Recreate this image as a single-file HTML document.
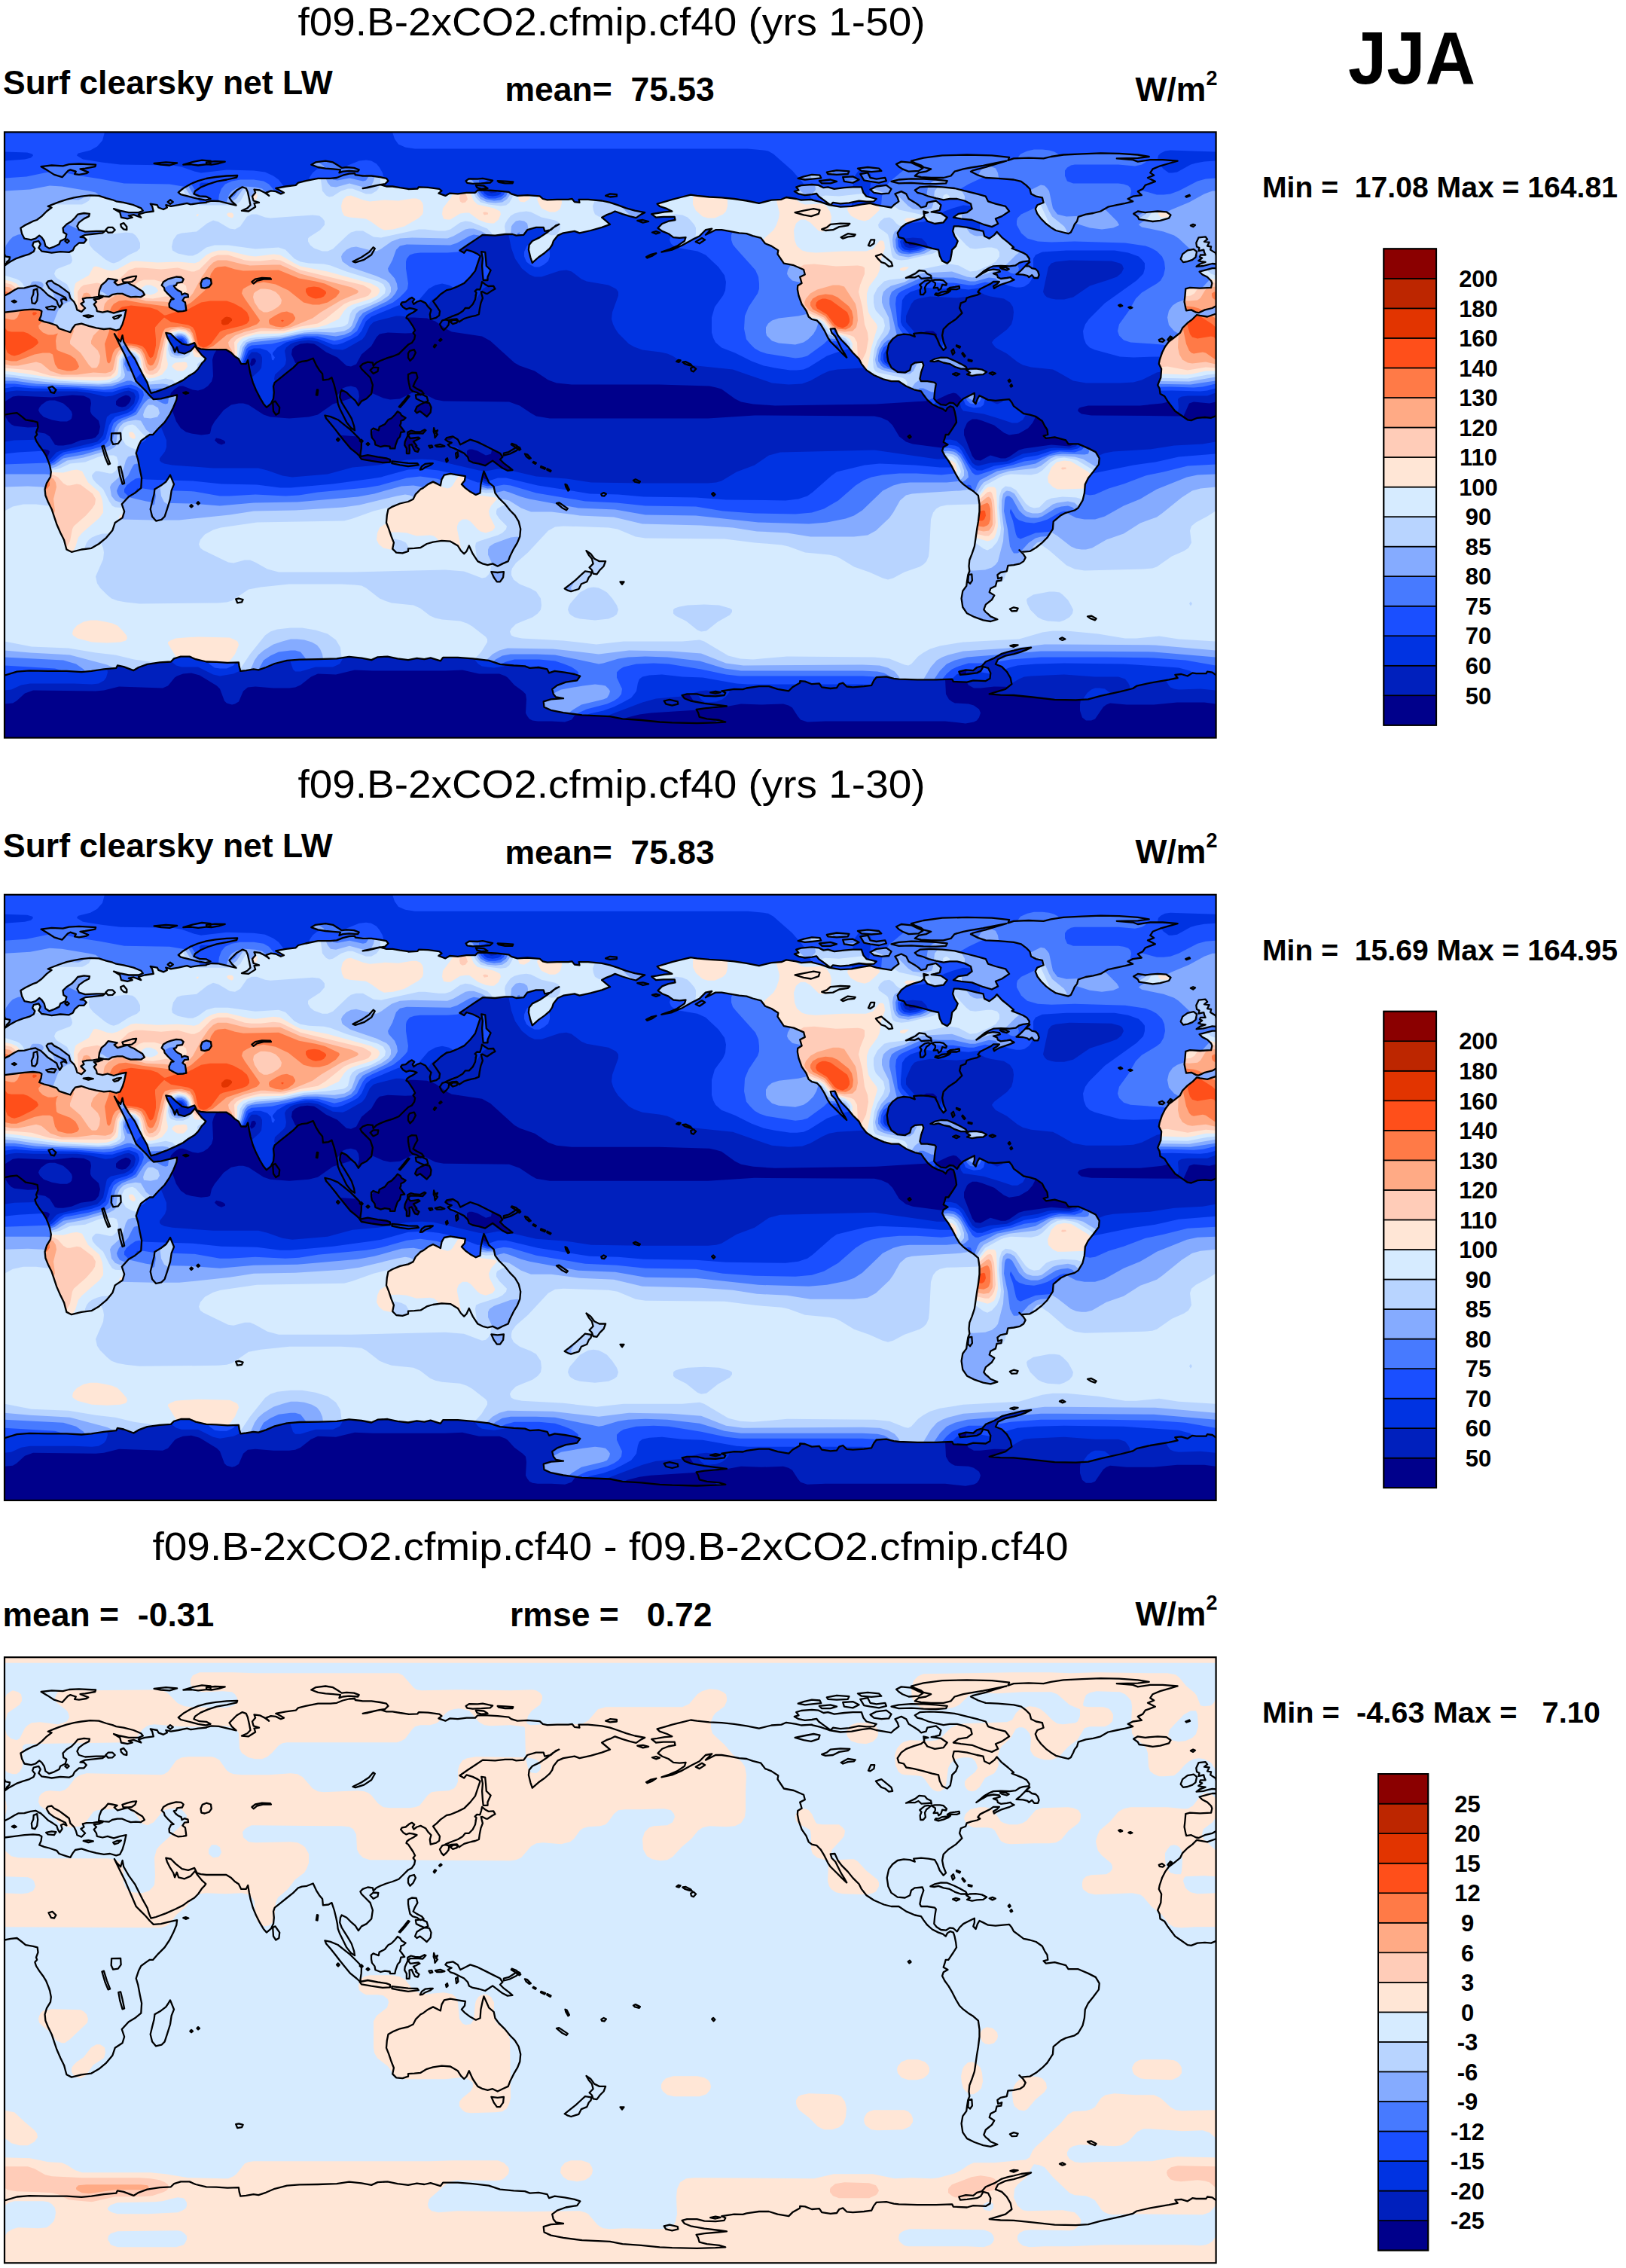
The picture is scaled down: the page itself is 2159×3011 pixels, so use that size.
<!DOCTYPE html>
<html><head><meta charset="utf-8"><title>JJA</title>
<style>html,body{margin:0;padding:0;background:#fff}svg{display:block;font-family:"Liberation Sans",sans-serif}</style>
</head><body>
<svg width="2159" height="3011" viewBox="0 0 2159 3011">
<rect width="2159" height="3011" fill="#fff"/>
<defs><clipPath id="frame"><rect x="0" y="0" width="1608.6" height="804.1"/></clipPath>
<clipPath id="landclip"><path clip-rule="evenodd" d="M575.6,467.5 578.9,469.2 580.5,460.9 583.8,455.2 592.0,453.5 601.9,455.2 611.8,456.8 611.0,462.6 606.9,467.5 611.8,472.5 618.4,477.4 625.8,481.5 631.6,479.1 632.4,467.5 634.9,456.0 636.5,450.2 639.8,457.6 643.1,465.1 649.7,470.8 651.4,479.1 656.3,485.7 664.6,493.9 671.2,502.1 677.7,508.7 682.7,517.0 685.2,526.9 684.3,536.8 681.0,545.0 676.1,553.2 671.2,563.1 668.7,569.7 661.3,573.0 654.7,576.3 648.1,573.0 641.5,574.7 634.9,573.0 628.3,569.7 625.0,564.8 621.7,559.8 616.8,549.1 613.5,556.5 610.2,559.8 606.0,555.7 601.9,549.1 592.0,543.3 580.5,542.5 569.0,544.2 560.7,546.6 552.5,551.6 544.2,552.4 536.0,552.9 536.0,556.5 528.4,559.0 520.2,558.2 515.2,553.2 516.9,545.0 513.6,536.8 510.3,526.9 507.0,518.6 507.8,508.7 509.5,500.5 515.2,497.2 525.1,493.1 536.0,490.6 542.6,487.3 545.9,480.7 552.5,474.1 555.8,472.5 562.4,467.5 569.0,464.2ZM196.1,510.4 193.7,500.5 196.1,490.6 198.6,480.7 199.4,474.1 207.7,469.2 214.3,464.2 217.6,459.3 220.0,455.2 225.0,467.5 221.7,475.8 220.0,487.3 215.9,500.5 212.6,510.4 208.5,514.5 201.1,516.2ZM474.0,434.2 471.6,430.9 472.2,430.8 467.4,426.3 459.2,419.7 451.0,409.8 444.4,401.6 439.4,395.0 432.8,386.8 427.1,380.2 425.4,376.1 432.8,377.7 442.7,381.8 451.0,388.4 459.2,395.0 465.8,401.6 470.7,406.5 474.0,411.5 473.7,419.7 472.7,426.3 472.4,430.8 482.3,428.8 495.5,431.3 507.0,432.9 511.9,434.6 511.9,438.2 502.0,438.7 487.2,436.5ZM638.2,416.4 648.1,421.4 658.0,426.3 661.3,431.3 658.0,434.6 662.9,439.5 669.5,444.5 674.5,448.6 667.9,449.4 661.3,446.1 654.7,441.2 648.1,436.2 643.1,439.5 638.2,442.8 629.9,440.3 621.7,438.7 616.8,436.2 615.1,431.3 610.2,426.3 603.6,423.0 597.0,419.7 592.0,418.1 588.7,414.8 593.7,412.3 588.7,410.7 585.4,408.2 587.1,405.7 595.3,404.1 601.9,408.2 605.2,414.8 611.8,411.5 618.4,408.2 628.3,411.5ZM542.9,399.9 538.4,399.9 536.2,403.0 538.8,406.6 542.9,406.1 549.6,405.2 551.4,406.6 546.0,409.3 542.9,410.6 547.3,416.4 546.0,417.3 550.5,420.9 548.7,424.5 545.1,423.6 542.9,420.0 540.6,414.6 537.5,415.5 537.9,422.2 537.5,426.7 533.9,426.7 533.9,420.0 531.2,415.5 531.7,411.1 535.3,403.0 535.3,398.5 539.7,396.3 545.1,397.7 551.8,398.1 557.6,395.0 559.4,395.9 555.4,400.3 549.6,399.9ZM513.8,379.8 518.3,375.3 521.9,370.8 525.4,373.1 527.2,376.2 532.6,379.3 529.9,382.0 526.3,383.4 526.3,386.5 525.0,389.6 527.2,392.3 531.2,397.7 526.3,398.5 525.0,404.4 521.9,407.9 520.5,411.9 519.2,415.5 518.3,420.0 512.0,420.0 511.6,417.3 504.9,416.4 499.5,417.8 492.4,415.1 491.5,410.2 487.9,405.7 487.0,400.8 487.0,395.4 489.7,393.2 492.8,394.5 496.8,395.9 497.7,391.4 504.9,387.8 509.4,382.0ZM555.8,373.7 551.7,370.4 547.5,372.8 545.1,370.4 547.5,364.6 552.5,361.3 558.3,358.8 564.0,359.7 566.5,365.4 565.7,372.0 560.7,377.8ZM556.6,347.3 552.5,348.9 547.5,345.6 541.8,344.0 538.5,340.7 536.8,332.5 536.0,327.5 536.0,321.7 540.9,319.3 546.7,319.6 548.4,325.9 545.1,331.6 542.6,337.4 547.5,340.7 554.1,344.0ZM38.7,146.3 45.3,144.6 47.8,148.8 45.3,153.7 49.4,158.2 56.0,159.1 62.6,160.3 74.2,158.7 85.7,159.5 90.7,157.0 93.1,152.1 98.9,147.1 105.5,147.1 108.8,143.0 105.5,139.7 100.5,139.4 107.1,136.4 118.7,135.1 130.2,133.9 133.5,131.5 122.0,131.5 107.1,132.3 98.9,129.8 96.4,124.9 98.9,119.9 105.5,115.0 112.1,111.7 112.9,108.4 105.5,107.6 97.2,109.2 93.9,113.3 89.0,118.3 82.4,122.4 77.5,127.3 78.3,133.1 82.4,135.6 80.8,141.3 74.2,144.6 72.5,148.8 65.9,152.1 59.3,154.5 54.4,151.2 52.7,144.6 49.4,139.7 46.2,137.2 41.2,141.3 35.4,143.0 26.4,141.3 23.1,134.8 21.4,127.3 28.0,123.2 37.9,118.3 42.9,116.6 49.4,111.7 56.0,105.1 62.6,100.1 57.7,98.5 65.9,95.2 72.5,92.7 82.4,89.4 92.3,87.0 102.2,85.3 113.7,84.0 125.3,84.5 135.2,87.8 143.4,89.9 148.3,91.9 158.2,93.5 171.4,96.8 181.3,101.0 183.8,104.3 178.0,106.7 164.8,106.7 153.3,104.3 145.0,101.8 153.3,106.7 154.9,113.3 163.2,115.0 169.8,113.3 164.8,110.9 171.4,109.7 181.3,113.3 178.0,109.2 186.2,106.7 197.8,105.1 196.1,98.5 193.7,95.2 202.7,96.8 204.4,100.1 211.0,102.6 215.9,100.1 214.3,96.8 220.9,98.5 230.8,96.8 242.3,94.4 247.2,96.0 257.1,94.4 268.0,93.5 268.0,92.9 274.6,91.2 284.5,91.6 296.0,94.4 307.6,97.2 301.8,91.9 298.5,87.0 303.4,82.0 308.4,77.1 315.8,72.9 320.7,74.6 322.9,79.5 324.9,88.6 326.5,96.8 322.4,101.0 315.0,104.3 324.0,105.1 333.1,99.3 331.5,94.4 338.0,93.5 330.6,91.1 329.0,85.3 333.1,80.4 331.5,76.2 338.9,77.1 345.5,80.4 351.2,84.5 347.1,80.4 353.7,77.9 360.3,78.7 366.9,82.0 371.0,80.4 365.2,77.1 360.3,74.6 373.5,72.1 386.7,70.5 390.0,67.2 399.9,64.7 416.3,61.4 432.8,61.4 441.1,60.6 449.3,57.3 457.5,55.3 465.0,54.8 465.8,56.8 475.7,58.1 487.2,58.1 498.8,59.8 507.0,61.4 509.5,64.7 505.3,68.8 499.3,69.8 507.0,72.1 515.2,72.1 525.1,73.8 536.0,75.4 536.0,75.7 548.4,75.1 550.0,72.9 562.4,73.4 577.2,75.4 580.5,77.9 576.4,81.2 585.4,84.5 591.2,81.2 601.9,82.0 613.5,80.4 625.0,80.4 628.3,77.1 641.5,77.1 654.7,77.9 669.5,79.5 672.8,82.0 681.0,84.5 694.2,83.7 710.7,85.0 714.8,88.6 720.6,89.9 733.8,89.4 748.6,89.4 753.6,88.6 756.9,92.7 763.5,93.5 762.6,89.4 775.0,89.4 793.1,91.1 804.0,93.5 813.9,96.8 825.4,101.0 837.0,104.3 850.2,106.7 845.2,109.2 838.6,113.7 830.4,111.7 820.5,108.7 810.6,105.1 805.6,107.6 799.1,110.0 793.1,113.3 799.1,118.3 804.0,122.4 793.1,126.5 778.3,130.6 763.5,133.9 756.9,131.5 742.0,133.9 734.6,137.2 728.8,144.6 727.2,149.6 723.9,154.5 717.3,160.3 709.1,166.1 700.8,173.5 698.3,166.1 695.9,156.2 696.7,149.6 700.8,144.6 710.7,139.7 720.6,133.1 724.4,130.0 717.3,131.5 715.7,126.5 705.8,126.5 694.2,129.8 689.3,136.4 679.4,137.2 674.5,135.6 664.6,135.6 651.4,137.2 634.9,136.4 625.0,143.0 615.1,149.6 604.4,157.0 610.2,160.3 613.5,156.2 621.7,158.7 628.3,161.9 631.6,164.4 628.3,174.3 625.0,184.2 618.4,192.4 610.2,200.7 610.2,200.6 601.9,204.7 592.0,208.8 587.1,209.7 578.9,215.4 573.9,220.4 569.0,224.5 573.1,230.3 578.0,237.7 577.2,243.5 573.1,246.4 565.7,248.4 564.8,241.8 566.5,236.0 562.4,231.9 559.1,227.0 552.5,223.7 547.5,225.3 543.4,228.3 541.8,225.3 544.2,222.0 540.9,219.6 537.6,221.2 532.7,225.3 527.8,226.1 526.1,228.6 529.4,232.7 533.5,235.2 537.6,233.6 542.6,234.4 547.5,236.0 542.6,239.3 537.6,241.8 534.4,244.3 533.5,246.8 536.0,248.4 539.3,253.3 542.6,258.3 545.1,263.2 542.6,266.5 545.1,269.8 544.2,274.8 540.9,279.7 536.0,282.2 530.1,288.0 523.5,294.5 515.2,297.8 507.0,300.3 498.8,303.6 493.8,306.1 489.7,310.2 488.9,306.1 482.3,305.3 475.7,307.7 472.4,311.0 474.0,314.3 479.0,319.3 485.6,325.9 488.9,335.8 487.2,347.3 480.6,353.9 474.0,357.2 469.9,362.9 465.8,356.4 459.2,350.6 454.2,345.6 447.7,342.3 446.0,345.6 445.2,352.2 447.7,358.8 451.8,365.4 455.9,372.0 460.8,380.3 464.1,390.1 465.0,395.9 460.0,392.6 454.2,385.2 449.3,375.3 445.2,367.1 442.7,360.5 441.9,353.9 440.2,345.6 437.8,335.8 434.5,325.9 430.3,328.3 422.9,329.2 422.1,320.9 418.0,316.0 413.9,309.4 409.7,300.3 401.5,303.6 394.9,304.4 390.0,306.1 383.4,312.7 375.1,319.3 366.9,325.9 358.7,332.5 357.0,337.4 357.8,345.6 357.0,353.9 353.7,360.5 347.9,365.4 343.8,360.5 338.9,352.2 333.9,342.3 329.8,332.5 326.5,320.9 324.9,312.7 323.2,302.8 320.7,307.7 314.2,307.7 310.9,301.1 305.9,297.8 301.0,292.9 294.4,288.8 281.2,288.8 268.0,288.8 260.4,288.0 255.5,286.3 252.2,279.7 243.9,282.7 235.7,281.0 227.5,274.4 220.9,267.8 214.3,266.5 215.9,271.5 219.2,278.1 224.2,286.3 226.1,292.1 228.8,285.5 231.1,292.1 239.0,294.1 247.2,290.4 253.0,283.8 255.5,288.0 262.1,296.2 267.3,300.8 265.4,303.6 262.1,306.9 257.1,314.3 252.2,319.3 243.9,324.2 237.3,329.2 227.5,334.1 214.3,339.9 201.1,344.8 194.5,346.5 192.0,340.7 189.5,332.5 183.0,320.9 177.2,309.4 173.1,301.1 164.8,289.6 158.2,278.1 156.6,269.8 154.1,278.1 149.2,273.1 145.9,267.8 150.0,276.4 154.9,286.3 159.9,296.2 164.8,307.7 169.8,319.3 174.7,330.8 181.3,337.4 187.9,344.0 192.8,349.8 197.8,354.7 207.7,353.9 217.6,351.4 229.1,348.9 228.3,355.5 224.2,365.4 219.2,375.3 212.6,385.2 204.4,393.4 197.0,401.7 192.8,401.6 187.9,404.9 181.3,409.8 178.0,416.4 174.7,426.3 177.2,434.6 179.7,447.8 182.1,459.3 181.3,472.5 173.1,479.1 164.8,484.0 155.8,493.9 159.1,503.8 156.6,512.0 146.7,518.6 143.4,528.5 135.2,538.4 125.3,546.6 115.4,552.4 102.2,554.1 89.0,557.4 82.4,554.1 80.8,548.3 79.1,541.7 74.2,531.8 69.2,520.3 65.9,510.4 62.6,500.5 57.7,490.6 54.4,482.4 53.6,474.1 56.0,465.9 61.0,457.6 61.8,451.0 60.2,442.8 58.5,437.9 55.2,429.6 51.1,423.0 46.2,416.4 42.0,409.8 40.4,404.9 43.2,401.6 42.0,398.4 44.5,391.8 43.7,385.2 37.9,383.6 28.0,381.9 23.1,377.8 16.5,372.8 8.2,373.7 0.0,375.3 -8.9,375.3 -8.9,239.3 0.0,239.3 13.2,237.7 26.4,236.0 37.9,235.2 46.2,236.0 49.4,237.7 48.6,243.5 46.2,249.2 52.7,251.7 59.3,253.3 69.2,256.6 72.5,260.8 82.4,264.1 87.4,265.7 90.7,259.9 93.9,255.8 102.2,254.2 112.1,257.5 122.0,259.9 131.9,261.6 140.1,260.8 148.3,263.2 153.3,261.6 156.6,255.0 159.1,246.8 160.7,239.3 161.5,236.0 153.3,237.7 145.0,240.2 136.8,237.7 130.2,239.3 122.8,237.7 122.0,233.6 118.7,228.6 122.0,225.3 118.7,222.0 125.3,221.2 130.2,219.1 123.6,218.7 117.8,219.6 108.8,220.0 103.8,221.2 105.5,225.3 101.4,227.8 107.1,233.6 102.2,238.5 96.4,236.0 94.8,230.3 92.3,225.3 87.4,220.4 85.7,213.8 79.1,208.8 72.5,203.9 65.9,200.6 62.6,197.3 57.7,198.1 55.7,200.6 56.9,203.1 59.3,207.2 65.9,212.1 72.5,215.4 80.8,219.6 82.4,223.3 78.3,221.2 75.0,222.9 76.6,227.8 73.3,232.7 70.9,228.6 69.2,223.7 64.3,220.4 57.7,216.3 52.7,211.3 47.8,206.9 45.3,205.9 41.2,203.6 34.6,204.7 26.4,206.9 18.1,207.2 13.2,209.7 6.6,213.8 0.0,217.1 -8.9,217.1 -8.9,177.3 0.0,177.3 6.6,172.7 15.7,167.7 24.7,164.4 33.0,161.9 38.7,158.7 40.4,154.5 37.1,150.4ZM498.8,69.6 487.2,72.1 475.7,74.6 482.3,73.8 495.5,70.5 499.3,69.8ZM725.5,129.8 730.1,125.8 728.8,126.5 724.4,130.0ZM736.3,122.4 732.1,124.0 730.1,125.8ZM43.2,401.7 43.2,401.6 43.2,401.6ZM211.8,206.4 212.7,210.0 216.7,214.5 221.2,218.9 224.7,221.6 221.2,222.1 218.5,227.9 218.9,232.3 224.7,235.5 230.1,238.1 236.8,237.7 241.3,236.8 240.8,232.3 239.9,226.1 236.4,223.4 239.0,219.4 244.0,218.9 243.5,215.4 239.0,214.0 235.5,215.8 234.6,212.2 230.1,210.0 227.4,207.8 224.7,204.2 227.9,203.3 229.2,200.2 235.9,199.3 237.7,195.3 234.6,192.6 227.9,192.1 221.2,193.9 216.7,195.3 210.9,198.8 208.7,203.3ZM125.1,216.7 131.8,218.0 138.5,218.5 143.0,215.8 149.7,214.5 156.4,214.5 162.2,217.1 167.6,218.9 174.3,218.5 181.0,218.9 185.9,215.8 183.2,211.3 177.4,207.8 172.0,204.2 167.6,202.4 163.5,199.7 157.7,201.1 150.1,203.3 145.7,199.3 149.7,196.6 143.0,195.3 137.6,194.4 134.0,198.8 128.7,203.3 126.0,210.0ZM260.5,201.1 261.4,206.4 265.8,207.3 271.7,205.5 274.8,201.1 273.9,195.3 268.1,193.5 262.7,195.7ZM625.8,217.1 625.9,216.6 625.5,216.7 626.2,214.9 626.5,212.9 624.6,211.3 627.3,208.7 631.3,209.1 633.1,203.3 634.0,198.8 638.0,202.0 642.5,204.6 649.2,204.2 651.4,208.2 647.9,210.0 641.2,214.5 639.8,214.5 634.5,211.8 632.8,212.0 633.6,215.4 634.9,220.4 632.4,227.0 630.8,235.2 629.9,241.8 625.0,243.8 620.1,244.8 615.1,246.1 610.2,247.7 606.0,250.4 603.6,252.0 600.6,248.1 593.7,248.7 588.7,250.0 585.4,248.4 593.7,244.8 601.9,241.8 608.5,237.7 611.8,233.6 616.8,233.6 621.7,228.6 625.0,222.0ZM-0.5,160.5 1.0,164.9 7.1,166.1 6.4,169.4 2.7,172.7 5.1,173.7 0.2,175.1 -4.8,174.6 -10.5,176.0 -13.4,176.7 -13.4,145.7 -8.9,146.3 -11.4,151.2 -6.4,152.1 -7.2,156.2ZM-11.4,142.2 -13.4,143.8 -13.4,139.4ZM309.2,57.6 308.2,60.3 295.0,63.1 281.8,65.5 270.3,69.2 260.4,73.4 253.0,78.4 251.4,82.0 258.8,85.0 268.0,85.6 273.6,88.6 267.0,90.3 257.1,88.6 243.9,85.3 234.0,82.8 230.8,80.0 237.3,74.6 247.2,68.8 257.1,64.7 268.0,61.6 280.2,59.6 295.0,58.1ZM100.5,49.0 111.3,53.2 108.8,54.8 98.9,56.5 93.1,55.6 94.8,52.3 87.4,49.9 84.1,51.5 76.6,59.8 65.9,56.5 56.9,50.7 48.6,45.8 62.6,44.1 77.5,44.9 85.7,42.8 98.9,42.1 121.1,43.3 120.3,45.8 107.1,48.2ZM470.7,49.9 469.1,52.3 457.5,51.5 449.3,52.3 444.4,54.0 446.0,49.9 436.1,49.0 426.2,48.2 416.3,46.6 407.3,43.3 413.0,40.0 426.2,38.3 436.1,40.0 442.7,44.1 447.7,47.4 454.2,46.6 464.1,47.4ZM237.3,43.3 250.5,39.5 262.1,37.2 273.6,38.3 273.6,42.1 257.1,44.1 247.2,42.8ZM148.3,711.4 150.0,708.1 158.2,709.7 171.4,714.7 178.0,710.6 189.5,706.4 206.0,704.0 220.9,703.1 225.0,699.0 234.0,696.2 245.6,696.2 253.8,699.8 268.0,703.1 281.2,703.5 296.0,704.5 310.9,704.0 311.7,709.7 313.3,715.5 320.7,714.7 330.6,713.0 337.2,713.9 347.1,710.6 358.7,705.6 375.1,701.5 391.6,700.2 416.3,699.8 441.1,699.0 457.5,696.5 474.0,698.2 487.2,700.7 495.5,696.9 508.6,696.2 521.8,699.0 536.0,700.7 547.5,698.5 557.4,699.8 565.7,697.9 578.9,702.0 582.2,697.4 601.9,697.4 621.7,699.0 643.1,701.5 658.0,706.4 676.1,708.1 690.9,708.9 697.5,711.4 709.1,710.6 720.6,713.0 723.1,718.0 730.5,715.5 743.7,717.2 756.9,719.6 764.3,722.1 760.2,727.9 745.3,730.3 733.8,734.5 727.2,739.4 728.8,746.0 732.1,750.1 742.0,751.8 725.5,752.9 715.7,755.9 716.5,763.3 725.5,767.4 742.0,770.7 766.8,774.0 804.0,775.7 820.5,779.0 845.2,780.6 869.9,783.1 886.4,783.9 919.4,784.7 944.1,783.9 957.3,783.1 949.0,780.6 932.6,779.0 922.7,776.5 921.0,770.7 918.6,766.6 929.3,764.9 947.4,763.3 958.9,762.1 949.0,760.8 929.3,758.4 911.1,755.1 902.9,751.8 899.6,747.6 906.2,746.0 919.4,746.0 929.3,748.5 944.1,749.0 955.6,747.6 957.3,744.3 952.3,741.9 968.8,739.4 980.4,739.7 985.3,738.1 1001.8,735.8 1015.0,735.8 1026.5,739.4 1041.3,741.9 1046.3,736.9 1056.2,731.2 1056.2,728.7 1062.8,729.2 1072.0,732.8 1081.9,732.0 1085.2,736.9 1096.7,738.6 1105.0,737.8 1108.3,732.8 1113.2,731.2 1118.2,736.1 1126.4,736.9 1141.2,735.8 1151.1,734.5 1154.4,727.9 1157.7,723.7 1170.9,722.9 1180.8,725.4 1187.4,726.2 1212.1,727.0 1236.8,727.0 1258.2,726.2 1259.9,729.5 1278.0,730.3 1286.3,727.9 1302.8,728.7 1308.5,725.4 1309.3,718.0 1306.0,711.4 1299.5,709.7 1296.2,715.5 1291.2,718.0 1278.0,719.6 1269.0,720.4 1267.3,716.3 1276.4,713.9 1286.3,714.7 1291.2,710.6 1297.8,708.9 1302.8,703.1 1314.3,698.2 1324.2,692.4 1332.4,690.0 1340.0,688.3 1349.9,685.8 1363.1,684.2 1356.5,687.5 1349.9,690.0 1340.0,692.9 1329.1,695.2 1319.2,699.8 1315.9,706.4 1324.2,709.7 1330.8,716.3 1335.7,724.6 1337.4,732.8 1329.1,739.4 1315.9,743.5 1307.7,746.0 1322.5,747.3 1340.0,747.6 1364.7,750.1 1394.4,753.4 1422.4,753.9 1438.9,752.9 1455.4,748.5 1481.7,742.7 1498.2,738.6 1503.2,735.3 1521.3,731.2 1546.0,727.0 1557.6,724.6 1554.3,720.4 1562.5,719.6 1570.8,722.1 1577.3,718.0 1582.3,718.8 1595.5,718.8 1597.1,716.3 1603.7,717.2 1608.0,720.4 1617.4,720.4 1617.4,813.2 -8.9,813.2 -8.9,721.3 0.0,721.3 16.5,716.3 33.0,715.0 57.7,715.5 82.4,715.5 102.2,716.7 115.4,715.5 131.9,713.0ZM748.1,608.5 743.7,606.1 750.3,601.0 758.5,594.4 765.1,588.3 770.9,582.9 779.1,584.2 778.6,588.2 775.8,591.1 773.3,596.9 765.9,599.9 762.5,606.6 752.2,609.8ZM646.4,583.7 654.7,584.6 662.9,583.7 662.1,591.1 658.0,596.9 653.8,596.9 649.7,591.1ZM781.6,586.2 779.9,581.3 776.6,578.0 781.6,573.0 779.9,566.4 775.8,561.5 772.5,555.7 778.3,559.8 783.2,566.4 789.8,569.7 798.1,569.7 795.6,576.3 790.6,581.3 786.5,587.0ZM1004.3,140.5 993.5,137.7 985.3,134.8 975.4,133.9 962.2,131.5 952.3,129.8 944.1,129.8 930.9,136.4 935.9,131.5 939.2,128.2 930.9,129.8 922.7,138.1 912.8,143.0 899.6,150.4 886.4,156.2 872.4,159.1 883.1,155.4 893.0,151.2 902.9,144.6 904.5,139.7 896.3,140.5 888.1,139.7 881.5,134.8 873.2,131.5 867.5,127.3 873.2,121.6 881.5,118.3 890.5,116.6 889.7,112.5 874.9,112.5 865.0,113.3 859.2,108.7 866.6,107.6 876.5,105.9 886.4,105.1 879.8,101.8 869.9,98.5 866.6,95.2 878.2,91.9 886.4,89.4 899.6,86.1 911.1,83.3 919.4,84.5 935.9,86.1 952.3,87.0 968.8,88.6 985.3,91.1 1001.8,94.4 1018.3,90.3 1031.5,89.4 1038.0,86.6 1051.2,88.6 1057.8,90.3 1072.0,89.4 1072.0,89.9 1083.5,92.7 1095.1,96.8 1109.9,99.3 1124.7,98.5 1137.9,96.0 1149.5,94.4 1157.7,96.8 1167.6,98.5 1177.5,100.1 1180.8,96.8 1187.4,91.9 1185.7,87.0 1182.4,82.0 1190.7,78.7 1197.3,82.0 1200.6,88.6 1208.8,93.5 1213.7,96.8 1217.0,100.1 1223.6,98.5 1225.3,93.5 1236.8,91.1 1243.4,96.8 1241.8,103.4 1235.2,105.1 1230.7,106.0 1243.4,107.6 1251.7,113.3 1246.7,119.9 1235.2,121.6 1225.3,118.3 1221.2,112.5 1221.2,111.7 1217.0,115.0 1207.2,117.9 1197.3,121.6 1190.7,126.5 1185.7,133.9 1187.4,139.7 1194.0,141.3 1197.3,146.3 1207.2,147.9 1220.3,151.2 1231.9,154.5 1240.1,156.2 1241.8,164.4 1245.1,171.0 1251.7,174.3 1255.8,170.2 1257.4,161.9 1258.2,156.2 1263.2,151.2 1265.7,144.6 1261.5,138.1 1259.1,131.5 1260.7,124.9 1266.5,124.9 1278.0,126.5 1291.2,129.8 1299.5,131.5 1301.1,138.1 1307.7,141.3 1314.3,136.4 1317.6,132.3 1324.2,139.7 1332.4,146.3 1340.0,152.9 1337.6,154.3 1347.5,158.2 1352.4,160.2 1357.3,163.1 1360.8,168.1 1360.3,171.0 1352.4,172.0 1347.5,173.5 1342.6,176.9 1334.7,177.9 1322.9,177.4 1313.0,177.9 1308.1,179.9 1301.2,183.8 1295.3,188.7 1290.4,192.7 1298.3,187.7 1305.2,183.8 1313.0,182.3 1320.9,183.3 1321.9,185.3 1317.0,186.8 1313.0,187.7 1318.0,189.7 1318.9,192.7 1322.9,194.6 1330.8,193.6 1335.7,192.7 1337.6,194.6 1340.6,196.1 1334.7,198.6 1322.9,202.5 1317.0,205.4 1314.0,207.4 1313.0,204.5 1318.0,201.5 1320.9,198.6 1313.0,198.6 1309.1,201.5 1301.2,205.4 1295.3,208.4 1292.4,212.3 1295.3,214.3 1291.4,216.3 1283.5,218.2 1277.6,220.2 1276.1,224.6 1269.8,227.0 1268.1,233.6 1271.4,240.2 1263.2,248.4 1253.3,255.0 1246.7,261.6 1245.1,269.8 1246.7,278.1 1250.0,286.3 1246.7,289.6 1241.8,283.0 1238.5,274.8 1235.2,269.0 1226.9,267.4 1217.0,266.5 1207.2,267.4 1208.8,271.5 1202.2,269.0 1194.0,268.2 1185.7,269.8 1179.1,274.8 1174.2,281.4 1171.7,292.9 1173.4,304.4 1177.5,312.7 1185.7,318.4 1195.6,319.3 1202.2,316.0 1203.9,309.4 1208.8,306.1 1218.7,305.3 1220.3,309.4 1217.0,319.3 1215.4,327.5 1217.0,330.8 1225.3,330.8 1235.2,332.5 1236.8,334.4 1235.2,344.0 1234.3,353.9 1237.6,358.0 1243.4,361.8 1250.0,362.5 1255.0,359.2 1259.9,359.8 1264.8,364.1 1268.1,358.8 1273.1,353.9 1279.7,350.6 1287.9,346.5 1287.9,352.2 1286.3,357.2 1289.6,360.8 1292.0,353.9 1294.5,349.8 1299.5,352.2 1306.0,355.5 1315.9,356.4 1325.8,355.5 1334.1,354.7 1337.4,358.8 1340.0,363.8 1346.6,368.7 1353.2,373.7 1361.4,375.3 1369.7,377.8 1377.9,383.6 1381.2,390.1 1384.5,395.1 1385.3,401.6 1379.6,403.2 1382.9,406.5 1394.4,404.9 1409.2,409.0 1412.5,414.0 1425.7,414.0 1438.9,419.7 1448.8,424.7 1453.7,432.9 1452.9,441.2 1445.5,451.0 1438.9,459.3 1434.8,467.5 1433.9,479.1 1431.5,489.0 1425.7,498.8 1420.8,502.1 1409.2,505.4 1402.6,508.7 1392.7,517.0 1391.9,526.9 1384.5,538.4 1377.9,545.0 1369.7,551.6 1361.4,556.5 1349.9,557.4 1347.4,554.9 1352.4,559.8 1355.7,564.8 1353.2,569.7 1348.2,573.0 1340.0,574.7 1332.4,575.5 1330.8,582.9 1322.5,584.6 1318.4,587.8 1319.2,592.8 1324.2,591.1 1323.4,595.3 1317.6,596.1 1315.9,602.7 1315.9,602.6 1309.3,605.9 1307.7,610.8 1314.3,615.0 1311.0,620.7 1302.8,627.3 1300.3,633.9 1302.8,637.2 1306.0,639.7 1309.3,643.0 1318.4,646.8 1309.3,649.6 1299.5,647.9 1287.9,643.8 1278.0,638.9 1272.3,630.6 1270.6,619.1 1272.3,609.2 1277.2,602.6 1277.2,602.7 1278.0,596.1 1279.3,587.8 1281.3,582.9 1280.5,576.3 1281.3,568.1 1284.6,559.8 1287.9,549.9 1289.6,538.4 1291.2,526.9 1292.9,517.0 1294.5,503.8 1294.5,493.9 1292.9,482.4 1286.3,476.6 1279.7,472.5 1273.1,467.5 1268.1,462.6 1263.2,454.3 1258.2,444.5 1253.3,436.2 1248.4,429.6 1245.1,423.0 1246.7,418.1 1252.5,414.8 1246.7,411.5 1248.4,406.5 1249.7,401.6 1253.3,401.7 1256.6,396.7 1259.9,391.8 1264.0,385.2 1263.2,378.6 1261.5,370.4 1259.9,365.4 1255.8,363.8 1252.0,366.2 1249.7,370.4 1245.9,367.4 1240.1,365.4 1231.9,361.3 1225.3,355.5 1220.3,348.9 1217.0,344.0 1208.8,342.3 1197.3,337.4 1187.4,330.8 1177.5,330.8 1167.6,328.3 1154.4,322.6 1144.5,316.0 1137.9,307.7 1134.6,301.1 1126.4,292.9 1119.8,284.7 1111.6,276.4 1106.6,269.8 1102.5,260.8 1096.7,261.3 1098.4,266.5 1103.3,271.5 1107.4,279.7 1111.6,288.0 1115.7,294.5 1118.2,299.2 1111.6,292.9 1105.0,286.3 1096.7,278.1 1093.4,273.1 1088.5,263.2 1083.5,255.0 1078.6,250.0 1072.0,248.4 1067.7,245.1 1064.4,236.9 1058.6,228.6 1054.5,217.1 1052.9,208.8 1053.2,203.9 1058.6,200.6 1056.2,192.4 1062.8,189.1 1061.1,182.6 1047.9,176.8 1034.8,174.3 1026.5,161.9 1027.3,157.0 1018.3,151.2 1010.0,147.9ZM1221.2,107.6 1226.4,106.6 1220.3,105.1 1221.2,111.7ZM1058.6,200.7 1058.6,200.6 1058.6,200.6ZM634.9,189.1 634.1,177.6 634.9,167.7 633.2,158.7 638.2,159.5 639.0,167.7 639.8,177.6 645.6,183.4 641.5,192.4 641.5,196.6 635.7,196.6ZM1144.5,85.3 1157.7,88.6 1154.4,91.9 1144.5,92.2 1134.6,91.2 1121.4,93.9 1109.9,94.9 1100.0,93.5 1096.7,96.8 1086.8,89.4 1081.1,85.3 1078.2,81.6 1072.0,82.8 1062.8,83.7 1054.5,82.0 1048.8,78.7 1054.5,77.1 1051.2,72.9 1057.8,70.8 1072.0,69.6 1080.9,70.5 1087.5,73.8 1087.5,73.8 1093.4,72.9 1101.7,75.4 1114.9,73.8 1126.4,72.9 1137.9,72.9 1140.4,80.4ZM1157.7,72.1 1170.9,70.5 1177.5,75.4 1174.2,81.2 1164.3,82.0 1154.4,80.4 1149.5,76.2ZM614.3,67.5 612.6,64.7 616.8,61.9 628.3,62.2 634.9,61.4 648.1,64.2 644.8,67.2 633.2,68.0 621.7,68.5ZM1134.6,63.1 1126.4,67.2 1114.9,65.5 1113.2,59.8 1126.4,58.9ZM1141.2,63.9 1136.3,55.6 1146.2,54.0 1149.5,60.6 1157.7,62.2 1169.2,60.6 1170.9,64.7 1161.0,67.2 1149.5,65.5ZM1082.5,57.3 1084.2,60.9 1072.0,62.2 1062.8,63.1 1053.7,61.4 1061.1,58.9 1072.0,56.5ZM1105.0,50.7 1121.4,52.0 1119.8,55.6 1105.0,56.5 1093.4,55.6 1091.8,53.2ZM1161.0,48.2 1164.3,51.5 1151.1,52.7 1137.9,51.5 1133.0,48.2 1146.2,46.6ZM1385.3,401.6 1385.3,401.7 1385.3,401.6ZM1284.6,323.4 1278.0,321.7 1282.1,319.3 1277.2,316.0 1281.3,314.3 1289.6,314.0 1297.8,315.2 1304.1,318.4 1299.5,321.7 1291.2,322.2ZM1554.3,370.4 1549.3,363.8 1544.4,357.2 1540.3,350.6 1534.5,347.3 1533.7,340.7 1531.2,335.8 1535.3,325.9 1536.1,314.3 1532.8,307.7 1533.7,302.8 1537.0,292.9 1541.1,284.7 1546.0,278.1 1552.6,273.1 1560.9,266.5 1564.2,259.9 1570.8,253.3 1577.3,248.4 1583.1,242.6 1587.2,243.5 1597.1,245.1 1610.3,240.5 1610.3,376.1 1602.1,379.4 1593.8,378.6 1583.9,379.4 1575.7,382.7 1570.8,381.9 1562.5,376.1ZM1269.8,314.3 1261.5,311.4 1255.0,307.7 1246.7,306.1 1240.1,303.6 1234.3,304.8 1229.4,304.1 1235.2,301.1 1243.4,299.2 1251.7,299.5 1261.5,303.6 1269.8,307.7 1276.4,311.4 1278.0,314.3ZM1568.3,233.6 1566.6,225.3 1567.5,217.1 1568.3,208.0 1574.0,206.4 1587.2,207.2 1602.1,206.4 1603.4,200.6 1602.1,197.3 1597.1,192.4 1590.5,189.1 1586.6,185.3 1597.1,182.5 1603.7,180.8 1610.3,180.8 1610.3,229.9 1603.7,233.6 1593.8,236.0 1585.6,239.8 1582.3,239.3 1575.7,236.0 1569.1,236.9ZM1358.3,190.7 1352.4,189.2 1343.5,188.7 1348.5,184.8 1354.4,178.9 1355.4,177.9 1360.3,177.9 1364.2,180.8 1369.1,181.8 1372.1,184.8 1373.6,189.7 1372.1,193.6 1367.2,193.6 1364.2,189.7 1360.3,192.7ZM1358.3,174.5 1361.3,172.5 1355.4,177.9 1355.4,177.9ZM1570.8,171.8 1565.0,172.7 1561.7,168.5 1564.2,161.9 1570.8,157.0 1579.0,155.4 1583.1,158.7 1581.5,166.1 1577.3,169.4ZM1608.0,160.5 1609.5,164.9 1615.6,166.1 1614.9,169.4 1611.1,172.7 1613.6,173.7 1608.7,175.1 1603.7,174.6 1597.9,176.0 1591.8,177.6 1582.6,178.4 1587.2,175.1 1594.6,172.5 1588.9,171.8 1585.3,170.7 1590.2,167.1 1587.1,165.7 1587.9,163.1 1594.6,163.1 1593.0,159.5 1592.3,156.3 1585.6,157.7 1586.4,153.7 1583.1,152.1 1582.3,147.0 1585.6,139.9 1594.6,138.9 1597.1,142.2 1593.0,145.5 1599.6,146.3 1597.1,151.2 1602.1,152.1 1601.2,156.2ZM1546.0,114.2 1534.5,117.4 1524.6,118.6 1514.7,117.0 1506.5,115.8 1504.8,112.5 1499.1,108.4 1504.8,105.1 1514.7,106.7 1521.3,105.9 1531.2,105.1 1542.7,105.9 1548.5,110.0ZM1306.0,91.9 1315.9,95.2 1329.1,98.5 1334.1,105.1 1324.2,111.7 1315.9,115.0 1319.2,121.6 1311.0,125.7 1299.5,122.4 1284.6,116.6 1269.8,115.0 1259.9,113.3 1266.5,108.4 1278.0,106.7 1284.6,101.8 1283.0,95.2 1274.7,91.1 1264.8,88.6 1255.0,88.6 1246.7,89.9 1236.8,87.8 1226.9,85.3 1218.7,82.0 1212.1,80.4 1208.8,77.1 1215.4,72.9 1228.6,72.1 1245.1,72.9 1261.5,74.6 1278.0,78.7 1291.2,82.0 1302.8,85.3ZM1504.8,30.1 1519.7,32.6 1504.8,34.5 1476.8,35.0 1498.2,36.7 1504.8,39.2 1521.3,36.7 1537.8,36.7 1557.6,38.3 1546.0,41.6 1534.5,44.9 1524.6,49.0 1521.3,54.0 1526.2,57.3 1518.0,60.6 1527.9,65.5 1514.7,70.5 1511.4,75.4 1504.8,78.7 1509.8,83.7 1498.2,85.3 1491.6,88.6 1498.2,91.9 1488.3,94.4 1476.8,96.8 1465.3,99.3 1455.4,105.1 1445.5,107.6 1435.6,109.2 1425.7,112.5 1424.1,118.3 1420.8,122.4 1419.1,126.5 1415.8,133.1 1412.5,134.8 1405.9,133.1 1396.0,130.6 1389.4,126.5 1382.9,121.6 1376.3,115.0 1371.3,108.4 1368.8,101.8 1371.3,96.8 1379.6,93.5 1377.9,87.0 1369.7,85.3 1363.1,82.0 1361.4,75.4 1356.5,70.5 1349.9,65.5 1340.0,63.1 1319.2,61.4 1302.8,60.6 1292.9,57.3 1283.0,52.3 1286.3,50.7 1302.8,46.6 1315.9,42.5 1330.1,38.3 1330.4,38.3 1315.9,41.1 1299.5,44.4 1283.0,47.1 1273.1,49.0 1261.5,52.3 1256.6,58.1 1246.7,60.6 1230.2,60.6 1217.0,59.8 1208.8,58.1 1213.7,54.0 1223.6,52.3 1230.2,49.0 1220.3,46.6 1217.0,44.1 1208.8,40.8 1203.9,38.3 1220.3,34.2 1245.1,30.9 1278.0,30.1 1311.0,30.9 1334.1,33.4 1332.5,37.5 1340.0,35.0 1359.8,34.2 1379.6,35.0 1389.4,32.6 1405.9,30.1 1430.7,28.9 1455.4,27.9 1480.1,28.4ZM1236.8,68.8 1220.3,68.5 1203.9,67.5 1187.4,68.0 1177.5,65.5 1187.4,63.1 1203.9,61.9 1220.3,62.2 1236.8,63.1 1251.7,64.7 1250.0,68.0ZM1187.4,45.8 1184.1,42.5 1190.7,39.2 1203.9,40.5 1212.1,44.4 1219.5,47.7 1213.7,51.5 1200.6,52.3 1192.3,49.0Z"/></clipPath>
<g id="fill1" clip-path="url(#frame)"><g><rect x="-5" y="-5" width="1618.6" height="814.1" fill="#00008b"/>
<path fill="#0020bd" fill-rule="evenodd" d="M0,0 1608,0 1608,337 1603,342 1602,349 1603,357 1608,376 1608,804 957,804 952,791 938,774 929,768 920,767 858,771 843,773 827,777 817,782 809,789 805,795 804,804 0,804 0,376 5,384 9,388 13,390 31,392 54,391 65,389 76,383 85,373 88,369 90,364 88,360 86,357 67,349 49,338 42,335 31,333 18,333 7,334 0,337ZM429,214 418,221 386,251 375,258 366,261 357,262 311,264 303,266 295,270 289,277 278,295 276,302 277,324 275,331 270,337 264,341 257,343 250,342 237,337 232,337 226,341 221,346 219,353 220,362 228,384 234,393 241,398 248,400 261,402 270,401 273,400 275,391 279,384 291,369 301,362 311,360 317,360 324,362 344,375 353,378 378,380 404,378 416,375 436,361 458,354 474,346 480,344 487,346 503,353 512,355 525,354 541,346 547,344 554,346 572,355 583,357 670,358 684,363 699,373 706,377 724,380 934,380 996,376 1155,377 1164,379 1173,383 1179,389 1188,404 1197,411 1206,414 1244,419 1258,417 1270,411 1279,402 1285,391 1284,382 1270,353 1264,347 1260,346 1253,348 1238,355 1222,357 1157,361 1023,363 994,361 978,358 970,354 952,341 945,339 936,337 869,335 753,335 733,333 722,329 704,317 684,310 677,306 645,277 634,271 594,265 588,262 572,251 561,247 543,246 480,246 465,244 458,241 453,237 450,232 445,219 441,214 436,213ZM1571,346 1553,356 1537,360 1508,363 1439,363 1430,365 1427,366 1425,369 1426,371 1430,374 1443,376 1555,377 1566,377 1573,375 1579,371 1584,364 1586,357 1586,351 1583,346 1577,345ZM281,406 279,409 283,413 288,415 293,413 293,411 291,409 286,407Z"/>
<path fill="#0033e2" fill-rule="evenodd" d="M0,0 1608,0 1608,321 1593,320 1564,316 1546,316 1530,319 1510,329 1499,332 1481,333 1436,333 1419,330 1398,318 1392,315 1363,312 1352,309 1345,305 1331,294 1316,286 1312,281 1311,279 1314,275 1331,262 1337,255 1339,248 1340,239 1339,232 1335,226 1327,221 1309,218 1302,216 1280,204 1249,199 1240,196 1234,190 1231,183 1228,156 1224,147 1218,141 1206,140 1197,141 1167,152 1161,156 1158,163 1157,172 1157,181 1159,190 1167,206 1169,214 1171,241 1169,261 1164,284 1160,297 1155,305 1148,310 1139,313 1106,315 1095,317 1086,321 1070,330 1059,334 1041,335 1019,333 987,322 967,315 909,309 901,306 887,297 880,294 871,292 847,289 836,285 829,281 815,267 811,261 808,255 806,248 807,239 815,217 815,212 812,208 802,203 773,198 766,195 753,185 746,183 737,184 713,192 704,192 697,189 687,181 678,168 673,154 668,130 664,121 659,117 652,114 634,112 623,113 614,116 594,129 570,138 552,150 545,153 516,159 489,169 465,174 453,179 436,189 420,200 382,238 375,244 369,247 353,250 315,251 299,252 273,259 261,264 246,275 230,284 225,288 216,315 212,322 196,342 191,353 190,360 191,366 206,387 215,409 215,418 213,424 206,433 206,436 208,438 212,440 223,442 277,446 337,446 349,449 369,456 382,458 429,454 462,445 496,442 534,435 554,434 570,435 630,449 639,450 655,447 663,447 706,457 746,460 779,465 847,466 934,466 945,465 952,463 972,451 996,442 1015,429 1030,425 1155,422 1238,434 1253,434 1262,432 1271,426 1285,417 1300,401 1305,398 1311,397 1318,397 1327,401 1340,410 1358,424 1367,429 1381,432 1421,436 1439,435 1461,426 1472,424 1521,421 1553,416 1591,414 1608,411 1608,804 1430,804 1431,762 1433,751 1438,744 1443,740 1448,738 1454,738 1461,739 1470,746 1481,763 1486,766 1490,763 1492,757 1494,744 1494,735 1492,731 1488,726 1479,723 1448,723 1407,720 1363,722 1354,723 1347,726 1327,738 1314,742 1302,741 1282,731 1278,731 1271,733 1262,740 1235,768 1213,784 1208,793 1206,804 984,804 982,795 980,789 968,771 957,751 952,746 947,744 940,742 932,741 923,742 900,749 865,752 847,757 810,771 777,784 766,793 762,798 758,804 0,804 0,411 13,409 51,408 63,405 74,402 85,395 102,378 107,369 109,362 107,355 101,349 74,340 49,325 31,322 0,321ZM1396,172 1390,174 1386,179 1379,212 1381,216 1384,219 1390,221 1396,222 1407,222 1419,219 1441,204 1466,196 1477,192 1483,187 1486,181 1484,176 1481,174 1470,171 1414,170ZM1370,755 1374,753 1376,754 1380,762 1381,775 1382,804 1366,804 1367,768 1368,760Z"/>
<path fill="#1a4fff" fill-rule="evenodd" d="M0,0 133,0 130,11 123,19 114,24 98,28 97,29 96,31 104,36 129,40 154,43 223,44 235,46 252,52 261,54 295,50 331,51 346,53 357,58 364,63 370,71 380,94 386,101 393,105 398,104 400,98 403,69 405,60 409,54 415,49 424,47 451,46 471,38 480,37 487,38 494,42 498,47 502,54 504,63 505,76 505,127 503,136 500,143 497,147 491,153 480,158 447,163 440,166 433,169 424,178 391,216 374,232 366,237 353,241 302,242 264,247 252,252 235,264 214,272 209,277 204,284 199,299 194,307 162,340 147,357 143,364 144,369 150,375 174,386 183,391 187,395 189,402 188,408 183,412 176,414 150,417 142,420 137,424 135,431 136,438 141,447 150,454 161,458 188,461 250,463 288,467 335,468 366,472 380,472 436,467 487,460 500,458 536,448 558,447 576,449 596,453 628,465 637,465 655,459 666,459 708,469 777,480 815,481 849,484 918,485 958,488 1037,489 1054,487 1066,483 1073,478 1098,456 1105,451 1113,449 1142,442 1162,440 1209,442 1242,445 1256,445 1264,442 1271,439 1300,416 1309,412 1318,413 1329,418 1338,424 1354,436 1367,442 1381,446 1432,454 1445,453 1499,442 1528,438 1559,431 1608,427 1608,804 1586,804 1586,733 1582,722 1574,715 1559,711 1486,706 1407,705 1369,706 1345,708 1334,711 1316,718 1309,719 1285,715 1271,717 1264,720 1258,726 1233,754 1225,762 1211,769 1195,772 1186,771 1178,766 1172,760 1162,739 1157,736 1151,734 1139,733 987,733 972,732 927,724 900,723 873,720 856,721 847,723 843,726 841,731 839,742 836,746 832,751 821,757 809,763 795,768 777,772 768,776 752,791 748,797 746,804 654,804 657,789 665,775 686,753 716,724 718,719 718,717 716,715 710,713 690,711 675,712 663,717 644,735 628,753 624,760 622,768 622,804 0,804 0,427 18,425 54,423 67,420 80,415 94,406 117,384 126,371 128,364 127,357 123,351 120,346 112,342 78,335 71,331 58,321 49,318 36,315 0,313 0,38 27,36 35,34 38,31 37,29 30,27 0,26ZM515,0 1608,0 1608,26 1548,24 1541,25 1535,28 1532,31 1531,36 1533,42 1539,49 1546,54 1550,54 1557,53 1575,43 1582,41 1593,39 1608,38 1608,313 1593,311 1568,302 1553,298 1535,298 1499,299 1481,298 1448,289 1441,286 1436,281 1433,273 1432,264 1435,255 1440,248 1461,227 1503,197 1512,188 1514,181 1514,174 1511,170 1506,165 1492,160 1474,157 1410,157 1378,159 1369,163 1366,168 1366,190 1363,197 1360,201 1354,205 1349,206 1343,206 1334,204 1321,199 1311,193 1298,181 1292,172 1290,161 1295,134 1295,118 1291,105 1288,101 1285,98 1273,97 1259,101 1248,105 1229,116 1220,119 1200,121 1177,133 1166,133 1157,130 1153,125 1151,121 1148,105 1148,87 1151,58 1148,52 1142,49 1134,51 1129,58 1127,67 1125,96 1117,118 1119,125 1136,147 1142,163 1145,194 1151,219 1152,230 1151,250 1146,264 1138,277 1130,284 1124,287 1106,292 1092,297 1068,312 1061,315 1052,316 1043,316 1023,313 1008,310 992,304 970,293 952,286 944,279 941,273 939,266 939,246 943,232 954,217 957,210 958,199 956,190 948,179 931,163 920,158 891,153 885,148 883,143 885,136 891,127 898,120 905,116 916,113 943,110 972,103 996,102 1014,104 1025,109 1041,119 1050,122 1061,122 1072,117 1075,114 1076,109 1070,85 1065,74 1059,66 1046,51 1021,29 1014,25 1008,24 987,22 545,22 532,20 523,16 518,9ZM701,145 708,145 715,147 721,152 724,159 724,165 722,171 716,176 710,179 704,179 698,176 693,172 690,165 690,159 693,152 697,147Z"/>
<path fill="#477aff" fill-rule="evenodd" d="M1358,25 1367,23 1378,23 1387,24 1394,26 1399,29 1402,34 1409,49 1414,54 1421,56 1439,59 1448,63 1454,67 1472,82 1479,87 1486,89 1492,88 1503,79 1508,78 1512,78 1530,83 1539,83 1548,82 1559,78 1584,65 1595,62 1608,61 1608,305 1595,302 1575,292 1559,286 1537,282 1495,279 1486,276 1480,270 1478,264 1480,255 1493,237 1502,221 1510,213 1530,201 1535,197 1539,190 1541,181 1540,172 1537,165 1530,158 1523,154 1515,151 1488,147 1421,145 1390,146 1372,145 1358,141 1350,134 1344,123 1344,118 1345,114 1350,109 1365,102 1372,98 1381,87 1385,78 1385,74 1381,70 1354,64 1348,60 1345,56 1342,47 1344,36 1349,29ZM1210,45 1238,43 1276,46 1294,49 1299,51 1302,56 1299,60 1280,69 1261,80 1240,91 1222,102 1213,104 1200,101 1195,102 1180,115 1175,117 1171,116 1166,110 1164,98 1165,85 1169,74 1175,66 1193,51 1200,47ZM53,54 65,52 76,53 101,58 127,62 159,68 219,69 237,72 248,77 255,83 258,89 264,113 268,118 273,120 277,119 280,114 282,107 285,83 288,75 293,69 302,65 313,63 331,63 344,65 351,69 357,76 366,100 381,121 389,143 393,149 406,161 408,168 406,176 402,185 389,201 371,218 362,225 355,228 349,229 286,231 264,233 250,237 244,240 229,250 205,261 198,268 188,281 181,288 154,304 130,324 118,329 103,331 87,330 78,328 60,315 51,312 0,305 0,61 29,59ZM470,58 478,56 483,57 486,60 489,67 491,87 491,127 488,139 483,145 478,148 471,150 458,150 451,149 445,145 441,141 439,136 437,116 438,89 441,80 445,74 451,68ZM980,123 994,122 1008,123 1016,127 1030,137 1041,141 1054,140 1086,134 1095,134 1101,136 1108,139 1115,144 1124,154 1130,163 1133,172 1134,185 1133,199 1129,210 1123,219 1108,237 1106,244 1101,264 1096,273 1088,281 1066,297 1059,299 1050,300 1012,294 1003,291 996,287 990,281 985,275 982,261 983,244 988,232 1000,214 1002,208 1002,201 1001,192 997,183 971,154 967,149 965,143 965,136 968,130 974,125ZM1324,163 1332,163 1336,165 1340,170 1345,176 1347,181 1346,185 1345,187 1340,188 1336,187 1330,183 1326,179 1321,170 1322,165ZM1305,427 1311,425 1316,425 1327,427 1334,431 1349,443 1358,448 1374,455 1399,462 1432,480 1441,482 1448,481 1466,473 1486,467 1515,456 1539,451 1571,443 1608,441 1608,708 1568,701 1526,698 1463,697 1376,697 1336,700 1307,705 1280,705 1267,709 1258,713 1251,719 1223,753 1213,759 1200,762 1193,761 1186,757 1181,751 1172,731 1166,726 1157,723 1139,722 976,722 958,720 925,713 882,706 862,705 839,706 822,710 817,713 813,717 813,724 818,735 820,739 819,746 815,751 809,755 800,759 773,766 762,771 751,781 744,788 740,795 738,804 666,804 669,793 675,783 694,762 715,742 728,734 754,724 762,719 762,717 760,715 753,710 743,706 731,702 710,700 677,700 666,703 657,707 636,726 616,748 613,755 611,764 611,804 409,804 407,795 396,775 390,748 378,717 373,710 369,708 364,708 360,709 355,713 352,717 350,724 349,739 349,804 88,804 88,735 86,726 83,719 77,715 67,712 0,708 0,441 56,439 89,438 105,438 112,440 118,443 139,462 145,466 152,468 197,475 252,477 286,483 299,483 333,481 373,483 391,482 416,478 480,472 498,469 534,459 552,457 574,460 590,465 598,469 612,482 619,484 626,483 632,481 652,470 663,468 672,469 706,479 771,490 813,492 851,496 918,497 954,503 996,506 1050,507 1072,505 1088,500 1107,489 1130,469 1141,462 1151,458 1166,455 1188,453 1211,453 1244,455 1262,453 1276,448Z"/>
<path fill="#85abff" fill-rule="evenodd" d="M60,71 76,72 112,78 121,80 125,83 131,89 133,98 133,112 129,123 125,127 121,130 109,132 100,130 83,122 76,121 51,132 18,136 11,139 7,143 2,150 0,157 0,78 34,76ZM309,74 319,72 333,73 342,75 348,80 351,86 357,104 369,121 373,129 377,159 377,163 376,165 369,166 317,166 284,162 277,164 272,170 264,189 257,196 248,199 219,203 210,208 205,214 195,239 183,259 177,268 167,277 141,295 121,314 107,322 96,324 87,323 80,320 65,310 56,306 0,293 0,179 4,178 89,179 109,177 125,173 141,162 150,158 163,157 197,156 208,154 217,150 230,140 237,138 248,138 270,144 277,143 281,140 285,136 291,125 293,116 295,92 298,83 302,78ZM1604,78 1608,78 1608,157 1606,168 1603,172 1597,172 1591,168 1575,156 1559,141 1553,137 1539,132 1510,126 1506,123 1508,121 1513,118 1530,113 1549,103 1573,93 1593,82ZM1424,80 1434,80 1443,85 1462,103 1477,118 1480,123 1479,124 1472,127 1457,129 1441,127 1419,120 1412,120 1396,124 1390,123 1389,118 1396,107 1414,87 1419,83ZM467,83 471,83 475,87 476,94 477,112 476,121 475,127 471,132 467,133 462,132 459,127 457,121 457,109 459,92 462,86ZM1079,152 1090,150 1099,152 1110,160 1118,172 1120,181 1119,190 1113,199 1104,206 1097,208 1090,208 1074,203 1050,198 1046,197 1041,192 1039,188 1040,183 1044,176 1049,170 1060,161ZM1607,181 1608,179 1608,293 1597,289 1553,264 1546,256 1544,246 1546,237 1551,230 1557,226 1576,219 1587,210 1599,197ZM1067,241 1072,240 1077,241 1080,246 1080,255 1078,261 1074,268 1067,275 1061,279 1050,282 1028,280 1019,277 1012,270 1011,266 1011,259 1014,254 1019,250 1028,247 1054,244ZM1312,438 1323,437 1331,441 1368,467 1413,507 1423,512 1434,514 1448,514 1461,510 1486,496 1508,487 1530,474 1570,458 1584,455 1608,454 1608,697 1526,690 1405,689 1376,689 1278,697 1262,701 1251,706 1242,715 1227,737 1219,746 1211,752 1202,754 1195,752 1190,748 1186,742 1181,728 1175,722 1168,718 1159,716 1139,715 978,715 956,712 923,702 880,697 851,696 828,697 815,699 795,705 789,706 731,694 706,693 672,693 661,695 652,700 630,722 610,744 606,753 604,762 603,804 423,804 420,789 410,764 400,699 397,695 393,690 386,688 380,688 364,690 353,695 344,701 339,710 336,719 335,733 335,804 113,804 113,733 111,722 105,713 95,706 78,701 0,697 0,454 54,454 105,457 116,461 132,474 141,479 188,490 201,492 246,493 286,496 331,492 389,491 469,484 491,480 527,470 543,469 554,471 560,474 572,483 592,487 608,496 614,498 621,497 628,494 655,478 663,476 670,478 686,484 697,487 762,499 811,501 851,508 918,509 1001,518 1068,520 1092,518 1117,513 1128,509 1139,502 1166,476 1180,469 1191,466 1202,465 1251,465 1271,463 1285,458 1302,443ZM768,735 784,733 793,734 798,735 802,739 804,742 803,746 800,751 795,753 766,760 753,768 742,778 736,786 732,795 730,804 676,804 679,795 684,788 701,768 724,748 731,744 739,740Z"/>
<path fill="#b8d4ff" fill-rule="evenodd" d="M322,85 328,85 333,87 337,89 340,94 347,112 356,125 358,132 358,139 353,144 340,147 322,146 311,144 306,139 305,130 308,96 313,89 317,86ZM116,212 123,211 130,212 139,218 150,228 155,235 159,241 161,248 160,255 157,261 151,268 130,286 110,304 98,311 94,311 88,311 52,290 48,286 47,279 51,273 63,258 71,237 76,230 83,226 101,220ZM1315,456 1320,454 1327,455 1333,458 1338,462 1344,471 1347,487 1352,498 1358,506 1374,521 1398,536 1416,550 1423,553 1430,554 1436,554 1444,552 1463,541 1486,533 1508,519 1530,511 1537,506 1563,485 1577,476 1588,473 1608,471 1608,688 1528,681 1403,680 1381,680 1347,684 1273,689 1253,694 1245,697 1238,701 1230,710 1215,735 1211,740 1204,742 1200,742 1197,739 1187,722 1182,716 1173,711 1162,708 1139,707 981,708 958,705 925,692 885,689 829,688 789,693 728,686 668,685 657,688 648,693 623,717 606,735 602,742 598,751 596,760 596,804 434,804 433,789 426,757 424,706 422,693 419,686 415,681 408,677 398,674 389,673 380,673 369,676 357,680 344,688 337,694 332,701 326,715 322,735 321,804 156,804 156,731 153,719 147,712 136,707 87,694 71,693 34,691 0,688 0,471 31,470 50,471 60,474 80,480 98,484 105,487 112,491 125,505 132,509 141,512 154,514 197,515 232,515 299,508 331,503 386,502 449,498 471,495 521,483 532,481 538,482 545,485 558,500 565,505 572,506 590,503 612,511 617,511 623,509 652,490 661,487 670,489 686,499 699,504 726,504 764,509 809,511 847,520 925,522 967,525 999,530 1039,532 1070,537 1128,537 1146,535 1157,529 1175,512 1180,505 1189,489 1197,482 1205,480 1218,479 1269,476 1282,474 1296,469ZM722,771 726,769 727,771 721,789 719,804 689,804 693,797 699,789 710,779Z"/>
<path fill="#d6ebff" fill-rule="evenodd" d="M25,494 42,494 58,496 89,503 94,505 100,509 113,527 127,543 131,552 132,558 131,567 121,590 123,599 127,605 136,614 142,619 150,622 161,624 179,626 284,625 295,624 302,622 324,607 340,604 378,600 447,600 465,601 474,602 480,605 498,619 505,622 514,625 543,628 552,632 565,642 572,645 581,647 605,649 614,652 621,656 639,670 641,673 641,677 633,690 599,726 590,739 587,748 585,760 585,804 451,804 449,760 448,701 446,684 440,674 429,666 413,661 395,658 380,658 362,660 353,663 346,668 326,693 308,720 282,751 274,771 270,777 266,781 261,783 257,784 252,783 246,780 242,775 233,753 219,733 211,713 208,708 201,704 172,700 147,694 121,691 85,685 36,683 0,676 0,503 11,497ZM1288,494 1309,493 1316,494 1323,497 1327,501 1340,516 1361,537 1387,555 1410,575 1421,580 1434,582 1512,580 1524,579 1530,577 1550,563 1566,556 1572,552 1576,545 1574,529 1576,523 1582,518 1597,510 1608,503 1608,676 1559,673 1533,669 1503,672 1488,672 1452,666 1410,662 1392,662 1378,664 1347,673 1273,677 1242,682 1229,686 1220,691 1213,696 1204,706 1200,708 1195,707 1175,699 1155,697 1039,696 994,700 977,699 961,695 929,676 923,674 900,676 822,676 786,680 742,675 687,672 677,670 673,668 672,666 671,663 673,659 679,653 686,650 701,644 708,639 712,634 713,628 712,619 706,610 699,606 684,600 676,594 673,588 673,583 674,579 679,572 695,558 722,529 731,524 742,523 802,525 814,527 838,537 851,539 956,540 996,545 1032,548 1041,550 1063,558 1095,561 1104,563 1110,566 1128,577 1148,584 1166,592 1173,594 1180,592 1195,584 1215,577 1220,574 1224,570 1227,563 1228,554 1230,514 1233,505 1237,500 1242,497 1251,495ZM1323,574 1314,579 1309,586 1308,592 1310,594 1314,597 1318,598 1323,597 1325,596 1328,592 1330,585 1329,578 1327,574ZM1387,610 1366,614 1358,619 1357,621 1358,626 1362,634 1372,644 1378,647 1385,649 1401,650 1407,648 1414,644 1418,639 1419,634 1416,628 1412,621 1405,614 1401,611 1394,610ZM1575,623 1573,626 1575,629 1577,626ZM775,605 764,611 751,626 749,630 748,634 750,639 752,641 757,644 764,646 784,648 802,646 809,643 813,640 815,634 813,628 807,619 800,611 795,608 789,605 782,604ZM907,628 896,630 890,632 888,634 888,639 891,642 905,649 920,661 925,663 932,662 947,650 963,641 966,637 966,634 963,632 949,628 929,627ZM510,498 521,497 529,499 536,503 552,517 558,521 565,523 572,523 590,520 608,525 617,525 641,521 643,523 644,525 641,543 641,552 646,576 645,583 643,587 639,591 634,592 610,583 585,581 462,584 364,584 349,580 333,571 326,568 319,568 304,572 297,571 264,555 260,552 258,547 260,541 266,534 277,528 287,525 335,518 451,516 462,513 490,503Z"/>
<path fill="#ffe6d6" fill-rule="evenodd" d="M504,521 512,519 518,520 524,523 529,527 532,534 533,541 531,545 527,550 521,554 512,554 503,552 497,547 494,541 495,532 498,525ZM105,650 114,648 123,648 134,650 143,652 150,655 156,661 162,668 163,672 161,675 154,677 136,678 116,677 97,672 91,668 90,666 91,661 96,655ZM257,670 299,671 308,675 310,677 311,681 306,693 296,706 270,731 261,738 257,739 250,737 239,725 235,717 228,697 217,679 217,677 220,675 227,672 239,671Z"/></g><g clip-path="url(#landclip)"><rect x="-5" y="-5" width="1618.6" height="814.1" fill="#00008b"/>
<path fill="#0020bd" fill-rule="evenodd" d="M0,0 1608,0 1608,358 1600,360 1579,358 1573,360 1565,378 1550,387 1540,400 1530,408 1526,418 1525,427 1526,432 1528,436 1541,445 1551,458 1555,461 1562,462 1568,462 1575,459 1578,456 1583,442 1586,440 1593,438 1608,436 1608,759 1593,757 1557,757 1526,760 1490,760 1468,758 1463,760 1459,763 1448,779 1443,781 1436,781 1431,777 1428,768 1428,760 1431,737 1430,731 1428,724 1403,698 1396,694 1390,693 1385,694 1383,697 1386,722 1385,728 1381,734 1372,737 1314,736 1296,738 1287,738 1280,734 1276,728 1275,724 1278,713 1276,710 1260,708 1251,709 1245,710 1243,713 1244,715 1249,726 1250,746 1254,753 1258,756 1262,758 1280,759 1287,761 1294,766 1296,771 1294,777 1291,781 1287,783 1276,785 1249,782 1226,782 1090,782 1066,783 1057,780 1053,775 1046,764 1041,761 1034,759 1005,760 978,759 956,763 941,765 929,765 923,763 918,760 909,746 896,736 885,722 873,715 869,710 866,704 867,686 865,679 860,675 856,673 840,670 833,672 823,688 811,695 806,699 804,706 805,724 802,731 787,742 777,754 764,765 753,780 744,783 726,782 708,782 701,781 697,779 694,775 692,771 693,753 692,746 688,742 677,734 668,724 665,722 657,719 630,719 608,714 585,715 489,715 465,714 440,720 416,719 407,723 393,734 386,737 378,738 357,738 333,736 323,737 317,742 311,756 306,759 302,760 295,758 292,755 286,739 282,735 259,721 248,718 237,719 229,722 226,724 217,735 210,738 152,736 132,741 121,742 38,741 27,745 16,755 11,758 0,759 0,436 25,432 49,435 55,433 57,431 59,427 60,424 58,422 54,421 34,420 29,419 25,416 22,411 22,407 26,402 30,400 42,398 54,400 60,404 67,415 71,416 78,416 89,414 101,409 116,407 121,405 125,400 127,391 125,383 116,375 114,371 114,366 115,360 114,355 112,353 105,350 90,349 63,352 18,350 11,351 0,358ZM156,351 152,353 148,357 148,362 151,364 156,365 161,364 165,360 167,357 168,353 165,350 161,349ZM306,324 302,328 302,333 306,337 311,337 313,335 316,331 317,324 313,322ZM328,301 326,308 328,311 332,308 334,304 333,301 331,300ZM498,268 494,272 487,284 474,295 467,308 460,311 454,310 442,299 427,292 416,284 411,281 402,280 393,281 386,284 382,288 381,295 386,306 391,310 399,315 402,319 403,328 401,344 401,351 406,369 411,376 416,379 420,378 422,376 449,340 454,338 460,337 467,339 470,344 471,351 468,364 469,371 474,375 488,382 491,386 491,391 490,395 487,399 478,403 469,404 442,402 404,404 393,406 386,410 384,418 384,436 382,443 378,448 362,456 351,464 346,469 344,476 344,480 346,484 362,491 365,494 366,500 364,514 364,521 366,525 371,528 375,530 382,531 386,530 391,527 399,512 411,506 416,502 418,498 422,486 424,483 431,482 449,484 456,483 460,480 466,465 469,461 476,459 494,462 500,461 505,457 511,442 514,439 523,437 541,439 547,437 552,431 557,416 561,412 570,410 590,409 595,407 594,402 581,391 579,386 579,382 581,369 580,351 582,344 585,339 600,328 604,322 605,308 603,302 601,298 586,286 576,273 567,268 556,266 532,267 509,266ZM605,637 598,639 593,643 592,646 594,648 599,651 608,653 613,650 614,643 612,639ZM666,189 663,194 666,201 669,203 675,205 679,205 682,203 683,201 682,197 679,191 672,188 668,188ZM690,212 688,219 689,230 690,235 695,237 699,234 701,231 704,225 704,219 702,214 699,212 695,211ZM715,256 713,257 711,261 713,267 719,271 724,271 726,270 727,266 724,259 719,256ZM737,278 735,280 734,284 737,290 742,293 748,293 750,288 747,281 742,279ZM760,301 758,302 756,304 757,324 756,328 754,331 748,334 728,335 722,338 710,352 697,363 687,375 676,384 664,398 651,407 648,413 647,422 646,427 643,428 639,429 628,423 621,421 617,421 614,423 614,429 616,433 626,442 633,456 637,460 643,462 659,460 677,462 681,460 684,458 690,444 693,442 697,439 717,437 737,440 746,439 751,436 756,422 760,418 766,416 784,418 791,417 795,413 801,400 804,395 811,393 829,396 836,395 840,391 847,380 860,373 862,371 862,367 860,364 847,357 840,346 836,343 827,342 811,345 802,345 782,343 773,340 768,335 765,328 770,313 770,306 766,302ZM983,502 979,505 977,512 980,516 985,518 990,515 991,512 991,507 989,503 987,502ZM1028,525 1019,527 1013,532 1013,536 1014,538 1019,541 1025,542 1032,542 1037,541 1039,536 1039,529 1034,525ZM1066,549 1059,554 1059,558 1061,561 1072,563 1079,562 1083,560 1084,558 1084,554 1081,549 1075,547ZM1097,570 1094,572 1095,578 1099,581 1104,581 1105,579 1104,574 1101,571ZM1119,594 1117,596 1118,601 1121,605 1126,605 1128,601 1127,596 1124,594ZM1159,616 1154,619 1153,621 1153,626 1156,630 1159,633 1164,635 1166,635 1171,629 1172,623 1171,619 1169,617 1166,615ZM1180,294 1176,297 1175,299 1177,302 1184,305 1188,304 1191,303 1192,299 1190,297 1186,295ZM1202,142 1199,145 1199,147 1202,150 1209,150 1213,147 1214,145 1212,143 1209,142ZM1224,264 1220,266 1218,268 1218,273 1220,277 1226,280 1231,280 1235,279 1238,275 1238,268 1233,264ZM1258,354 1258,359 1260,358 1260,355 1260,353ZM1269,245 1266,248 1271,250 1279,248 1278,246 1276,245ZM1407,275 1403,279 1396,293 1384,304 1384,308 1390,324 1389,331 1385,336 1372,342 1368,346 1366,353 1368,373 1368,380 1365,386 1359,393 1347,400 1334,402 1327,399 1314,389 1298,383 1291,381 1285,381 1280,384 1278,386 1274,395 1274,402 1285,430 1289,435 1296,436 1305,431 1309,429 1323,433 1329,433 1334,431 1347,422 1354,420 1390,415 1414,417 1419,415 1421,413 1423,407 1421,389 1422,382 1425,379 1441,371 1445,366 1448,357 1448,349 1443,340 1442,333 1445,315 1445,308 1444,304 1441,300 1430,294 1425,290 1420,279 1417,275 1412,273ZM1470,637 1465,639 1463,643 1463,648 1466,651 1470,653 1474,654 1479,653 1483,650 1486,646 1484,641 1482,639 1477,637ZM154,637 147,639 145,643 145,648 147,651 152,654 161,653 165,651 167,648 168,643 163,639ZM449,619 449,623 451,626 454,627 456,627 457,626 458,621 456,618 454,617ZM483,643 481,643 479,646 485,648 496,648 511,646 498,643ZM550,641 526,643 515,646 561,651 572,649 575,648 577,646 575,643 569,641ZM731,639 728,641 727,646 728,648 731,649 735,650 739,649 743,648 745,646 745,643 743,641 740,639 735,638ZM798,616 794,619 793,623 795,628 798,628 806,628 818,624 827,628 833,629 838,626 839,623 838,621 834,619 829,619 818,622 807,617 802,616ZM1186,661 1184,663 1186,668 1191,669 1193,668 1192,663 1190,661ZM1209,683 1207,686 1208,690 1211,692 1213,693 1216,690 1215,687 1213,684ZM1311,683 1309,686 1308,690 1309,693 1311,695 1316,696 1321,695 1325,693 1327,690 1325,686 1321,684 1316,682ZM1403,660 1401,661 1399,666 1401,670 1405,672 1421,670 1436,671 1440,670 1442,668 1441,666 1439,665 1423,666 1410,661ZM56,357 60,356 67,356 78,360 85,366 89,371 90,375 89,380 87,382 83,384 74,384 63,382 52,378 47,373 45,369 46,366 49,362ZM1559,420 1564,420 1569,422 1571,427 1570,429 1568,431 1562,432 1557,431 1556,429 1555,424 1557,421Z"/>
<path fill="#0033e2" fill-rule="evenodd" d="M0,0 1608,0 1608,346 1597,350 1571,350 1563,351 1559,353 1558,355 1559,366 1558,371 1555,374 1544,383 1526,403 1524,410 1521,427 1523,436 1527,440 1537,447 1549,460 1555,463 1562,464 1568,464 1575,462 1579,458 1584,447 1589,442 1597,440 1608,438 1608,615 1595,619 1573,618 1568,621 1568,623 1571,627 1575,629 1595,629 1608,631 1608,741 1588,739 1559,740 1553,739 1548,737 1545,733 1537,719 1525,710 1515,698 1501,688 1498,684 1495,672 1498,650 1498,643 1496,639 1490,635 1477,632 1468,632 1463,634 1459,639 1454,650 1452,653 1448,655 1428,657 1405,654 1398,655 1393,659 1387,672 1381,677 1372,678 1336,679 1318,676 1311,676 1305,680 1296,696 1289,699 1278,701 1249,701 1240,700 1233,699 1228,695 1220,680 1206,670 1197,657 1182,649 1178,646 1176,639 1177,619 1175,612 1168,609 1148,611 1142,608 1131,592 1117,583 1108,569 1095,559 1084,545 1077,543 1059,545 1052,544 1048,541 1041,525 1037,522 1030,521 1012,523 1003,521 999,516 996,502 994,497 990,494 985,493 972,496 958,498 956,500 955,505 955,509 962,523 963,529 960,554 961,576 960,717 963,739 962,744 958,749 953,753 945,756 934,757 929,756 925,753 915,739 902,731 891,716 878,706 875,699 876,681 874,675 869,669 851,661 847,657 845,652 845,646 850,634 852,628 851,619 849,614 842,612 818,612 802,610 795,611 791,613 782,627 775,632 757,634 737,631 728,632 723,637 717,648 713,652 693,659 670,670 669,675 671,693 670,704 668,706 663,709 650,711 641,710 634,709 629,706 625,701 623,695 624,686 628,678 634,668 624,657 617,637 612,633 608,632 583,635 480,634 474,632 469,629 462,616 459,612 454,611 449,611 445,613 439,617 437,623 440,630 449,639 451,643 451,648 446,661 445,670 446,677 449,690 450,697 448,701 445,706 436,710 413,710 393,716 386,716 383,713 379,701 376,697 360,686 350,672 346,670 342,670 326,674 319,679 317,686 317,708 313,715 304,719 286,722 277,720 257,710 235,710 228,708 223,704 217,696 206,686 197,676 183,669 179,666 178,663 178,659 186,646 185,641 176,637 163,633 156,632 150,632 145,634 141,639 136,657 130,668 134,679 134,701 137,717 135,724 132,728 125,732 116,733 92,732 34,732 22,734 9,740 0,741 0,631 9,630 12,628 13,623 12,619 9,616 4,615 0,615 0,438 22,437 45,438 54,438 60,435 69,425 74,423 123,411 127,407 131,402 135,382 136,378 141,374 159,370 165,367 172,360 174,351 172,346 165,343 159,344 143,350 134,351 112,346 96,344 38,344 16,343 7,344 0,346ZM219,616 216,619 216,621 217,624 221,626 226,623 227,621 226,619 223,617ZM232,277 230,278 229,281 230,284 232,285 235,285 237,281 235,277ZM328,292 324,297 317,313 313,317 302,322 298,326 297,333 299,338 304,344 308,346 313,346 319,342 328,326 338,317 341,313 342,304 342,299 340,295 335,292ZM646,69 640,71 639,74 640,78 646,81 653,80 656,76 655,71 651,69ZM659,180 656,183 653,194 650,199 635,208 626,222 619,227 612,228 603,228 596,225 585,217 581,217 576,217 567,223 555,241 550,245 541,246 526,244 520,244 496,250 490,252 485,257 479,270 475,275 454,287 449,289 436,288 416,278 404,276 394,277 385,279 380,281 374,286 372,290 374,302 373,308 371,311 359,322 358,328 362,334 375,340 380,344 395,366 401,380 403,386 402,391 400,393 383,400 378,404 375,411 376,429 374,436 371,440 355,451 344,466 341,474 340,480 342,485 346,488 356,494 360,498 361,505 361,521 364,527 369,530 375,533 382,533 389,532 394,527 402,514 413,507 418,503 424,491 429,487 436,485 451,487 458,485 463,480 469,468 476,463 496,464 503,463 507,458 514,445 518,442 525,441 543,442 548,440 553,436 561,421 567,416 574,415 585,415 594,416 601,418 605,423 612,436 623,445 632,459 637,463 643,465 659,463 679,465 686,461 693,449 699,443 713,441 737,444 747,442 753,438 760,426 764,421 771,420 786,421 793,419 798,416 804,404 809,399 815,397 831,399 838,397 842,394 851,382 865,373 867,369 866,364 851,355 842,344 838,341 829,339 809,341 795,341 784,339 778,335 775,331 773,326 775,308 773,302 760,292 751,279 735,268 726,255 711,248 707,244 706,237 708,219 706,212 692,203 681,188 672,183ZM887,573 885,576 887,579 889,578 892,574 889,572ZM911,549 909,550 907,554 907,556 909,557 912,556 915,554 915,552 914,550ZM1175,290 1171,295 1170,299 1172,304 1175,306 1182,309 1188,309 1193,307 1197,304 1197,302 1197,297 1193,293 1184,290ZM1204,138 1197,140 1194,143 1193,147 1196,152 1202,154 1209,153 1215,151 1219,147 1219,143 1217,141 1211,139ZM1291,217 1264,220 1229,218 1213,221 1208,223 1204,228 1197,244 1197,252 1200,256 1207,264 1213,277 1215,281 1221,284 1231,285 1238,284 1241,281 1249,266 1256,262 1273,260 1298,262 1305,262 1333,250 1334,248 1332,244 1329,240 1325,238 1320,238 1307,242 1302,241 1298,239 1294,235 1294,230 1299,219 1298,217ZM1407,270 1401,275 1392,289 1379,299 1376,304 1376,311 1381,322 1380,326 1379,328 1376,331 1372,332 1367,331 1358,327 1356,328 1354,330 1354,335 1358,349 1358,362 1356,375 1352,382 1345,386 1338,386 1320,380 1300,374 1273,370 1270,366 1266,349 1264,344 1260,343 1254,346 1247,357 1236,369 1235,375 1235,391 1232,407 1238,409 1256,408 1264,410 1273,418 1285,439 1289,442 1293,443 1309,439 1331,437 1352,427 1372,424 1385,420 1394,419 1414,420 1423,417 1426,411 1426,393 1427,386 1431,382 1441,376 1446,371 1456,351 1457,346 1450,337 1447,331 1447,311 1445,302 1441,297 1432,292 1428,288 1419,272 1414,270ZM1488,350 1483,353 1483,357 1485,362 1490,367 1495,368 1497,367 1500,364 1504,357 1504,355 1503,353 1497,350ZM1515,617 1512,619 1511,621 1512,624 1515,624 1517,621 1517,617ZM1539,590 1534,592 1531,596 1530,601 1532,605 1536,608 1541,609 1548,609 1551,608 1554,603 1553,599 1552,594 1546,590ZM63,639 55,643 54,646 55,648 60,650 67,652 74,652 76,650 78,646 76,639 69,637ZM103,666 100,668 103,670 110,668 107,666ZM306,401 304,404 304,407 306,409 308,409 311,407 311,403 308,400ZM308,365 307,369 307,373 308,377 311,378 313,375 314,369 313,366 311,364ZM328,424 326,426 326,429 328,433 333,435 337,433 339,429 337,426 333,423ZM378,572 366,575 353,573 351,574 349,579 351,582 355,584 369,582 384,584 389,583 391,582 391,576 389,572 384,571ZM404,594 402,596 404,603 409,605 411,604 412,601 411,596 408,594ZM867,594 865,595 862,599 865,601 867,601 869,599 869,595ZM1314,346 1311,347 1309,351 1309,355 1311,358 1318,361 1325,358 1327,353 1325,349 1320,346Z"/>
<path fill="#1a4fff" fill-rule="evenodd" d="M0,0 1608,0 1608,340 1597,343 1588,344 1550,343 1474,344 1466,343 1457,338 1451,331 1449,324 1449,306 1446,299 1431,288 1419,268 1414,266 1410,266 1405,267 1401,270 1389,286 1374,298 1365,314 1354,319 1349,322 1347,326 1343,339 1340,342 1336,344 1316,340 1309,341 1304,346 1300,362 1296,365 1287,366 1280,364 1276,362 1274,357 1267,341 1262,338 1258,338 1252,342 1243,353 1231,364 1229,371 1229,389 1228,393 1224,398 1220,401 1213,403 1186,402 1183,404 1182,407 1184,411 1187,413 1193,416 1200,418 1253,415 1262,416 1267,418 1271,423 1280,439 1285,445 1291,449 1298,449 1314,443 1334,440 1354,432 1372,429 1390,423 1398,422 1416,422 1425,420 1428,418 1430,413 1429,393 1432,386 1447,375 1459,357 1463,354 1470,354 1474,358 1486,372 1497,381 1505,393 1517,402 1519,409 1518,429 1520,438 1524,442 1535,450 1548,462 1562,466 1573,465 1579,460 1586,449 1590,445 1597,442 1608,440 1608,610 1588,613 1568,611 1562,607 1556,594 1552,590 1546,587 1537,586 1530,590 1520,603 1507,612 1497,626 1492,628 1488,629 1470,628 1463,630 1457,634 1450,647 1443,651 1428,653 1405,649 1398,649 1392,653 1383,667 1376,672 1365,673 1311,672 1307,673 1302,676 1293,689 1287,694 1278,696 1242,695 1238,694 1233,691 1223,677 1209,666 1200,654 1188,646 1184,642 1181,634 1182,614 1180,610 1177,607 1171,605 1153,605 1146,603 1135,590 1119,579 1110,566 1097,556 1086,542 1079,540 1061,541 1054,539 1050,535 1043,522 1037,518 1032,518 1016,519 1008,517 1004,514 1002,509 999,491 996,488 990,486 972,487 958,483 954,485 952,487 944,509 941,514 926,523 916,536 904,545 894,558 881,567 871,581 859,590 851,601 847,605 840,607 831,608 804,606 795,606 788,610 778,623 773,627 760,629 737,627 728,627 722,631 713,644 708,648 699,652 684,655 661,655 643,656 634,655 628,650 621,637 618,632 614,630 608,628 574,630 514,629 489,630 480,629 473,626 464,612 458,607 449,607 433,611 427,610 424,608 417,592 402,581 395,571 391,567 384,566 366,567 351,565 346,565 342,570 339,576 335,596 334,630 338,648 338,655 332,661 315,669 311,672 308,679 309,697 307,704 304,708 295,712 286,712 279,711 272,706 267,699 266,693 269,681 270,672 266,643 273,623 271,617 261,611 255,610 237,610 223,608 217,608 212,610 210,612 204,626 201,630 194,633 183,633 159,628 147,629 143,631 139,634 132,648 128,652 123,656 116,657 101,656 92,654 87,649 80,636 74,632 67,632 47,635 28,632 22,628 13,614 7,611 0,610 0,440 22,440 47,441 56,440 63,437 72,429 78,425 116,417 127,413 134,407 139,389 143,382 147,378 163,373 170,369 176,360 179,353 179,349 177,344 174,342 165,339 159,340 143,345 134,345 96,341 38,340 13,338 0,340ZM197,18 193,20 191,22 191,27 193,31 197,33 201,33 209,29 210,25 208,21 203,18ZM230,275 226,279 226,284 230,288 235,289 239,284 239,279 236,275 232,274ZM239,44 236,47 237,51 239,53 244,54 245,51 244,47 242,45ZM261,67 259,69 259,71 260,74 263,76 268,75 274,71 274,69 270,67ZM290,67 285,69 285,71 287,74 295,76 299,74 300,69 297,67ZM317,46 315,49 314,51 317,54 319,53 322,49 321,47ZM337,11 335,16 334,25 335,30 340,32 344,29 345,25 344,19 342,15 340,12ZM641,64 636,67 634,71 634,76 637,81 641,84 648,85 655,84 659,82 661,78 662,74 659,67 652,64ZM1005,462 1003,469 1004,476 1005,478 1008,479 1012,479 1016,475 1017,471 1016,467 1014,464 1010,460 1008,460ZM1032,424 1028,427 1027,429 1028,433 1030,434 1034,433 1037,429 1037,426ZM1052,393 1050,394 1048,398 1048,404 1050,411 1054,412 1059,409 1060,402 1057,395ZM1075,350 1071,355 1070,362 1072,366 1077,367 1082,364 1082,357 1079,351 1077,350ZM1099,283 1087,308 1088,313 1090,317 1092,320 1097,322 1100,322 1103,319 1103,315 1101,306 1101,302 1108,288 1108,286 1106,282 1104,282ZM1175,286 1171,288 1167,295 1167,302 1169,306 1175,310 1184,312 1193,311 1198,308 1201,304 1202,299 1201,295 1200,292 1195,289 1186,286 1180,285ZM1200,136 1193,139 1189,145 1191,152 1195,156 1202,157 1211,156 1220,152 1224,147 1224,143 1220,138 1211,136ZM1300,206 1280,209 1260,207 1240,208 1222,206 1215,208 1203,212 1196,217 1192,223 1190,246 1190,252 1192,257 1202,268 1211,284 1218,287 1233,289 1240,289 1244,286 1253,271 1258,267 1262,266 1276,265 1302,267 1309,266 1327,260 1334,260 1347,263 1354,261 1356,257 1355,252 1343,244 1331,232 1318,226 1314,221 1309,209 1305,206ZM1537,67 1534,69 1534,71 1539,76 1546,77 1550,74 1551,69 1549,67 1544,66ZM1568,44 1565,47 1563,51 1564,54 1566,56 1571,54 1573,49 1573,45ZM176,473 175,476 176,478 181,478 182,476 181,474ZM648,169 645,172 645,185 643,191 640,194 629,201 621,213 617,217 612,219 605,217 594,205 590,203 581,201 572,203 563,208 550,223 545,226 523,230 487,245 480,251 474,264 469,270 462,274 449,280 442,282 436,282 418,275 409,273 400,273 389,275 374,279 362,286 356,293 356,295 359,299 357,303 355,302 354,295 349,290 340,287 331,287 324,290 315,311 311,314 299,320 296,324 294,328 294,333 300,349 301,355 298,386 294,402 295,409 299,415 313,423 321,436 324,439 328,441 340,445 344,448 345,454 337,474 337,483 342,489 353,496 356,500 358,507 358,523 360,527 362,530 369,533 375,535 384,535 391,533 395,530 404,516 418,506 427,493 431,489 438,488 454,489 460,487 464,483 469,473 474,468 480,466 498,466 504,465 509,460 516,448 521,444 527,443 543,444 550,442 555,438 563,424 570,419 576,418 585,418 592,420 599,423 603,427 610,438 621,448 631,462 637,466 643,468 659,466 679,468 686,465 697,449 704,445 715,444 739,447 750,445 755,440 762,429 766,425 773,423 789,423 795,422 800,418 806,407 811,402 818,400 833,401 839,400 844,395 853,384 865,378 869,374 871,369 870,364 868,362 853,354 844,342 838,338 829,336 809,338 798,338 789,337 782,333 778,328 777,324 778,306 776,299 762,289 753,277 739,266 728,252 717,246 712,241 710,235 711,217 708,210 695,200 686,188 681,184 657,170 652,169ZM645,690 650,690 652,693 652,695 649,697 646,697 643,695 643,693Z"/>
<path fill="#477aff" fill-rule="evenodd" d="M0,0 175,0 175,4 181,15 186,31 190,37 197,39 214,37 221,38 225,42 232,57 246,66 255,80 259,83 266,83 279,81 295,83 299,83 303,80 312,67 326,57 335,44 346,37 350,34 352,29 352,25 349,9 349,0 394,0 394,7 398,9 400,9 402,7 403,0 492,0 492,4 494,7 496,7 499,4 499,0 596,0 596,4 599,7 601,7 603,4 603,0 713,0 713,7 717,10 721,9 724,7 725,0 1543,0 1542,9 1539,15 1524,27 1515,40 1510,43 1501,45 1479,43 1452,43 1421,43 1416,44 1411,47 1408,51 1408,58 1411,65 1419,68 1479,68 1486,69 1492,71 1495,74 1496,78 1493,94 1492,103 1495,105 1501,106 1506,105 1510,102 1513,98 1519,87 1524,83 1530,82 1546,83 1553,81 1556,78 1564,67 1577,57 1586,41 1591,39 1603,36 1608,33 1608,334 1591,338 1579,339 1548,338 1474,339 1463,337 1457,333 1454,328 1452,322 1451,306 1448,298 1432,286 1423,270 1419,264 1414,262 1407,262 1403,264 1398,267 1387,282 1372,295 1361,309 1347,318 1344,322 1338,332 1334,336 1327,337 1311,336 1307,337 1302,342 1295,357 1291,360 1287,361 1282,360 1278,356 1271,341 1267,335 1262,333 1256,334 1251,337 1240,350 1224,357 1222,364 1224,384 1223,389 1220,393 1215,396 1206,397 1197,396 1186,393 1180,392 1174,395 1172,400 1172,404 1175,411 1180,416 1186,419 1195,421 1206,422 1253,419 1262,421 1270,427 1285,452 1289,455 1293,455 1317,447 1338,442 1354,437 1369,435 1392,426 1401,424 1421,425 1430,422 1432,420 1434,416 1433,395 1435,389 1449,378 1460,362 1466,360 1470,361 1474,365 1482,375 1492,385 1501,397 1513,407 1515,416 1515,436 1518,442 1533,452 1544,463 1557,467 1566,468 1573,467 1579,463 1587,451 1591,447 1597,444 1608,442 1608,607 1588,610 1573,608 1568,607 1564,603 1557,591 1553,586 1544,583 1535,583 1527,588 1517,599 1503,609 1492,623 1486,625 1468,625 1461,626 1456,630 1448,643 1441,648 1428,649 1405,645 1396,645 1390,648 1380,663 1376,667 1372,668 1309,667 1305,669 1300,671 1290,686 1283,690 1278,691 1262,691 1247,691 1238,689 1233,685 1226,675 1212,663 1202,650 1192,643 1188,639 1186,632 1186,612 1185,608 1181,603 1175,601 1155,601 1148,599 1137,587 1122,576 1113,564 1099,553 1088,540 1081,537 1066,538 1059,537 1054,534 1046,521 1041,516 1034,515 1014,516 1008,512 1005,507 1004,498 1005,491 1009,487 1019,481 1022,476 1022,469 1020,456 1021,449 1025,445 1040,438 1050,424 1061,417 1064,413 1066,407 1065,389 1066,382 1071,378 1083,372 1088,366 1089,360 1087,344 1088,337 1092,333 1106,328 1109,324 1110,317 1108,304 1112,290 1113,284 1109,279 1101,277 1095,280 1087,293 1072,311 1057,321 1048,334 1034,344 1026,355 1012,366 1004,378 990,389 982,400 967,411 958,423 947,431 938,440 925,451 923,458 925,462 929,465 941,470 945,476 944,489 940,505 936,510 923,519 913,532 900,542 891,554 878,565 869,576 856,587 846,599 840,603 829,604 804,602 793,603 786,607 775,619 768,623 760,624 735,622 724,624 717,629 708,642 701,646 688,649 663,647 648,651 641,651 637,650 632,648 621,630 617,627 610,625 601,624 579,627 561,627 516,625 489,627 480,625 474,621 465,608 460,604 454,603 436,605 430,603 420,589 406,579 398,567 393,564 386,562 366,563 346,559 342,560 339,563 331,580 326,585 319,586 304,585 299,587 295,592 289,603 284,607 277,608 255,603 237,603 221,602 214,602 208,607 200,621 194,626 185,628 159,624 145,626 140,628 136,632 130,644 126,648 118,652 107,653 96,650 91,646 83,633 76,629 67,628 45,630 31,628 27,625 18,614 13,610 7,608 0,607 0,442 47,443 57,442 65,439 75,431 80,428 112,422 130,417 135,413 138,409 143,391 145,386 152,381 168,375 174,371 182,357 185,349 184,344 181,341 174,337 168,335 161,336 143,341 132,342 98,339 38,337 13,334 0,334 0,33 2,29 3,25 0,11ZM18,44 16,45 14,49 16,54 22,54 27,51 28,49 27,46 22,44ZM63,69 61,71 63,73 66,71 65,69ZM92,70 91,71 92,72 95,71 94,69ZM136,36 134,36 130,40 127,47 129,51 136,54 141,52 143,49 143,47 141,38 139,36ZM165,300 163,302 162,306 164,311 168,312 170,311 171,308 171,304 170,301ZM230,272 225,277 224,284 225,288 228,290 235,291 240,288 242,284 242,279 239,275 237,273ZM469,42 468,47 469,48 472,49 474,47 474,43 471,41ZM619,41 616,45 616,49 619,52 621,52 623,49 623,45 621,41ZM634,60 632,61 630,64 630,71 632,80 637,85 643,88 652,88 659,86 663,83 665,78 667,71 666,66 663,62 659,60 655,59ZM695,35 688,40 685,47 686,50 688,53 695,55 700,54 701,51 702,47 701,42 699,38ZM777,19 775,21 775,25 775,26 777,27 780,25 780,22 779,20ZM851,42 849,45 848,49 850,51 853,52 857,49 856,45 853,41ZM1197,134 1191,137 1186,143 1187,152 1190,156 1193,158 1202,160 1215,157 1224,153 1228,147 1228,141 1222,136 1211,133ZM1477,116 1474,118 1477,120 1480,118 1479,116ZM1276,469 1266,474 1265,478 1267,480 1276,482 1280,481 1283,478 1285,474 1283,469 1280,468ZM1336,500 1335,503 1335,505 1339,516 1343,534 1345,538 1349,540 1369,532 1392,530 1398,529 1413,521 1416,518 1418,514 1417,509 1414,505 1407,503 1401,505 1385,514 1376,517 1367,519 1356,518 1347,515 1343,512ZM1448,541 1447,543 1449,545 1452,546 1452,545ZM174,460 168,464 162,469 159,474 159,478 164,483 172,486 183,488 190,487 193,485 194,480 193,474 191,467 188,463 183,460 179,459ZM623,147 612,155 601,159 588,160 552,160 544,161 538,163 534,168 533,172 533,181 536,201 535,208 532,212 525,219 516,226 487,239 480,243 476,248 468,264 460,270 447,275 438,277 416,271 398,271 355,281 328,283 324,285 321,288 316,304 313,309 308,313 297,319 294,322 291,326 291,333 295,351 296,360 293,380 288,400 289,409 290,413 294,418 306,425 311,429 319,441 324,444 333,449 338,454 338,460 334,478 334,485 337,490 350,498 353,503 355,509 354,525 356,529 360,533 366,536 375,538 384,538 392,536 397,532 405,518 420,507 431,492 438,490 454,491 460,489 465,486 471,474 476,470 483,468 498,468 505,467 510,462 516,451 523,446 529,445 545,446 550,445 556,440 565,426 572,422 585,421 592,423 596,425 600,429 608,440 621,451 630,465 634,468 641,470 659,469 681,471 689,467 697,454 704,448 713,447 735,450 748,448 755,445 764,431 768,427 775,425 791,426 798,424 802,420 809,409 813,405 820,403 833,404 840,403 845,400 854,386 867,380 872,375 875,369 873,362 869,358 856,352 845,340 840,336 829,334 798,336 791,334 784,331 780,324 781,304 778,297 764,287 754,275 741,264 731,251 719,243 715,239 713,232 714,214 711,208 697,198 685,183 670,174 660,165 643,158 632,147 628,146ZM1220,198 1191,211 1187,214 1184,219 1183,228 1186,257 1190,264 1198,273 1201,279 1200,282 1195,283 1182,281 1175,281 1171,283 1167,286 1164,293 1163,302 1166,307 1173,312 1186,315 1193,315 1197,313 1203,308 1208,295 1211,291 1220,291 1238,293 1244,292 1249,288 1256,275 1260,271 1264,270 1273,269 1293,272 1302,272 1329,265 1349,268 1356,266 1362,259 1363,255 1361,250 1347,241 1334,228 1323,219 1314,203 1309,200 1302,199 1287,203 1280,203 1260,200 1242,200 1226,198ZM1607,0 1608,0 1608,11ZM289,693 290,691 293,691 295,693 295,697 293,699 290,698 288,695Z"/>
<path fill="#85abff" fill-rule="evenodd" d="M353,0 386,0 386,7 389,13 402,25 411,36 424,45 436,63 442,64 458,61 476,65 480,64 484,58 485,51 485,34 486,27 490,22 505,13 508,9 509,0 586,0 587,9 589,13 594,17 605,22 609,27 610,34 608,49 610,56 622,65 629,80 632,85 639,89 650,91 659,90 666,85 669,78 674,65 677,61 681,60 699,62 704,60 706,58 708,51 707,31 709,25 713,21 724,16 728,13 732,7 732,0 768,0 767,9 764,27 766,34 768,36 782,44 793,62 804,71 829,101 833,104 838,105 842,103 844,98 842,78 842,74 844,69 849,65 860,60 865,54 866,45 864,27 865,0 1050,0 1050,9 1056,18 1072,34 1092,44 1097,49 1103,60 1110,65 1117,65 1135,63 1146,63 1157,66 1173,72 1177,71 1188,68 1195,67 1200,70 1203,74 1205,87 1207,92 1211,95 1218,96 1221,94 1223,92 1226,73 1229,68 1233,65 1242,62 1253,61 1262,62 1280,67 1285,67 1290,63 1296,51 1300,47 1305,45 1309,45 1316,48 1319,54 1320,60 1319,78 1321,85 1325,88 1331,88 1345,84 1356,80 1372,72 1376,70 1381,71 1384,74 1387,78 1392,101 1395,105 1398,109 1410,112 1432,111 1443,113 1451,118 1460,132 1466,134 1477,131 1486,127 1497,115 1510,108 1514,105 1521,93 1526,89 1533,87 1548,88 1555,86 1558,83 1566,71 1579,60 1587,49 1591,45 1600,42 1608,44 1608,330 1575,335 1497,334 1474,335 1466,334 1459,331 1456,326 1454,319 1453,304 1450,297 1433,284 1423,265 1419,260 1412,257 1405,257 1396,262 1385,279 1369,293 1358,305 1343,315 1333,331 1327,333 1311,332 1305,333 1300,338 1293,351 1289,355 1285,356 1280,353 1271,334 1267,329 1262,328 1258,328 1251,331 1240,342 1235,345 1231,345 1220,340 1215,340 1204,353 1193,363 1186,380 1173,387 1169,391 1167,395 1166,400 1168,409 1171,416 1178,420 1188,424 1204,426 1233,425 1253,423 1260,424 1264,426 1269,431 1273,438 1279,451 1280,458 1276,462 1261,471 1259,474 1258,478 1260,481 1264,484 1278,485 1282,484 1287,480 1292,467 1295,462 1318,450 1369,440 1387,430 1396,428 1405,427 1434,428 1439,427 1440,424 1436,402 1437,393 1440,389 1452,381 1461,367 1463,365 1468,366 1472,370 1479,380 1488,389 1496,400 1508,409 1510,412 1512,420 1511,438 1513,445 1517,449 1530,455 1541,465 1548,467 1559,469 1568,469 1575,468 1582,463 1588,452 1593,448 1600,445 1608,444 1608,605 1586,607 1573,605 1566,601 1558,588 1553,583 1544,581 1533,580 1526,583 1515,595 1501,605 1490,619 1483,622 1466,622 1459,623 1453,628 1445,640 1439,645 1428,646 1403,640 1392,640 1385,643 1377,659 1372,663 1363,664 1345,662 1305,663 1300,664 1296,667 1288,681 1282,686 1276,687 1262,685 1247,687 1240,685 1236,681 1229,670 1215,660 1206,647 1195,640 1192,637 1190,632 1190,628 1192,608 1191,603 1188,599 1184,596 1180,595 1159,597 1155,597 1151,595 1139,584 1125,574 1115,561 1101,551 1090,537 1083,535 1061,535 1054,530 1048,518 1043,514 1037,512 1016,513 1010,509 1007,505 1007,498 1009,494 1012,490 1023,483 1026,478 1027,474 1025,458 1027,454 1030,449 1043,441 1054,427 1064,420 1069,416 1071,409 1070,393 1071,386 1075,382 1088,374 1092,369 1093,362 1092,349 1094,342 1097,337 1110,331 1114,326 1115,319 1113,304 1116,288 1116,281 1113,278 1108,275 1097,274 1090,275 1085,286 1081,290 1063,306 1052,313 1041,328 1029,337 1019,351 1008,359 999,371 985,381 976,393 963,403 952,418 941,426 930,438 920,447 916,456 917,462 920,467 935,476 939,483 939,494 936,503 932,508 920,516 910,529 898,539 888,552 876,561 865,574 853,583 844,595 838,599 829,601 806,598 793,599 784,603 773,616 766,619 760,620 737,617 719,620 714,623 706,638 699,642 688,643 668,638 661,640 649,646 641,647 637,645 632,642 626,630 621,625 617,622 610,621 599,621 561,624 514,621 491,623 483,622 476,618 469,605 462,600 456,599 440,601 433,600 430,596 422,586 409,575 402,565 397,561 389,559 367,558 349,553 342,552 337,553 334,556 328,570 324,576 317,578 302,576 295,577 290,582 284,595 279,598 273,599 255,596 237,597 221,595 212,596 206,601 197,617 192,622 183,624 154,621 141,623 134,628 125,643 121,647 116,648 107,649 98,647 94,643 85,630 78,626 67,624 42,627 31,624 16,608 9,605 0,605 0,444 47,445 58,444 67,441 78,433 83,432 105,428 132,420 140,416 143,411 147,393 150,388 156,383 175,375 185,360 190,355 192,354 197,353 210,360 214,361 217,360 218,353 217,346 212,341 208,340 192,341 168,330 163,330 143,337 130,338 42,334 13,330 0,330 0,44 3,47 9,58 13,61 20,62 36,60 42,62 46,67 51,78 56,83 63,84 78,83 96,84 101,83 103,80 112,65 116,61 123,60 141,61 147,59 149,56 150,51 149,31 150,22 156,16 165,15 170,16 175,20 185,38 190,42 197,43 212,42 219,45 229,60 244,71 250,82 255,86 261,88 279,87 297,88 302,87 306,84 315,71 329,60 339,47 351,39 354,36 356,31 356,27 354,9ZM623,136 617,138 601,147 592,150 534,149 525,151 520,156 515,170 509,181 510,185 518,194 521,201 522,208 519,214 514,220 507,225 476,240 471,246 465,259 460,265 451,269 440,271 416,268 402,268 391,269 364,275 328,279 323,281 319,286 314,302 310,308 306,312 294,317 290,321 288,331 292,353 291,366 289,380 281,398 282,409 285,416 288,419 305,429 317,445 328,452 333,456 334,460 330,480 331,489 334,494 346,500 350,505 351,512 350,527 351,532 355,535 362,538 373,540 386,540 393,539 399,534 407,520 421,509 429,498 433,494 440,492 456,493 462,491 467,487 473,476 478,471 483,470 500,471 506,469 511,465 518,454 523,449 529,447 545,448 552,447 557,442 566,429 574,424 585,424 594,427 598,431 606,442 620,454 629,467 634,471 641,473 659,472 677,474 684,474 690,470 699,456 705,451 715,450 737,453 751,451 758,447 766,433 771,429 777,428 793,429 800,428 804,423 811,411 815,407 822,406 838,407 844,405 848,402 856,389 873,380 877,375 880,366 880,362 878,357 858,350 854,346 847,337 842,334 829,331 798,333 791,331 786,328 783,322 784,304 782,297 777,293 766,285 756,273 742,261 733,249 719,239 716,232 716,212 713,206 699,196 686,181 672,172 661,161 648,154 634,139 630,137ZM681,134 681,137 684,137 684,133ZM954,303 952,305 951,308 951,313 953,315 961,316 966,315 969,313 970,308 965,304 958,302ZM999,281 996,284 995,288 996,291 999,293 1003,294 1008,293 1012,291 1014,288 1012,284 1009,281 1003,280ZM1043,260 1041,263 1041,266 1043,270 1050,271 1055,268 1055,266 1051,261 1046,260ZM1072,256 1065,261 1063,264 1063,266 1065,268 1072,270 1079,270 1083,269 1084,264 1082,259 1079,257ZM1148,430 1145,433 1144,438 1148,442 1153,441 1156,438 1157,433 1156,431 1153,429ZM1195,132 1191,133 1186,135 1183,143 1184,154 1187,159 1191,161 1200,162 1215,160 1224,156 1231,150 1233,145 1232,141 1230,136 1226,134 1213,131ZM1432,225 1429,228 1429,230 1430,232 1434,233 1436,231 1438,228 1436,225ZM1457,200 1454,201 1454,206 1455,208 1457,208 1459,208 1461,206 1461,203 1459,200ZM1235,497 1231,502 1230,507 1231,512 1233,514 1235,514 1240,512 1242,507 1242,503 1242,500 1240,497ZM1331,483 1329,485 1328,489 1327,503 1332,527 1335,550 1338,556 1340,559 1345,559 1349,557 1360,545 1369,539 1376,537 1396,536 1416,530 1421,531 1425,534 1437,550 1443,554 1450,556 1457,557 1464,556 1467,554 1468,550 1465,543 1452,532 1443,523 1430,514 1423,503 1418,498 1412,496 1403,497 1396,499 1378,510 1372,512 1363,512 1356,510 1352,507 1347,502 1338,486 1334,483ZM1479,564 1477,567 1476,570 1478,576 1481,580 1486,580 1490,576 1491,570 1490,567 1486,564ZM1521,481 1520,483 1520,487 1524,494 1526,495 1528,494 1528,487 1526,483ZM176,440 172,441 170,444 164,456 152,469 149,476 150,480 153,485 158,487 190,497 194,497 199,494 201,483 199,471 193,449 191,445 188,442 181,440ZM76,218 74,220 74,223 76,229 78,230 80,228 81,223 78,219ZM165,297 161,299 160,302 159,308 163,317 168,318 170,317 173,313 175,304 172,299 169,297ZM230,270 226,272 223,275 222,279 222,286 223,290 226,292 230,294 235,294 239,293 241,290 243,286 243,279 242,275 239,272 235,270ZM1220,192 1184,208 1178,212 1176,217 1175,221 1175,228 1185,270 1184,273 1173,276 1168,280 1162,289 1160,297 1160,304 1164,310 1168,313 1184,317 1197,317 1204,313 1211,299 1215,295 1224,295 1244,299 1251,297 1254,293 1259,279 1264,275 1273,274 1298,277 1307,276 1327,270 1352,272 1357,270 1363,266 1370,257 1371,250 1369,246 1350,237 1338,223 1327,215 1324,210 1320,198 1316,194 1307,193 1289,198 1282,198 1260,193 1242,193 1226,192ZM641,45 643,43 648,43 651,45 652,47 650,50 643,50 641,49 640,47ZM1209,378 1211,377 1214,378 1216,380 1216,384 1212,389 1206,389 1202,386 1202,384 1204,381Z"/>
<path fill="#b8d4ff" fill-rule="evenodd" d="M358,0 381,0 381,9 384,16 398,29 407,40 422,51 429,67 433,72 440,73 458,68 480,74 487,71 490,65 492,56 491,38 492,31 496,27 507,20 511,16 514,9 515,0 580,0 580,9 583,16 588,20 599,26 602,31 603,38 602,51 604,58 619,68 628,84 632,89 641,93 652,94 661,93 667,89 670,85 677,71 681,67 686,67 701,68 708,64 712,56 712,38 713,31 718,25 730,18 734,13 737,7 737,0 762,0 762,9 758,29 758,34 760,38 764,42 778,49 789,67 797,76 806,89 815,95 827,107 831,110 838,112 844,111 847,109 849,105 850,98 848,80 851,74 867,63 871,56 872,47 871,27 871,0 1011,0 1009,25 1011,34 1014,38 1025,47 1034,57 1048,66 1057,78 1063,83 1068,83 1072,82 1076,78 1077,76 1076,69 1070,58 1068,54 1069,49 1075,47 1081,48 1087,51 1090,55 1097,67 1104,72 1115,74 1142,73 1151,74 1171,82 1188,86 1200,98 1206,102 1215,103 1224,103 1231,101 1233,96 1235,78 1240,72 1249,70 1260,71 1266,74 1271,78 1275,85 1275,92 1271,109 1271,116 1274,123 1282,134 1287,137 1291,138 1325,136 1331,134 1338,131 1342,127 1343,125 1336,107 1336,103 1337,98 1343,93 1352,89 1367,84 1374,84 1380,89 1387,105 1391,112 1407,125 1410,130 1411,136 1410,143 1407,150 1403,154 1398,155 1394,155 1381,141 1374,139 1369,139 1363,142 1355,154 1343,163 1331,175 1325,180 1318,183 1291,192 1285,193 1278,192 1264,187 1258,185 1220,187 1213,189 1195,199 1177,204 1171,208 1167,212 1165,219 1165,226 1167,232 1174,246 1175,252 1176,261 1173,268 1164,278 1159,288 1156,302 1157,307 1159,312 1164,315 1173,318 1191,321 1202,321 1207,317 1214,302 1218,299 1222,298 1234,302 1251,313 1254,315 1254,317 1251,322 1238,334 1233,334 1224,330 1218,329 1213,330 1209,333 1200,346 1188,357 1180,375 1167,384 1163,389 1161,395 1163,413 1162,420 1159,421 1148,423 1142,427 1138,433 1138,438 1139,442 1144,447 1148,448 1153,448 1157,446 1162,440 1165,427 1166,425 1168,424 1200,429 1233,429 1251,426 1260,428 1265,431 1270,438 1274,449 1274,456 1271,460 1256,469 1253,474 1252,480 1253,483 1256,485 1276,488 1282,487 1286,485 1290,480 1296,470 1300,465 1321,454 1334,450 1369,446 1376,443 1389,433 1396,430 1407,430 1421,431 1432,434 1452,446 1461,462 1473,471 1483,485 1488,487 1501,485 1508,487 1512,491 1521,506 1524,508 1528,509 1533,506 1534,500 1533,478 1530,470 1521,465 1520,462 1520,460 1526,460 1532,467 1535,468 1562,471 1573,471 1577,469 1582,466 1593,450 1600,447 1608,446 1608,602 1586,604 1575,603 1568,599 1559,586 1555,582 1541,577 1530,577 1523,581 1512,592 1499,601 1490,613 1486,617 1479,618 1459,617 1452,620 1444,637 1439,641 1432,642 1425,641 1396,632 1390,628 1383,611 1367,600 1363,592 1362,583 1363,558 1366,550 1371,545 1378,543 1396,543 1412,540 1419,541 1424,545 1432,558 1436,562 1443,563 1459,564 1466,566 1468,570 1472,585 1474,587 1479,589 1487,588 1493,583 1497,574 1497,567 1492,561 1479,554 1470,541 1457,530 1446,518 1434,509 1425,496 1421,492 1412,490 1398,492 1392,494 1377,505 1372,506 1365,506 1358,504 1354,501 1341,480 1336,477 1331,476 1329,477 1326,480 1324,489 1324,503 1327,527 1326,543 1319,570 1316,574 1311,578 1302,581 1287,582 1202,581 1186,583 1162,591 1157,591 1153,590 1144,580 1128,572 1119,558 1104,548 1092,534 1086,531 1068,532 1061,531 1056,527 1050,515 1046,511 1039,509 1019,511 1015,509 1012,507 1010,503 1011,498 1013,494 1027,485 1030,480 1031,474 1030,460 1032,454 1046,445 1057,430 1069,422 1073,418 1075,411 1074,395 1076,389 1080,384 1092,377 1097,371 1097,366 1096,351 1098,344 1103,340 1115,333 1118,328 1119,322 1117,304 1120,286 1119,281 1116,277 1110,274 1098,270 1093,268 1085,257 1079,253 1072,252 1059,254 1043,252 1039,254 1035,257 1029,270 1025,274 1019,276 1001,274 994,276 990,281 985,293 981,297 974,298 958,296 951,297 947,302 941,315 936,319 929,320 920,320 912,317 900,311 898,313 893,326 883,335 877,346 873,349 867,350 860,348 856,344 849,333 842,330 827,329 804,331 795,330 789,326 786,322 787,302 784,294 780,290 768,284 758,270 744,259 735,247 724,239 720,235 719,228 720,212 717,205 713,201 701,194 691,181 675,170 666,159 650,150 638,134 632,131 623,128 617,128 612,129 596,138 588,141 541,140 525,141 514,145 500,155 494,158 487,157 467,152 460,153 454,156 449,161 447,165 448,170 449,172 459,179 494,191 507,197 511,201 513,206 513,212 510,217 500,224 471,237 467,241 461,257 457,261 451,264 438,266 413,265 398,266 369,272 333,275 321,279 316,286 313,299 309,306 304,310 290,316 286,322 285,333 288,355 287,369 283,380 279,385 275,387 270,387 267,384 260,366 257,362 250,360 237,363 230,360 227,355 221,340 217,335 210,334 192,335 185,333 177,328 174,324 177,311 177,304 174,298 170,295 163,295 160,297 157,302 157,311 160,322 159,326 152,331 141,334 125,335 69,333 40,330 13,326 0,325 0,52 6,63 11,67 16,68 31,67 38,69 42,74 49,85 54,88 63,90 78,89 98,90 103,88 107,85 116,71 121,68 127,66 145,67 152,64 155,60 156,56 154,36 155,29 159,25 161,23 168,22 174,27 181,40 188,46 194,48 210,47 216,49 226,63 240,74 248,86 252,90 261,92 279,91 299,92 304,91 308,88 317,75 333,63 342,51 354,42 358,38 361,29ZM679,118 675,122 673,125 672,136 675,145 679,148 684,149 688,147 693,142 695,134 695,125 694,121 690,118 684,117ZM1188,129 1182,132 1180,136 1179,143 1180,152 1182,158 1184,161 1188,164 1200,166 1222,161 1231,156 1236,150 1237,143 1237,136 1234,132 1231,130 1215,128ZM1235,491 1228,496 1225,505 1225,518 1228,523 1231,524 1235,523 1240,520 1243,514 1246,505 1246,496 1244,492 1240,491ZM38,198 36,199 34,203 36,209 38,210 42,210 48,208 51,206 52,203 51,201 49,199 45,198ZM65,207 64,208 64,212 71,232 76,236 80,237 83,236 85,232 86,226 85,219 83,213 80,210 76,207 69,206ZM230,268 225,270 221,275 219,281 220,288 222,293 226,296 230,297 237,296 241,294 244,290 245,286 245,279 244,275 240,270 235,268ZM1593,49 1597,47 1602,47 1606,49 1608,52 1608,325 1573,331 1495,330 1472,332 1463,330 1459,326 1457,322 1455,304 1452,297 1448,293 1438,286 1434,281 1418,250 1418,248 1419,246 1423,244 1434,242 1440,239 1444,235 1452,222 1465,214 1469,210 1471,201 1469,185 1470,170 1468,152 1469,147 1471,143 1477,139 1489,132 1501,118 1515,109 1528,93 1535,91 1553,92 1559,89 1568,75 1582,64ZM1355,226 1358,225 1361,227 1361,230 1358,231 1356,230 1354,228ZM1377,261 1381,260 1383,260 1384,261 1384,268 1380,277 1365,290 1354,303 1340,311 1331,326 1325,329 1307,327 1302,328 1297,333 1289,349 1287,350 1282,348 1278,338 1275,326 1275,322 1277,319 1287,315 1292,311 1295,304 1296,293 1298,288 1327,276 1347,277 1356,276 1365,271ZM1267,281 1271,281 1276,281 1278,284 1279,286 1278,288 1274,290 1267,290 1265,288 1265,286ZM191,362 197,362 204,366 206,373 203,378 194,380 185,379 184,375 186,369 189,364ZM889,369 893,369 895,373 894,378 891,389 890,395 892,407 895,416 898,420 903,424 918,427 921,429 921,433 914,443 911,449 909,458 910,465 915,471 927,477 932,480 934,487 934,496 929,504 916,513 907,526 894,536 885,549 871,558 862,571 849,581 841,592 836,596 827,597 806,594 791,595 780,599 768,612 762,613 757,612 754,610 752,605 760,592 760,588 757,583 753,580 748,579 731,580 724,578 718,574 710,563 697,554 686,539 681,537 672,538 650,546 644,550 642,554 642,561 648,574 649,583 649,590 645,603 645,608 646,612 655,623 657,630 655,634 651,639 646,641 641,642 637,640 634,638 626,622 621,619 612,617 596,616 574,620 561,621 545,620 514,616 491,619 484,619 478,614 471,599 467,596 460,595 440,597 434,594 424,581 412,572 405,558 402,556 393,554 369,554 363,552 358,547 359,545 362,544 389,544 398,541 401,536 407,523 411,518 422,511 433,497 440,494 456,495 462,494 467,491 474,478 478,474 485,472 500,473 507,472 512,468 519,456 523,452 529,450 547,450 554,449 559,445 567,432 574,427 585,427 590,428 594,431 603,444 617,454 627,469 632,474 639,475 659,474 679,478 688,478 692,476 695,474 700,460 706,454 715,453 735,457 755,454 760,452 762,450 768,436 773,432 780,431 798,433 804,431 808,427 813,413 818,410 824,409 840,411 847,410 851,407 855,395 858,391 865,387 880,381 884,378ZM163,384 174,382 181,383 188,395 203,407 206,413 204,422 200,427 197,429 188,431 170,429 164,431 161,436 156,454 152,458 142,467 140,471 142,483 147,489 152,491 174,497 181,500 186,507 187,516 180,536 179,547 183,554 194,561 199,565 204,576 205,583 200,594 193,614 190,618 183,620 161,617 136,619 132,621 130,623 125,637 122,641 116,645 107,646 98,642 95,639 87,627 80,622 69,621 47,623 38,622 31,619 22,610 16,605 9,603 0,602 0,446 49,447 63,446 69,444 83,436 105,432 139,422 145,419 148,416 150,398 153,391 158,386ZM1444,393 1450,392 1452,393 1454,395 1455,407 1454,411 1452,414 1450,414 1445,412 1442,407 1441,398ZM1496,413 1499,413 1503,414 1506,420 1506,427 1503,433 1501,435 1499,436 1496,433 1494,427 1494,418ZM266,422 273,420 300,431 305,436 313,448 324,455 328,458 329,462 329,469 325,487 322,492 313,494 293,491 268,492 241,491 221,494 217,494 212,491 208,483 206,467 206,458 209,451 220,440 229,429 235,425 241,423 258,424ZM336,503 340,503 344,505 346,509 344,519 342,522 337,524 333,520 331,514 331,507 333,504ZM1199,619 1202,617 1204,617 1206,618 1208,621 1208,630 1206,634 1204,635 1200,634 1196,630 1197,623ZM693,623 699,624 701,626 702,628 701,632 697,636 693,636 689,634 686,630 688,626ZM1359,646 1365,644 1371,646 1373,650 1372,655 1369,657 1365,658 1360,657 1356,655 1355,650 1356,648ZM1220,650 1224,650 1226,652 1227,655 1226,656 1224,657 1221,655 1220,652ZM1275,668 1280,668 1282,670 1283,675 1280,679 1275,679 1270,677 1268,675 1268,672 1270,670ZM1244,670 1251,671 1254,672 1255,675 1253,677 1249,679 1244,678 1242,675 1242,672Z"/>
<path fill="#d6ebff" fill-rule="evenodd" d="M363,0 375,0 376,11 379,18 393,31 402,44 413,51 418,56 420,63 422,78 427,84 431,86 436,85 447,78 456,75 462,75 480,82 487,82 494,78 497,74 499,67 499,60 496,42 497,36 500,31 514,23 517,20 520,13 521,0 574,0 575,13 577,20 581,24 594,31 597,36 598,42 596,56 598,63 601,65 612,69 617,71 620,76 626,87 632,93 643,96 659,98 666,97 670,94 673,89 679,77 684,73 688,72 704,74 710,71 713,67 716,60 716,38 718,31 723,27 735,20 740,16 742,9 743,0 756,0 755,9 752,29 753,42 755,46 757,47 768,50 773,53 777,59 786,80 786,85 781,98 782,104 784,109 789,112 793,113 798,112 806,107 811,106 827,116 846,121 850,125 851,134 848,152 849,174 849,264 847,290 851,311 850,322 849,324 842,326 820,326 802,328 793,326 791,324 789,319 791,297 789,290 771,281 761,268 746,257 737,244 724,235 722,228 724,208 722,201 719,199 704,192 693,177 678,168 675,161 676,159 678,156 690,154 695,152 698,147 703,136 706,133 713,132 726,137 733,136 737,131 738,127 738,123 735,119 731,117 713,113 699,106 693,105 684,106 677,108 672,111 668,116 665,121 664,125 667,145 666,148 661,150 657,148 653,145 646,133 641,128 619,119 612,118 605,120 592,129 585,131 576,131 558,129 550,129 500,140 490,139 476,131 467,131 460,133 456,136 436,155 429,158 422,158 411,154 406,150 403,145 403,141 405,139 419,130 425,123 425,118 422,114 418,111 409,110 353,114 346,113 335,109 328,109 322,112 313,125 306,129 299,128 284,119 277,117 269,121 255,132 235,134 229,136 224,143 222,152 223,157 230,161 244,164 250,164 257,161 268,153 279,150 297,150 333,155 364,153 373,156 385,168 393,172 404,174 424,175 433,177 454,185 496,198 503,202 506,208 505,214 498,220 487,226 468,232 462,236 459,241 456,254 452,257 449,258 426,261 398,263 366,270 335,272 324,274 317,278 313,284 310,299 306,306 299,310 287,313 283,315 282,319 282,337 284,364 281,372 277,376 273,375 271,373 264,358 259,353 252,352 239,354 234,353 230,346 227,333 223,329 214,327 194,331 188,330 183,328 179,322 179,306 178,299 174,295 170,292 163,292 157,297 154,304 155,319 154,324 149,328 139,332 125,333 71,330 0,321 0,190 16,195 20,197 24,201 29,211 34,215 40,216 54,215 58,217 63,222 71,238 76,241 81,241 87,238 90,232 90,223 88,212 85,206 83,202 70,194 68,192 66,188 68,183 71,181 87,175 89,173 90,170 89,165 87,161 83,157 78,155 69,154 47,157 38,157 31,155 27,151 18,139 6,130 0,120 0,66 2,70 7,73 27,72 34,74 38,78 45,91 51,95 63,96 103,96 107,94 112,91 119,78 123,74 130,72 150,74 156,72 160,69 162,65 163,58 160,42 160,36 161,32 163,30 168,29 172,33 180,47 185,51 192,52 208,51 214,54 223,67 237,77 245,92 248,95 259,97 304,97 308,96 313,92 321,78 336,67 345,54 360,46 363,42 365,38 366,31ZM226,268 220,273 218,279 217,288 219,295 221,298 228,300 237,300 244,297 246,295 247,288 247,279 244,273 241,269 237,267 230,266ZM264,303 258,306 256,308 256,311 257,314 261,315 271,313 276,311 277,309 277,306 275,303 270,302ZM118,134 114,136 112,141 112,145 113,150 118,156 134,169 141,173 145,174 151,172 165,163 176,158 180,154 180,147 177,141 174,137 170,134 161,133 145,135 127,133ZM878,0 1001,0 1000,29 1001,36 1004,40 1008,44 1019,51 1028,61 1043,70 1054,84 1059,88 1068,89 1090,84 1108,85 1135,82 1146,81 1155,84 1172,92 1188,103 1220,110 1228,114 1230,118 1229,122 1224,124 1215,125 1197,125 1188,124 1184,121 1180,116 1175,113 1168,114 1163,118 1160,123 1161,127 1171,134 1173,136 1175,143 1178,163 1180,167 1184,169 1191,170 1200,169 1233,161 1237,159 1240,155 1247,138 1251,134 1256,133 1260,133 1264,136 1277,150 1282,154 1289,155 1305,153 1311,153 1318,155 1321,159 1321,165 1316,172 1309,176 1291,184 1282,185 1267,177 1256,175 1247,176 1218,182 1211,184 1193,194 1175,196 1168,198 1159,207 1154,217 1154,226 1155,232 1157,237 1167,248 1169,257 1167,264 1159,277 1155,288 1153,302 1154,313 1156,317 1159,319 1192,326 1196,328 1199,333 1197,337 1195,341 1184,349 1181,353 1178,366 1175,371 1171,375 1160,380 1156,384 1155,391 1157,404 1156,411 1153,416 1139,421 1135,424 1133,429 1132,436 1134,447 1137,451 1144,454 1153,454 1159,453 1164,449 1165,447 1171,433 1173,431 1177,430 1202,434 1233,433 1249,431 1256,430 1260,432 1264,436 1269,447 1270,451 1268,456 1264,459 1253,464 1250,467 1245,480 1243,483 1229,488 1224,491 1221,498 1218,512 1215,517 1211,519 1206,519 1188,512 1173,514 1157,513 1151,514 1146,517 1137,527 1126,536 1119,546 1115,547 1110,547 1106,543 1099,532 1095,528 1086,527 1068,529 1061,527 1058,523 1052,509 1048,506 1039,505 1023,508 1019,507 1015,505 1014,500 1016,496 1031,487 1034,483 1036,478 1034,462 1037,456 1050,448 1061,432 1075,426 1078,422 1080,416 1078,398 1080,391 1085,386 1097,382 1099,380 1102,375 1102,369 1101,353 1103,346 1108,342 1119,337 1123,333 1125,324 1121,304 1123,288 1123,281 1120,277 1117,274 1096,266 1087,255 1081,250 1072,249 1043,247 1039,248 1034,251 1025,265 1021,269 1014,271 999,270 992,271 987,276 981,288 976,292 972,293 956,291 949,293 944,297 936,311 932,314 927,315 920,314 916,312 912,308 908,299 908,284 912,270 920,257 921,252 921,248 916,237 914,228 916,208 916,150 918,134 918,127 916,123 911,117 907,113 900,110 891,109 873,113 862,112 858,106 854,89 854,83 856,78 860,74 873,67 877,60 878,49ZM1595,54 1600,53 1602,54 1606,58 1608,66 1608,120 1604,115 1600,113 1595,112 1590,114 1586,118 1579,132 1559,150 1544,159 1542,161 1541,165 1544,170 1553,174 1575,173 1584,175 1591,178 1602,188 1608,190 1608,321 1597,322 1571,327 1515,326 1495,325 1474,328 1466,327 1461,324 1459,319 1456,302 1454,295 1450,291 1438,284 1433,277 1428,259 1428,252 1432,249 1445,241 1454,228 1459,224 1470,217 1476,210 1478,201 1480,179 1480,170 1477,154 1477,150 1480,145 1495,135 1506,121 1519,113 1527,101 1530,97 1537,95 1555,97 1562,96 1565,92 1572,78 1585,67ZM1248,83 1251,82 1255,85 1255,87 1253,90 1251,92 1249,91 1247,90 1246,85ZM1363,92 1372,93 1376,97 1388,123 1389,127 1387,129 1378,129 1365,126 1358,122 1349,112 1346,105 1347,99 1354,94ZM1339,284 1356,284 1358,286 1357,288 1352,297 1347,299 1343,300 1338,297 1334,290 1335,286ZM1221,304 1226,305 1231,308 1233,313 1233,315 1231,318 1224,320 1218,317 1216,313 1217,308 1218,306ZM1314,311 1320,310 1325,313 1327,317 1325,322 1318,323 1311,319 1309,315 1310,313ZM862,331 869,332 871,335 872,340 869,344 867,345 862,344 858,340 858,333ZM164,389 170,388 174,390 183,400 193,409 196,413 195,418 194,420 188,423 181,423 168,419 161,415 156,407 156,398 159,392ZM864,391 873,390 877,393 878,398 877,402 873,407 869,409 865,408 861,407 859,404 858,400 859,395ZM820,413 827,413 835,416 840,420 840,424 836,428 831,430 824,431 818,429 815,427 815,420 817,416ZM135,429 145,429 149,431 151,438 150,447 147,450 143,453 139,453 125,450 121,450 117,454 116,456 117,460 121,465 131,474 139,490 143,496 147,498 163,499 170,500 176,506 178,509 178,514 176,521 172,528 168,534 163,537 156,538 139,533 130,533 123,535 116,538 112,541 109,545 107,550 107,554 113,572 114,581 112,590 107,601 107,608 109,612 118,619 121,623 122,630 120,637 114,641 105,642 98,637 91,623 85,619 78,617 67,616 47,619 38,619 31,615 24,608 18,603 9,600 0,599 0,448 20,449 67,448 74,446 87,440 107,438 125,431ZM573,431 579,429 583,429 588,430 592,433 600,447 603,450 614,456 618,460 624,471 630,477 639,479 657,478 666,479 681,485 684,487 684,489 683,491 681,493 661,496 654,500 653,503 653,507 657,513 667,523 666,527 661,532 655,535 630,543 626,545 625,550 627,565 627,572 622,576 608,581 605,583 603,588 604,594 611,605 609,608 592,611 572,616 561,617 543,616 536,614 527,610 525,608 525,605 525,603 536,592 538,588 539,583 536,570 537,552 533,545 527,542 518,540 496,542 469,541 445,538 422,543 413,543 408,541 406,534 409,524 412,521 424,512 431,502 435,498 442,496 458,498 465,497 469,493 475,480 480,475 487,474 503,475 509,474 514,470 520,458 524,454 532,452 547,453 556,451 561,447 568,436ZM1398,433 1407,432 1419,434 1425,436 1443,447 1450,454 1458,469 1468,478 1475,494 1481,496 1499,494 1506,495 1511,500 1518,516 1521,520 1524,520 1530,518 1535,513 1537,508 1538,500 1538,480 1539,476 1541,474 1548,472 1568,473 1577,471 1583,467 1590,456 1595,451 1600,449 1608,448 1608,599 1586,602 1575,600 1569,596 1562,584 1557,580 1548,576 1533,573 1526,573 1521,575 1506,588 1503,589 1501,588 1504,570 1501,561 1497,557 1483,550 1474,536 1461,527 1450,514 1438,505 1435,500 1432,490 1430,487 1423,485 1405,484 1390,486 1383,489 1374,498 1367,499 1361,497 1356,493 1343,475 1336,471 1329,470 1324,474 1321,483 1320,498 1323,525 1322,534 1318,544 1311,552 1305,555 1300,553 1289,545 1285,543 1278,542 1256,543 1249,540 1244,536 1242,532 1243,527 1251,496 1254,491 1260,490 1278,490 1285,489 1291,484 1302,469 1322,458 1327,456 1336,454 1363,455 1372,453 1378,449 1389,438ZM776,436 782,435 790,438 795,442 795,447 791,450 786,452 780,452 773,451 770,447 770,442 772,438ZM291,438 295,437 297,438 299,442 299,445 297,446 295,446 291,445 289,440ZM709,458 717,458 731,464 748,463 753,464 754,467 752,469 748,471 731,470 717,474 708,474 704,471 703,467 704,462ZM314,460 317,460 322,462 324,467 322,477 319,480 315,482 311,480 308,474 310,465ZM919,483 923,483 926,485 928,487 929,491 927,498 920,501 916,500 913,494 913,489 915,485ZM897,516 900,515 903,516 902,521 898,523 896,523 895,521ZM876,538 879,538 880,541 879,543 876,545 873,543 874,541ZM1378,554 1383,553 1385,554 1386,556 1381,558 1378,556ZM1132,558 1137,559 1140,561 1142,565 1139,569 1135,569 1130,566 1130,561ZM853,561 857,561 858,563 857,565 853,567 851,567 851,565 851,563ZM1454,574 1457,576 1454,578 1452,576ZM441,579 449,578 455,579 459,581 459,583 456,588 451,590 442,591 440,590 437,585 437,581ZM824,579 831,578 836,579 838,583 837,588 833,590 827,591 818,588 814,583 816,581ZM790,583 795,581 802,583 793,585ZM486,599 493,599 499,601 502,603 503,605 502,608 498,612 494,614 489,615 485,614 481,610 480,605 482,601ZM1472,599 1483,597 1489,599 1489,603 1486,610 1481,613 1477,614 1469,612 1466,610 1464,608 1465,603ZM173,601 181,599 185,600 188,603 189,605 188,610 185,612 181,613 175,612 171,610 166,605ZM147,603 154,603 160,605 155,608 147,608 146,608 145,605ZM1429,621 1436,621 1439,622 1441,626 1440,632 1439,634 1435,637 1430,637 1425,636 1419,630 1418,628 1419,626 1423,623ZM639,628 641,627 642,628 644,630 643,632 640,632 639,630Z"/>
<path fill="#ffe6d6" fill-rule="evenodd" d="M918,0 959,0 960,98 958,105 954,109 943,114 934,114 927,112 918,104 914,96 914,89 918,65ZM734,27 742,27 743,29 745,34 744,45 739,67 740,94 738,101 735,104 731,106 724,106 717,103 713,101 710,96 707,89 709,85 719,74 722,67 722,58 720,42 721,36 726,30ZM377,29 382,31 386,36 387,40 386,42 380,43 375,39 374,34 375,30ZM508,38 512,38 514,42 513,47 509,49 507,47 506,42 506,40ZM582,38 585,37 588,38 590,42 588,49 585,50 583,50 581,47 580,42ZM200,58 208,58 211,63 210,66 208,68 203,68 197,67 194,65 194,63ZM351,58 355,57 357,58 358,63 355,65 351,66 349,65 349,62ZM602,74 608,73 614,75 618,80 623,91 628,96 650,101 658,105 659,109 656,116 650,121 646,121 639,120 629,116 617,107 612,107 605,108 592,116 588,116 583,115 581,109 582,101 592,88 599,76ZM1025,74 1028,72 1032,72 1039,74 1044,78 1050,89 1057,94 1063,96 1086,95 1091,98 1096,105 1098,112 1097,121 1095,127 1090,131 1086,132 1081,131 1070,120 1063,116 1057,116 1051,121 1048,130 1049,143 1052,151 1059,157 1066,159 1077,160 1113,158 1144,158 1153,155 1162,144 1166,144 1168,146 1169,154 1164,168 1162,183 1159,190 1148,205 1145,214 1145,226 1147,239 1151,246 1158,255 1159,259 1151,286 1146,311 1144,316 1139,321 1135,322 1133,320 1128,313 1125,302 1126,281 1123,275 1117,271 1099,265 1095,261 1088,252 1082,248 1052,242 1041,243 1033,246 1029,250 1022,261 1016,266 1010,266 996,265 990,267 985,271 978,283 974,287 967,289 952,287 947,289 943,293 934,306 929,309 925,310 920,309 917,306 914,302 913,295 913,288 918,275 929,261 938,248 952,240 956,234 960,217 960,194 963,186 967,181 978,173 988,161 1001,151 1010,140 1021,130 1025,123 1028,114 1029,107 1024,87 1024,78ZM225,80 228,80 232,83 232,87 230,89 228,89 225,87 224,83ZM328,80 333,80 336,83 335,88 331,92 326,91 325,89 325,85ZM686,80 690,80 696,83 698,87 697,89 690,93 684,92 682,87 684,83ZM1580,80 1584,80 1586,83 1585,87 1582,90 1579,90 1577,87 1578,83ZM19,83 22,81 27,81 29,83 30,87 27,90 21,89 18,87 17,85ZM128,83 132,81 136,83 137,85 136,87 134,88 130,88 127,85ZM864,83 869,81 874,85 875,92 873,95 871,98 867,98 863,94 862,87ZM454,85 460,84 476,90 485,92 505,90 523,91 541,88 547,88 552,90 555,94 556,98 556,105 555,109 550,114 531,125 516,129 504,130 498,127 487,119 480,115 458,113 451,111 448,105 447,98 449,90ZM1128,92 1139,90 1150,92 1159,97 1162,101 1162,103 1156,109 1148,116 1142,118 1133,116 1124,111 1121,107 1119,103 1121,96ZM1359,103 1363,101 1368,103 1371,107 1370,112 1367,113 1361,109 1358,105ZM1534,103 1539,101 1545,103 1548,105 1549,107 1549,109 1544,113 1535,113 1532,109 1532,105ZM297,107 302,107 304,109 304,112 302,114 297,112 295,109ZM255,109 258,109 257,111 255,112ZM1198,114 1207,114 1213,116 1214,118 1210,121 1201,121 1196,118 1195,116ZM1512,130 1512,129 1515,130 1512,131ZM276,159 284,157 295,157 324,164 333,165 357,162 366,163 385,174 393,178 429,185 487,201 496,206 498,209 498,212 495,217 487,221 462,229 456,232 451,237 444,248 427,256 416,259 395,261 369,267 335,268 317,273 312,277 309,281 309,295 307,302 302,306 297,308 288,307 281,299 277,297 257,299 252,298 250,293 248,279 246,272 240,266 232,264 223,266 219,270 217,275 215,290 215,299 217,308 216,313 209,322 199,326 192,327 185,324 183,319 181,304 179,297 174,292 168,290 161,291 155,295 152,302 151,317 150,322 145,326 136,329 123,330 74,328 25,320 0,317 0,196 9,198 16,201 20,205 26,214 31,219 38,220 51,220 56,221 60,225 69,241 76,245 83,245 89,242 93,235 92,210 94,201 96,199 112,190 118,179 121,178 125,179 136,183 143,184 150,182 168,172 174,171 203,173 230,172 252,174 258,172 268,163ZM188,203 183,206 182,208 183,212 185,214 194,216 200,214 203,212 204,210 201,206 194,203ZM706,176 713,177 717,180 719,185 717,189 715,190 710,190 706,188 703,181 704,178ZM1194,179 1201,179 1199,181 1195,184 1191,184 1189,183 1189,181ZM1525,179 1528,177 1533,178 1553,183 1575,183 1582,185 1593,192 1608,196 1608,317 1595,317 1577,321 1568,322 1544,321 1512,321 1492,319 1477,324 1468,324 1464,322 1461,317 1458,299 1456,293 1452,289 1441,283 1436,279 1433,273 1432,264 1432,259 1433,255 1448,245 1456,232 1460,228 1472,221 1478,217 1486,203 1490,198 1497,198 1510,204 1518,203 1520,201 1521,185 1523,181ZM734,210 737,210 739,212 741,219 741,232 739,234 737,235 731,234 728,232 726,228 726,222 728,216 731,212ZM749,244 755,243 760,246 762,252 761,257 760,258 755,258 750,255 747,248 747,246ZM771,266 777,265 784,268 785,270 786,275 784,279 777,280 773,277 770,270ZM798,302 800,300 804,301 818,310 836,308 840,311 841,315 841,317 839,319 836,321 818,320 805,324 798,324 793,320 792,315 794,308ZM227,306 239,305 242,306 243,311 240,315 237,317 230,317 226,315 222,311 224,308ZM267,324 273,323 276,326 276,335 275,341 273,344 268,344 261,337 261,331 264,326ZM1171,328 1175,328 1182,331 1184,333 1183,335 1177,337 1169,335 1167,333 1167,331ZM1110,349 1113,347 1117,348 1119,350 1121,353 1120,362 1117,366 1115,367 1110,365 1107,360 1107,353ZM1087,393 1090,392 1095,392 1097,394 1099,398 1098,407 1095,411 1092,412 1088,410 1085,404 1085,398ZM166,398 170,398 172,400 174,404 173,407 170,407 166,404 165,400ZM1139,398 1142,396 1144,396 1146,398 1149,404 1147,409 1144,410 1139,409 1137,404ZM576,433 581,432 586,433 590,437 592,442 591,449 581,456 578,460 577,467 581,471 588,473 592,472 595,469 601,459 603,457 608,457 612,459 614,461 620,476 623,479 630,482 652,485 654,487 646,496 643,503 644,509 651,523 651,525 648,529 639,532 632,530 628,527 619,517 614,514 608,514 603,518 601,523 601,527 606,552 606,556 603,558 596,559 588,556 583,552 574,539 570,536 565,535 547,536 534,532 523,531 494,532 471,531 445,527 438,528 429,535 422,538 416,538 411,535 410,529 412,525 427,514 433,503 437,500 442,499 460,501 469,500 473,496 477,483 481,478 487,476 507,479 514,477 517,474 521,462 525,456 532,454 550,456 558,455 564,451 571,438ZM1249,436 1258,436 1263,440 1264,445 1265,449 1263,454 1260,456 1253,456 1249,455 1245,451 1242,447 1241,442 1242,440ZM1066,438 1070,437 1072,438 1073,442 1070,445 1066,446 1063,445 1063,441ZM1178,438 1184,437 1200,442 1215,441 1221,442 1221,445 1220,447 1213,449 1197,448 1182,449 1177,447 1176,445 1176,440ZM1397,438 1407,436 1416,437 1439,451 1443,455 1445,458 1446,465 1445,469 1442,471 1436,473 1407,474 1398,474 1392,471 1386,465 1385,458 1390,445ZM89,449 96,448 103,450 111,465 126,478 128,483 130,489 131,498 131,505 126,512 103,532 98,538 94,551 91,556 76,565 65,578 51,588 50,594 53,605 53,610 50,612 45,614 38,614 34,611 20,600 11,597 0,596 0,450 18,451 51,451 78,452ZM1599,451 1608,450 1608,596 1582,599 1577,598 1573,596 1569,592 1564,582 1561,579 1538,570 1532,565 1530,561 1535,545 1534,529 1542,507 1541,485 1543,478 1546,476 1550,474 1573,474 1579,473 1584,469 1593,455ZM1044,460 1049,460 1051,465 1051,471 1048,476 1046,475 1043,473 1041,467 1042,462ZM1306,471 1314,471 1316,473 1317,476 1319,523 1317,532 1314,539 1309,542 1305,543 1285,537 1262,537 1253,534 1250,529 1249,523 1251,505 1255,496 1258,494 1262,492 1280,492 1287,491 1292,487 1302,474ZM1033,494 1039,493 1041,494 1040,496 1034,500 1028,503 1022,503 1021,500 1022,498ZM1208,496 1211,496 1212,498 1211,502 1209,503 1206,500 1206,498ZM157,507 163,507 167,509 168,514 163,519 156,519 153,516 152,512 153,509ZM1063,509 1070,508 1080,509 1085,514 1085,518 1080,523 1075,525 1066,525 1063,523 1061,518 1061,512ZM548,601 554,599 563,600 572,602 573,603 574,605 573,608 567,610 561,612 554,612 548,610 545,608 545,604ZM76,603 83,602 85,603 86,605 84,608 78,608 76,608 74,605ZM104,623 109,624 114,628 115,632 114,634 109,637 107,637 103,634 100,628 101,626Z"/>
<path fill="#ffccb8" fill-rule="evenodd" d="M728,38 733,36 735,40 734,45 731,48 728,45ZM605,83 610,81 613,83 615,89 612,93 608,94 605,92 604,87ZM635,107 637,106 639,106 642,107 642,109 637,110ZM283,163 297,163 319,170 328,171 340,171 357,169 366,170 393,183 476,203 485,208 487,210 487,212 483,217 478,219 460,224 451,228 426,248 416,254 393,258 371,264 340,264 324,268 313,272 308,275 305,279 306,297 304,302 299,304 295,305 291,304 284,295 279,292 261,295 255,293 252,290 249,275 246,268 241,264 232,262 223,264 220,266 217,270 214,277 207,313 203,319 197,322 192,322 188,320 185,315 183,302 180,295 174,290 168,288 159,289 154,293 150,299 148,315 146,319 141,324 134,325 76,325 60,323 36,316 0,313 0,200 9,202 13,205 24,219 29,222 36,223 49,223 54,224 58,228 65,242 68,246 76,249 85,249 92,247 96,242 98,235 97,212 101,206 105,203 123,200 136,203 143,202 147,200 165,183 174,180 183,180 208,182 230,180 248,185 252,185 259,182 275,166ZM185,196 179,198 175,201 173,203 172,208 173,212 175,214 185,220 197,221 214,218 228,220 232,220 238,217 242,210 241,204 237,201 217,201 199,196ZM1061,176 1075,175 1104,178 1133,177 1139,178 1142,180 1142,188 1136,203 1134,212 1139,232 1142,255 1146,266 1147,275 1144,292 1139,302 1137,304 1135,303 1133,300 1132,279 1128,272 1124,270 1108,266 1101,264 1097,260 1089,250 1083,246 1059,237 1052,236 1037,238 1029,241 1025,246 1020,257 1014,261 1008,262 992,260 984,261 981,265 976,277 972,283 965,284 952,282 947,283 941,287 934,299 929,304 925,305 920,302 918,298 918,293 919,286 923,279 945,255 961,246 964,241 967,230 972,223 978,221 994,225 1001,225 1004,221 1008,208 1012,202 1019,200 1037,203 1043,202 1048,197 1052,185 1054,181ZM1592,201 1600,200 1608,200 1608,313 1595,312 1571,316 1544,311 1515,314 1508,313 1495,308 1490,309 1480,317 1476,319 1470,320 1466,318 1463,313 1461,295 1459,290 1454,287 1443,282 1440,279 1436,274 1435,266 1435,261 1438,257 1453,248 1462,232 1466,230 1483,223 1492,218 1506,222 1521,218 1535,216 1548,216 1566,218 1575,217 1580,214 1586,205ZM1539,261 1537,264 1536,266 1539,270 1544,272 1548,270 1549,266 1548,261 1544,260ZM580,438 583,439 584,442 581,446 576,447 575,445 575,442 576,440ZM1404,445 1409,445 1410,447 1405,448 1403,447ZM0,454 0,452 18,454 49,453 65,455 71,458 78,466 83,469 87,469 96,467 101,468 117,480 121,487 120,494 116,500 108,509 92,523 90,527 87,543 83,550 69,560 58,573 47,580 42,583 40,590 40,601 38,604 34,603 25,598 18,595 0,593ZM1598,454 1608,452 1608,593 1582,596 1577,595 1573,592 1565,576 1561,574 1546,569 1541,566 1539,563 1539,558 1542,545 1541,527 1546,507 1544,485 1545,480 1550,477 1557,476 1575,476 1584,474 1588,469 1593,458ZM529,458 536,457 546,460 554,465 555,467 554,469 548,474 541,476 534,477 527,475 524,471 523,467 525,461ZM1305,478 1309,477 1311,479 1314,489 1316,518 1314,527 1311,532 1307,536 1302,536 1285,532 1264,532 1260,531 1256,528 1253,523 1252,514 1254,503 1258,497 1264,494 1280,495 1287,494 1293,489ZM484,480 491,480 501,483 506,487 506,491 503,495 496,498 489,499 483,497 480,494 479,489 480,484ZM439,503 447,502 457,505 464,509 466,512 467,516 465,518 458,520 433,520 431,518 433,512 436,506ZM421,523 427,522 429,523 425,529 421,532 418,532 416,530 415,527 417,525Z"/>
<path fill="#ffaa85" fill-rule="evenodd" d="M283,170 295,170 315,175 326,177 357,176 366,176 393,188 461,206 469,210 470,212 468,214 447,223 420,239 409,247 380,259 366,262 346,260 340,260 319,265 306,270 300,275 297,279 298,284 302,290 302,295 300,299 297,300 293,298 288,290 284,287 266,291 261,292 257,290 254,286 249,270 247,266 241,262 230,260 221,262 217,265 214,268 212,275 204,308 201,313 197,316 192,317 190,315 188,311 184,297 180,290 174,287 168,286 159,287 152,290 148,297 144,315 141,318 134,320 118,319 96,322 76,322 61,317 49,307 42,305 18,310 9,310 0,308 0,205 7,206 11,209 14,212 20,223 24,226 31,227 47,227 54,229 58,235 62,248 65,251 71,253 85,255 91,257 92,259 92,264 87,277 87,281 101,293 112,309 116,313 121,313 123,312 126,306 127,297 124,290 115,281 115,277 118,270 127,261 129,257 132,232 133,228 137,223 147,217 159,215 165,216 177,221 188,224 212,225 228,227 237,225 244,221 250,214 262,192 271,179 277,173ZM346,208 340,208 333,212 331,214 330,219 332,226 338,235 344,239 349,239 355,237 363,232 367,228 368,223 365,217 360,212 353,209ZM1100,203 1108,203 1115,205 1130,228 1132,237 1133,250 1131,259 1126,264 1115,265 1104,263 1099,259 1088,246 1069,237 1063,230 1062,226 1064,221 1070,214 1079,209ZM1602,206 1608,205 1608,308 1595,305 1577,307 1571,306 1564,302 1560,295 1558,286 1559,265 1558,259 1556,255 1553,252 1548,251 1528,252 1520,250 1517,248 1514,244 1514,235 1516,230 1519,227 1524,224 1530,222 1544,222 1573,224 1584,223 1588,220 1594,210 1597,207ZM105,214 109,213 112,214 114,216 115,219 114,227 109,232 107,232 105,230 104,226 103,219ZM1034,223 1037,223 1039,226 1037,227 1034,226 1033,226ZM1468,237 1472,235 1476,237 1477,241 1474,246 1470,247 1466,245 1465,241ZM999,244 1005,243 1012,244 1015,248 1014,253 1010,256 1001,255 997,252 994,248 995,246ZM1443,259 1450,258 1454,259 1456,261 1459,273 1458,277 1457,280 1450,281 1445,280 1441,277 1439,273 1438,266 1440,261ZM955,261 963,262 969,266 970,273 967,277 963,278 958,277 949,273 948,270 949,266 952,263ZM927,288 929,287 930,288 929,293 927,295 926,293ZM1469,293 1472,292 1476,293 1478,295 1480,299 1478,308 1474,312 1472,313 1470,313 1468,311 1466,306 1466,297ZM0,456 0,454 18,457 51,456 60,458 65,460 68,465 69,471 65,487 67,503 65,507 63,512 56,515 38,515 31,516 25,521 19,532 16,535 9,537 0,537ZM1599,456 1604,454 1608,454 1608,537 1600,536 1595,538 1575,555 1566,565 1559,568 1553,567 1547,563 1546,558 1549,545 1548,527 1551,509 1547,491 1548,483 1550,480 1557,478 1577,479 1586,477 1589,474 1594,460ZM531,465 534,463 537,465 534,467ZM1304,485 1307,484 1310,487 1311,493 1312,503 1312,521 1310,525 1307,529 1300,530 1285,527 1267,528 1262,527 1258,524 1255,518 1255,512 1256,505 1260,499 1267,497 1282,497 1287,497 1293,494ZM487,487 489,485 492,487 491,489 489,489ZM443,507 447,507 449,509 449,512 445,513 441,512 441,509ZM1579,576 1586,576 1600,577 1608,577 1608,587 1602,587 1586,593 1579,592 1575,588 1574,583 1575,579ZM0,579 0,577 4,577 16,578 22,581 24,585 23,588 18,589 0,587Z"/>
<path fill="#ff7a47" fill-rule="evenodd" d="M283,179 293,178 306,182 317,184 364,183 391,194 413,198 425,201 440,208 444,210 445,212 444,214 440,219 429,226 418,229 409,229 397,226 377,210 360,202 344,199 328,202 322,205 317,208 316,210 315,214 319,221 338,248 339,250 338,252 335,255 325,259 295,269 277,284 270,287 264,289 259,288 257,286 254,281 250,267 246,261 235,258 219,259 213,261 210,266 202,299 199,306 197,309 194,310 192,309 190,307 186,295 182,288 176,285 168,283 156,284 150,286 147,288 144,293 141,304 139,307 137,306 136,304 133,281 139,264 140,237 142,232 145,228 152,224 161,223 183,227 221,232 230,233 239,231 248,226 266,210 269,206 274,188 279,181ZM0,212 0,211 4,212 8,214 9,219 9,221 7,223 0,223ZM1606,212 1608,212 1608,223 1604,220 1603,217 1603,214ZM1080,217 1090,215 1099,216 1106,219 1121,231 1125,237 1127,246 1126,255 1123,259 1117,262 1106,261 1100,257 1090,244 1073,235 1070,230 1070,226 1073,221ZM1535,228 1544,228 1579,232 1586,234 1608,247 1608,302 1595,293 1591,292 1579,294 1576,293 1573,290 1569,281 1564,257 1559,249 1555,245 1550,244 1530,244 1526,242 1524,239 1524,235 1525,232 1528,230ZM30,232 45,231 49,232 53,235 54,239 54,244 53,248 45,257 46,261 51,266 58,269 65,269 71,267 69,271 68,277 69,288 71,290 87,296 94,301 97,306 99,311 98,313 96,315 89,317 83,317 71,314 67,308 64,295 60,293 51,293 40,295 16,304 9,304 0,302 0,247 9,249 13,249 17,246 22,235ZM368,239 375,238 383,241 386,246 386,248 383,252 376,257 369,259 360,258 352,255 351,252 351,250 352,248 360,243ZM1445,266 1448,266 1450,268 1451,273 1450,275 1445,275 1443,273 1443,268ZM0,458 0,457 4,458 13,462 20,464 38,460 51,459 58,462 60,465 60,469 56,474 49,476 42,476 20,472 0,477ZM1600,458 1608,457 1608,477 1600,476 1596,474 1595,469 1596,465 1597,461ZM1553,483 1562,480 1575,483 1580,485 1581,487 1581,491 1577,496 1568,501 1564,503 1559,503 1555,500 1551,494 1550,487ZM1300,494 1305,492 1307,494 1309,500 1309,514 1307,520 1305,522 1300,524 1285,522 1269,524 1264,523 1260,520 1258,516 1258,509 1259,505 1262,501 1269,499 1287,500Z"/>
<path fill="#ff4f1a" fill-rule="evenodd" d="M403,206 411,205 418,206 425,210 427,212 427,214 424,218 420,220 413,221 409,220 403,217 400,212 400,208ZM1086,221 1090,221 1097,223 1119,239 1121,244 1122,248 1122,252 1119,257 1113,260 1106,258 1102,255 1092,242 1079,234 1077,230 1078,226 1081,223ZM261,226 273,224 295,224 304,227 315,233 322,239 325,246 325,250 322,254 315,257 290,263 286,265 274,281 268,285 264,286 259,284 257,281 253,264 250,259 244,256 221,252 212,246 206,252 200,259 200,264 201,275 201,283 199,293 197,298 194,300 192,298 187,288 183,284 176,282 156,279 152,277 150,275 150,268 153,255 150,244 150,239 152,235 156,232 168,230 194,233 203,236 212,243 214,243 226,239 244,235ZM38,239 42,239 43,241 40,243 38,243 37,241ZM1569,241 1575,240 1582,241 1604,255 1608,259 1608,275 1606,272 1602,271 1584,274 1577,272 1574,268 1572,261 1568,246ZM367,250 369,249 371,250 369,252ZM0,261 0,259 4,264 9,265 25,265 31,267 43,275 45,279 44,281 38,286 20,295 13,297 9,296 4,293 2,288 0,274ZM0,462 0,461 2,462 4,465 3,467 0,469ZM1601,462 1604,461 1608,461 1608,469 1604,470 1602,469 1600,465ZM1559,485 1564,485 1568,487 1570,489 1569,491 1564,494 1558,494 1556,489 1556,487ZM1266,503 1273,503 1287,506 1300,502 1302,503 1303,509 1301,514 1298,516 1287,515 1276,519 1269,519 1264,518 1262,515 1261,512 1262,506Z"/>
<path fill="#e23400" fill-rule="evenodd" d="M292,246 295,245 300,246 302,248 302,250 297,255 293,256 290,256 288,254 288,250Z"/></g></g>
<g id="coast" clip-path="url(#frame)"><path d="M575.6,467.5 578.9,469.2 580.5,460.9 583.8,455.2 592.0,453.5 601.9,455.2 611.8,456.8 611.0,462.6 606.9,467.5 611.8,472.5 618.4,477.4 625.8,481.5 631.6,479.1 632.4,467.5 634.9,456.0 636.5,450.2 639.8,457.6 643.1,465.1 649.7,470.8 651.4,479.1 656.3,485.7 664.6,493.9 671.2,502.1 677.7,508.7 682.7,517.0 685.2,526.9 684.3,536.8 681.0,545.0 676.1,553.2 671.2,563.1 668.7,569.7 661.3,573.0 654.7,576.3 648.1,573.0 641.5,574.7 634.9,573.0 628.3,569.7 625.0,564.8 621.7,559.8 616.8,549.1 613.5,556.5 610.2,559.8 606.0,555.7 601.9,549.1 592.0,543.3 580.5,542.5 569.0,544.2 560.7,546.6 552.5,551.6 544.2,552.4 536.0,552.9 536.0,556.5 528.4,559.0 520.2,558.2 515.2,553.2 516.9,545.0 513.6,536.8 510.3,526.9 507.0,518.6 507.8,508.7 509.5,500.5 515.2,497.2 525.1,493.1 536.0,490.6 542.6,487.3 545.9,480.7 552.5,474.1 555.8,472.5 562.4,467.5 569.0,464.2ZM196.1,510.4 193.7,500.5 196.1,490.6 198.6,480.7 199.4,474.1 207.7,469.2 214.3,464.2 217.6,459.3 220.0,455.2 225.0,467.5 221.7,475.8 220.0,487.3 215.9,500.5 212.6,510.4 208.5,514.5 201.1,516.2ZM474.0,434.2 471.6,430.9 472.2,430.8 467.4,426.3 459.2,419.7 451.0,409.8 444.4,401.6 439.4,395.0 432.8,386.8 427.1,380.2 425.4,376.1 432.8,377.7 442.7,381.8 451.0,388.4 459.2,395.0 465.8,401.6 470.7,406.5 474.0,411.5 473.7,419.7 472.7,426.3 472.4,430.8 482.3,428.8 495.5,431.3 507.0,432.9 511.9,434.6 511.9,438.2 502.0,438.7 487.2,436.5ZM638.2,416.4 648.1,421.4 658.0,426.3 661.3,431.3 658.0,434.6 662.9,439.5 669.5,444.5 674.5,448.6 667.9,449.4 661.3,446.1 654.7,441.2 648.1,436.2 643.1,439.5 638.2,442.8 629.9,440.3 621.7,438.7 616.8,436.2 615.1,431.3 610.2,426.3 603.6,423.0 597.0,419.7 592.0,418.1 588.7,414.8 593.7,412.3 588.7,410.7 585.4,408.2 587.1,405.7 595.3,404.1 601.9,408.2 605.2,414.8 611.8,411.5 618.4,408.2 628.3,411.5ZM542.9,399.9 538.4,399.9 536.2,403.0 538.8,406.6 542.9,406.1 549.6,405.2 551.4,406.6 546.0,409.3 542.9,410.6 547.3,416.4 546.0,417.3 550.5,420.9 548.7,424.5 545.1,423.6 542.9,420.0 540.6,414.6 537.5,415.5 537.9,422.2 537.5,426.7 533.9,426.7 533.9,420.0 531.2,415.5 531.7,411.1 535.3,403.0 535.3,398.5 539.7,396.3 545.1,397.7 551.8,398.1 557.6,395.0 559.4,395.9 555.4,400.3 549.6,399.9ZM513.8,379.8 518.3,375.3 521.9,370.8 525.4,373.1 527.2,376.2 532.6,379.3 529.9,382.0 526.3,383.4 526.3,386.5 525.0,389.6 527.2,392.3 531.2,397.7 526.3,398.5 525.0,404.4 521.9,407.9 520.5,411.9 519.2,415.5 518.3,420.0 512.0,420.0 511.6,417.3 504.9,416.4 499.5,417.8 492.4,415.1 491.5,410.2 487.9,405.7 487.0,400.8 487.0,395.4 489.7,393.2 492.8,394.5 496.8,395.9 497.7,391.4 504.9,387.8 509.4,382.0ZM555.8,373.7 551.7,370.4 547.5,372.8 545.1,370.4 547.5,364.6 552.5,361.3 558.3,358.8 564.0,359.7 566.5,365.4 565.7,372.0 560.7,377.8ZM556.6,347.3 552.5,348.9 547.5,345.6 541.8,344.0 538.5,340.7 536.8,332.5 536.0,327.5 536.0,321.7 540.9,319.3 546.7,319.6 548.4,325.9 545.1,331.6 542.6,337.4 547.5,340.7 554.1,344.0ZM38.7,146.3 45.3,144.6 47.8,148.8 45.3,153.7 49.4,158.2 56.0,159.1 62.6,160.3 74.2,158.7 85.7,159.5 90.7,157.0 93.1,152.1 98.9,147.1 105.5,147.1 108.8,143.0 105.5,139.7 100.5,139.4 107.1,136.4 118.7,135.1 130.2,133.9 133.5,131.5 122.0,131.5 107.1,132.3 98.9,129.8 96.4,124.9 98.9,119.9 105.5,115.0 112.1,111.7 112.9,108.4 105.5,107.6 97.2,109.2 93.9,113.3 89.0,118.3 82.4,122.4 77.5,127.3 78.3,133.1 82.4,135.6 80.8,141.3 74.2,144.6 72.5,148.8 65.9,152.1 59.3,154.5 54.4,151.2 52.7,144.6 49.4,139.7 46.2,137.2 41.2,141.3 35.4,143.0 26.4,141.3 23.1,134.8 21.4,127.3 28.0,123.2 37.9,118.3 42.9,116.6 49.4,111.7 56.0,105.1 62.6,100.1 57.7,98.5 65.9,95.2 72.5,92.7 82.4,89.4 92.3,87.0 102.2,85.3 113.7,84.0 125.3,84.5 135.2,87.8 143.4,89.9 148.3,91.9 158.2,93.5 171.4,96.8 181.3,101.0 183.8,104.3 178.0,106.7 164.8,106.7 153.3,104.3 145.0,101.8 153.3,106.7 154.9,113.3 163.2,115.0 169.8,113.3 164.8,110.9 171.4,109.7 181.3,113.3 178.0,109.2 186.2,106.7 197.8,105.1 196.1,98.5 193.7,95.2 202.7,96.8 204.4,100.1 211.0,102.6 215.9,100.1 214.3,96.8 220.9,98.5 230.8,96.8 242.3,94.4 247.2,96.0 257.1,94.4 268.0,93.5 268.0,92.9 274.6,91.2 284.5,91.6 296.0,94.4 307.6,97.2 301.8,91.9 298.5,87.0 303.4,82.0 308.4,77.1 315.8,72.9 320.7,74.6 322.9,79.5 324.9,88.6 326.5,96.8 322.4,101.0 315.0,104.3 324.0,105.1 333.1,99.3 331.5,94.4 338.0,93.5 330.6,91.1 329.0,85.3 333.1,80.4 331.5,76.2 338.9,77.1 345.5,80.4 351.2,84.5 347.1,80.4 353.7,77.9 360.3,78.7 366.9,82.0 371.0,80.4 365.2,77.1 360.3,74.6 373.5,72.1 386.7,70.5 390.0,67.2 399.9,64.7 416.3,61.4 432.8,61.4 441.1,60.6 449.3,57.3 457.5,55.3 465.0,54.8 465.8,56.8 475.7,58.1 487.2,58.1 498.8,59.8 507.0,61.4 509.5,64.7 505.3,68.8 499.3,69.8 507.0,72.1 515.2,72.1 525.1,73.8 536.0,75.4 536.0,75.7 548.4,75.1 550.0,72.9 562.4,73.4 577.2,75.4 580.5,77.9 576.4,81.2 585.4,84.5 591.2,81.2 601.9,82.0 613.5,80.4 625.0,80.4 628.3,77.1 641.5,77.1 654.7,77.9 669.5,79.5 672.8,82.0 681.0,84.5 694.2,83.7 710.7,85.0 714.8,88.6 720.6,89.9 733.8,89.4 748.6,89.4 753.6,88.6 756.9,92.7 763.5,93.5 762.6,89.4 775.0,89.4 793.1,91.1 804.0,93.5 813.9,96.8 825.4,101.0 837.0,104.3 850.2,106.7 845.2,109.2 838.6,113.7 830.4,111.7 820.5,108.7 810.6,105.1 805.6,107.6 799.1,110.0 793.1,113.3 799.1,118.3 804.0,122.4 793.1,126.5 778.3,130.6 763.5,133.9 756.9,131.5 742.0,133.9 734.6,137.2 728.8,144.6 727.2,149.6 723.9,154.5 717.3,160.3 709.1,166.1 700.8,173.5 698.3,166.1 695.9,156.2 696.7,149.6 700.8,144.6 710.7,139.7 720.6,133.1 724.4,130.0 717.3,131.5 715.7,126.5 705.8,126.5 694.2,129.8 689.3,136.4 679.4,137.2 674.5,135.6 664.6,135.6 651.4,137.2 634.9,136.4 625.0,143.0 615.1,149.6 604.4,157.0 610.2,160.3 613.5,156.2 621.7,158.7 628.3,161.9 631.6,164.4 628.3,174.3 625.0,184.2 618.4,192.4 610.2,200.7 610.2,200.6 601.9,204.7 592.0,208.8 587.1,209.7 578.9,215.4 573.9,220.4 569.0,224.5 573.1,230.3 578.0,237.7 577.2,243.5 573.1,246.4 565.7,248.4 564.8,241.8 566.5,236.0 562.4,231.9 559.1,227.0 552.5,223.7 547.5,225.3 543.4,228.3 541.8,225.3 544.2,222.0 540.9,219.6 537.6,221.2 532.7,225.3 527.8,226.1 526.1,228.6 529.4,232.7 533.5,235.2 537.6,233.6 542.6,234.4 547.5,236.0 542.6,239.3 537.6,241.8 534.4,244.3 533.5,246.8 536.0,248.4 539.3,253.3 542.6,258.3 545.1,263.2 542.6,266.5 545.1,269.8 544.2,274.8 540.9,279.7 536.0,282.2 530.1,288.0 523.5,294.5 515.2,297.8 507.0,300.3 498.8,303.6 493.8,306.1 489.7,310.2 488.9,306.1 482.3,305.3 475.7,307.7 472.4,311.0 474.0,314.3 479.0,319.3 485.6,325.9 488.9,335.8 487.2,347.3 480.6,353.9 474.0,357.2 469.9,362.9 465.8,356.4 459.2,350.6 454.2,345.6 447.7,342.3 446.0,345.6 445.2,352.2 447.7,358.8 451.8,365.4 455.9,372.0 460.8,380.3 464.1,390.1 465.0,395.9 460.0,392.6 454.2,385.2 449.3,375.3 445.2,367.1 442.7,360.5 441.9,353.9 440.2,345.6 437.8,335.8 434.5,325.9 430.3,328.3 422.9,329.2 422.1,320.9 418.0,316.0 413.9,309.4 409.7,300.3 401.5,303.6 394.9,304.4 390.0,306.1 383.4,312.7 375.1,319.3 366.9,325.9 358.7,332.5 357.0,337.4 357.8,345.6 357.0,353.9 353.7,360.5 347.9,365.4 343.8,360.5 338.9,352.2 333.9,342.3 329.8,332.5 326.5,320.9 324.9,312.7 323.2,302.8 320.7,307.7 314.2,307.7 310.9,301.1 305.9,297.8 301.0,292.9 294.4,288.8 281.2,288.8 268.0,288.8 260.4,288.0 255.5,286.3 252.2,279.7 243.9,282.7 235.7,281.0 227.5,274.4 220.9,267.8 214.3,266.5 215.9,271.5 219.2,278.1 224.2,286.3 226.1,292.1 228.8,285.5 231.1,292.1 239.0,294.1 247.2,290.4 253.0,283.8 255.5,288.0 262.1,296.2 267.3,300.8 265.4,303.6 262.1,306.9 257.1,314.3 252.2,319.3 243.9,324.2 237.3,329.2 227.5,334.1 214.3,339.9 201.1,344.8 194.5,346.5 192.0,340.7 189.5,332.5 183.0,320.9 177.2,309.4 173.1,301.1 164.8,289.6 158.2,278.1 156.6,269.8 154.1,278.1 149.2,273.1 145.9,267.8 150.0,276.4 154.9,286.3 159.9,296.2 164.8,307.7 169.8,319.3 174.7,330.8 181.3,337.4 187.9,344.0 192.8,349.8 197.8,354.7 207.7,353.9 217.6,351.4 229.1,348.9 228.3,355.5 224.2,365.4 219.2,375.3 212.6,385.2 204.4,393.4 197.0,401.7 192.8,401.6 187.9,404.9 181.3,409.8 178.0,416.4 174.7,426.3 177.2,434.6 179.7,447.8 182.1,459.3 181.3,472.5 173.1,479.1 164.8,484.0 155.8,493.9 159.1,503.8 156.6,512.0 146.7,518.6 143.4,528.5 135.2,538.4 125.3,546.6 115.4,552.4 102.2,554.1 89.0,557.4 82.4,554.1 80.8,548.3 79.1,541.7 74.2,531.8 69.2,520.3 65.9,510.4 62.6,500.5 57.7,490.6 54.4,482.4 53.6,474.1 56.0,465.9 61.0,457.6 61.8,451.0 60.2,442.8 58.5,437.9 55.2,429.6 51.1,423.0 46.2,416.4 42.0,409.8 40.4,404.9 43.2,401.6 42.0,398.4 44.5,391.8 43.7,385.2 37.9,383.6 28.0,381.9 23.1,377.8 16.5,372.8 8.2,373.7 0.0,375.3 -8.9,375.3 -8.9,239.3 0.0,239.3 13.2,237.7 26.4,236.0 37.9,235.2 46.2,236.0 49.4,237.7 48.6,243.5 46.2,249.2 52.7,251.7 59.3,253.3 69.2,256.6 72.5,260.8 82.4,264.1 87.4,265.7 90.7,259.9 93.9,255.8 102.2,254.2 112.1,257.5 122.0,259.9 131.9,261.6 140.1,260.8 148.3,263.2 153.3,261.6 156.6,255.0 159.1,246.8 160.7,239.3 161.5,236.0 153.3,237.7 145.0,240.2 136.8,237.7 130.2,239.3 122.8,237.7 122.0,233.6 118.7,228.6 122.0,225.3 118.7,222.0 125.3,221.2 130.2,219.1 123.6,218.7 117.8,219.6 108.8,220.0 103.8,221.2 105.5,225.3 101.4,227.8 107.1,233.6 102.2,238.5 96.4,236.0 94.8,230.3 92.3,225.3 87.4,220.4 85.7,213.8 79.1,208.8 72.5,203.9 65.9,200.6 62.6,197.3 57.7,198.1 55.7,200.6 56.9,203.1 59.3,207.2 65.9,212.1 72.5,215.4 80.8,219.6 82.4,223.3 78.3,221.2 75.0,222.9 76.6,227.8 73.3,232.7 70.9,228.6 69.2,223.7 64.3,220.4 57.7,216.3 52.7,211.3 47.8,206.9 45.3,205.9 41.2,203.6 34.6,204.7 26.4,206.9 18.1,207.2 13.2,209.7 6.6,213.8 0.0,217.1 -8.9,217.1 -8.9,177.3 0.0,177.3 6.6,172.7 15.7,167.7 24.7,164.4 33.0,161.9 38.7,158.7 40.4,154.5 37.1,150.4ZM498.8,69.6 487.2,72.1 475.7,74.6 482.3,73.8 495.5,70.5 499.3,69.8ZM725.5,129.8 730.1,125.8 728.8,126.5 724.4,130.0ZM736.3,122.4 732.1,124.0 730.1,125.8ZM43.2,401.7 43.2,401.6 43.2,401.6ZM211.8,206.4 212.7,210.0 216.7,214.5 221.2,218.9 224.7,221.6 221.2,222.1 218.5,227.9 218.9,232.3 224.7,235.5 230.1,238.1 236.8,237.7 241.3,236.8 240.8,232.3 239.9,226.1 236.4,223.4 239.0,219.4 244.0,218.9 243.5,215.4 239.0,214.0 235.5,215.8 234.6,212.2 230.1,210.0 227.4,207.8 224.7,204.2 227.9,203.3 229.2,200.2 235.9,199.3 237.7,195.3 234.6,192.6 227.9,192.1 221.2,193.9 216.7,195.3 210.9,198.8 208.7,203.3ZM125.1,216.7 131.8,218.0 138.5,218.5 143.0,215.8 149.7,214.5 156.4,214.5 162.2,217.1 167.6,218.9 174.3,218.5 181.0,218.9 185.9,215.8 183.2,211.3 177.4,207.8 172.0,204.2 167.6,202.4 163.5,199.7 157.7,201.1 150.1,203.3 145.7,199.3 149.7,196.6 143.0,195.3 137.6,194.4 134.0,198.8 128.7,203.3 126.0,210.0ZM260.5,201.1 261.4,206.4 265.8,207.3 271.7,205.5 274.8,201.1 273.9,195.3 268.1,193.5 262.7,195.7ZM625.8,217.1 625.9,216.6 625.5,216.7 626.2,214.9 626.5,212.9 624.6,211.3 627.3,208.7 631.3,209.1 633.1,203.3 634.0,198.8 638.0,202.0 642.5,204.6 649.2,204.2 651.4,208.2 647.9,210.0 641.2,214.5 639.8,214.5 634.5,211.8 632.8,212.0 633.6,215.4 634.9,220.4 632.4,227.0 630.8,235.2 629.9,241.8 625.0,243.8 620.1,244.8 615.1,246.1 610.2,247.7 606.0,250.4 603.6,252.0 600.6,248.1 593.7,248.7 588.7,250.0 585.4,248.4 593.7,244.8 601.9,241.8 608.5,237.7 611.8,233.6 616.8,233.6 621.7,228.6 625.0,222.0ZM-0.5,160.5 1.0,164.9 7.1,166.1 6.4,169.4 2.7,172.7 5.1,173.7 0.2,175.1 -4.8,174.6 -10.5,176.0 -13.4,176.7 -13.4,145.7 -8.9,146.3 -11.4,151.2 -6.4,152.1 -7.2,156.2ZM-11.4,142.2 -13.4,143.8 -13.4,139.4ZM309.2,57.6 308.2,60.3 295.0,63.1 281.8,65.5 270.3,69.2 260.4,73.4 253.0,78.4 251.4,82.0 258.8,85.0 268.0,85.6 273.6,88.6 267.0,90.3 257.1,88.6 243.9,85.3 234.0,82.8 230.8,80.0 237.3,74.6 247.2,68.8 257.1,64.7 268.0,61.6 280.2,59.6 295.0,58.1ZM100.5,49.0 111.3,53.2 108.8,54.8 98.9,56.5 93.1,55.6 94.8,52.3 87.4,49.9 84.1,51.5 76.6,59.8 65.9,56.5 56.9,50.7 48.6,45.8 62.6,44.1 77.5,44.9 85.7,42.8 98.9,42.1 121.1,43.3 120.3,45.8 107.1,48.2ZM470.7,49.9 469.1,52.3 457.5,51.5 449.3,52.3 444.4,54.0 446.0,49.9 436.1,49.0 426.2,48.2 416.3,46.6 407.3,43.3 413.0,40.0 426.2,38.3 436.1,40.0 442.7,44.1 447.7,47.4 454.2,46.6 464.1,47.4ZM237.3,43.3 250.5,39.5 262.1,37.2 273.6,38.3 273.6,42.1 257.1,44.1 247.2,42.8ZM148.3,711.4 150.0,708.1 158.2,709.7 171.4,714.7 178.0,710.6 189.5,706.4 206.0,704.0 220.9,703.1 225.0,699.0 234.0,696.2 245.6,696.2 253.8,699.8 268.0,703.1 281.2,703.5 296.0,704.5 310.9,704.0 311.7,709.7 313.3,715.5 320.7,714.7 330.6,713.0 337.2,713.9 347.1,710.6 358.7,705.6 375.1,701.5 391.6,700.2 416.3,699.8 441.1,699.0 457.5,696.5 474.0,698.2 487.2,700.7 495.5,696.9 508.6,696.2 521.8,699.0 536.0,700.7 547.5,698.5 557.4,699.8 565.7,697.9 578.9,702.0 582.2,697.4 601.9,697.4 621.7,699.0 643.1,701.5 658.0,706.4 676.1,708.1 690.9,708.9 697.5,711.4 709.1,710.6 720.6,713.0 723.1,718.0 730.5,715.5 743.7,717.2 756.9,719.6 764.3,722.1 760.2,727.9 745.3,730.3 733.8,734.5 727.2,739.4 728.8,746.0 732.1,750.1 742.0,751.8 725.5,752.9 715.7,755.9 716.5,763.3 725.5,767.4 742.0,770.7 766.8,774.0 804.0,775.7 820.5,779.0 845.2,780.6 869.9,783.1 886.4,783.9 919.4,784.7 944.1,783.9 957.3,783.1 949.0,780.6 932.6,779.0 922.7,776.5 921.0,770.7 918.6,766.6 929.3,764.9 947.4,763.3 958.9,762.1 949.0,760.8 929.3,758.4 911.1,755.1 902.9,751.8 899.6,747.6 906.2,746.0 919.4,746.0 929.3,748.5 944.1,749.0 955.6,747.6 957.3,744.3 952.3,741.9 968.8,739.4 980.4,739.7 985.3,738.1 1001.8,735.8 1015.0,735.8 1026.5,739.4 1041.3,741.9 1046.3,736.9 1056.2,731.2 1056.2,728.7 1062.8,729.2 1072.0,732.8 1081.9,732.0 1085.2,736.9 1096.7,738.6 1105.0,737.8 1108.3,732.8 1113.2,731.2 1118.2,736.1 1126.4,736.9 1141.2,735.8 1151.1,734.5 1154.4,727.9 1157.7,723.7 1170.9,722.9 1180.8,725.4 1187.4,726.2 1212.1,727.0 1236.8,727.0 1258.2,726.2 1259.9,729.5 1278.0,730.3 1286.3,727.9 1302.8,728.7 1308.5,725.4 1309.3,718.0 1306.0,711.4 1299.5,709.7 1296.2,715.5 1291.2,718.0 1278.0,719.6 1269.0,720.4 1267.3,716.3 1276.4,713.9 1286.3,714.7 1291.2,710.6 1297.8,708.9 1302.8,703.1 1314.3,698.2 1324.2,692.4 1332.4,690.0 1340.0,688.3 1349.9,685.8 1363.1,684.2 1356.5,687.5 1349.9,690.0 1340.0,692.9 1329.1,695.2 1319.2,699.8 1315.9,706.4 1324.2,709.7 1330.8,716.3 1335.7,724.6 1337.4,732.8 1329.1,739.4 1315.9,743.5 1307.7,746.0 1322.5,747.3 1340.0,747.6 1364.7,750.1 1394.4,753.4 1422.4,753.9 1438.9,752.9 1455.4,748.5 1481.7,742.7 1498.2,738.6 1503.2,735.3 1521.3,731.2 1546.0,727.0 1557.6,724.6 1554.3,720.4 1562.5,719.6 1570.8,722.1 1577.3,718.0 1582.3,718.8 1595.5,718.8 1597.1,716.3 1603.7,717.2 1608.0,720.4 1617.4,720.4 1617.4,813.2 -8.9,813.2 -8.9,721.3 0.0,721.3 16.5,716.3 33.0,715.0 57.7,715.5 82.4,715.5 102.2,716.7 115.4,715.5 131.9,713.0ZM748.1,608.5 743.7,606.1 750.3,601.0 758.5,594.4 765.1,588.3 770.9,582.9 779.1,584.2 778.6,588.2 775.8,591.1 773.3,596.9 765.9,599.9 762.5,606.6 752.2,609.8ZM646.4,583.7 654.7,584.6 662.9,583.7 662.1,591.1 658.0,596.9 653.8,596.9 649.7,591.1ZM781.6,586.2 779.9,581.3 776.6,578.0 781.6,573.0 779.9,566.4 775.8,561.5 772.5,555.7 778.3,559.8 783.2,566.4 789.8,569.7 798.1,569.7 795.6,576.3 790.6,581.3 786.5,587.0ZM1004.3,140.5 993.5,137.7 985.3,134.8 975.4,133.9 962.2,131.5 952.3,129.8 944.1,129.8 930.9,136.4 935.9,131.5 939.2,128.2 930.9,129.8 922.7,138.1 912.8,143.0 899.6,150.4 886.4,156.2 872.4,159.1 883.1,155.4 893.0,151.2 902.9,144.6 904.5,139.7 896.3,140.5 888.1,139.7 881.5,134.8 873.2,131.5 867.5,127.3 873.2,121.6 881.5,118.3 890.5,116.6 889.7,112.5 874.9,112.5 865.0,113.3 859.2,108.7 866.6,107.6 876.5,105.9 886.4,105.1 879.8,101.8 869.9,98.5 866.6,95.2 878.2,91.9 886.4,89.4 899.6,86.1 911.1,83.3 919.4,84.5 935.9,86.1 952.3,87.0 968.8,88.6 985.3,91.1 1001.8,94.4 1018.3,90.3 1031.5,89.4 1038.0,86.6 1051.2,88.6 1057.8,90.3 1072.0,89.4 1072.0,89.9 1083.5,92.7 1095.1,96.8 1109.9,99.3 1124.7,98.5 1137.9,96.0 1149.5,94.4 1157.7,96.8 1167.6,98.5 1177.5,100.1 1180.8,96.8 1187.4,91.9 1185.7,87.0 1182.4,82.0 1190.7,78.7 1197.3,82.0 1200.6,88.6 1208.8,93.5 1213.7,96.8 1217.0,100.1 1223.6,98.5 1225.3,93.5 1236.8,91.1 1243.4,96.8 1241.8,103.4 1235.2,105.1 1230.7,106.0 1243.4,107.6 1251.7,113.3 1246.7,119.9 1235.2,121.6 1225.3,118.3 1221.2,112.5 1221.2,111.7 1217.0,115.0 1207.2,117.9 1197.3,121.6 1190.7,126.5 1185.7,133.9 1187.4,139.7 1194.0,141.3 1197.3,146.3 1207.2,147.9 1220.3,151.2 1231.9,154.5 1240.1,156.2 1241.8,164.4 1245.1,171.0 1251.7,174.3 1255.8,170.2 1257.4,161.9 1258.2,156.2 1263.2,151.2 1265.7,144.6 1261.5,138.1 1259.1,131.5 1260.7,124.9 1266.5,124.9 1278.0,126.5 1291.2,129.8 1299.5,131.5 1301.1,138.1 1307.7,141.3 1314.3,136.4 1317.6,132.3 1324.2,139.7 1332.4,146.3 1340.0,152.9 1337.6,154.3 1347.5,158.2 1352.4,160.2 1357.3,163.1 1360.8,168.1 1360.3,171.0 1352.4,172.0 1347.5,173.5 1342.6,176.9 1334.7,177.9 1322.9,177.4 1313.0,177.9 1308.1,179.9 1301.2,183.8 1295.3,188.7 1290.4,192.7 1298.3,187.7 1305.2,183.8 1313.0,182.3 1320.9,183.3 1321.9,185.3 1317.0,186.8 1313.0,187.7 1318.0,189.7 1318.9,192.7 1322.9,194.6 1330.8,193.6 1335.7,192.7 1337.6,194.6 1340.6,196.1 1334.7,198.6 1322.9,202.5 1317.0,205.4 1314.0,207.4 1313.0,204.5 1318.0,201.5 1320.9,198.6 1313.0,198.6 1309.1,201.5 1301.2,205.4 1295.3,208.4 1292.4,212.3 1295.3,214.3 1291.4,216.3 1283.5,218.2 1277.6,220.2 1276.1,224.6 1269.8,227.0 1268.1,233.6 1271.4,240.2 1263.2,248.4 1253.3,255.0 1246.7,261.6 1245.1,269.8 1246.7,278.1 1250.0,286.3 1246.7,289.6 1241.8,283.0 1238.5,274.8 1235.2,269.0 1226.9,267.4 1217.0,266.5 1207.2,267.4 1208.8,271.5 1202.2,269.0 1194.0,268.2 1185.7,269.8 1179.1,274.8 1174.2,281.4 1171.7,292.9 1173.4,304.4 1177.5,312.7 1185.7,318.4 1195.6,319.3 1202.2,316.0 1203.9,309.4 1208.8,306.1 1218.7,305.3 1220.3,309.4 1217.0,319.3 1215.4,327.5 1217.0,330.8 1225.3,330.8 1235.2,332.5 1236.8,334.4 1235.2,344.0 1234.3,353.9 1237.6,358.0 1243.4,361.8 1250.0,362.5 1255.0,359.2 1259.9,359.8 1264.8,364.1 1268.1,358.8 1273.1,353.9 1279.7,350.6 1287.9,346.5 1287.9,352.2 1286.3,357.2 1289.6,360.8 1292.0,353.9 1294.5,349.8 1299.5,352.2 1306.0,355.5 1315.9,356.4 1325.8,355.5 1334.1,354.7 1337.4,358.8 1340.0,363.8 1346.6,368.7 1353.2,373.7 1361.4,375.3 1369.7,377.8 1377.9,383.6 1381.2,390.1 1384.5,395.1 1385.3,401.6 1379.6,403.2 1382.9,406.5 1394.4,404.9 1409.2,409.0 1412.5,414.0 1425.7,414.0 1438.9,419.7 1448.8,424.7 1453.7,432.9 1452.9,441.2 1445.5,451.0 1438.9,459.3 1434.8,467.5 1433.9,479.1 1431.5,489.0 1425.7,498.8 1420.8,502.1 1409.2,505.4 1402.6,508.7 1392.7,517.0 1391.9,526.9 1384.5,538.4 1377.9,545.0 1369.7,551.6 1361.4,556.5 1349.9,557.4 1347.4,554.9 1352.4,559.8 1355.7,564.8 1353.2,569.7 1348.2,573.0 1340.0,574.7 1332.4,575.5 1330.8,582.9 1322.5,584.6 1318.4,587.8 1319.2,592.8 1324.2,591.1 1323.4,595.3 1317.6,596.1 1315.9,602.7 1315.9,602.6 1309.3,605.9 1307.7,610.8 1314.3,615.0 1311.0,620.7 1302.8,627.3 1300.3,633.9 1302.8,637.2 1306.0,639.7 1309.3,643.0 1318.4,646.8 1309.3,649.6 1299.5,647.9 1287.9,643.8 1278.0,638.9 1272.3,630.6 1270.6,619.1 1272.3,609.2 1277.2,602.6 1277.2,602.7 1278.0,596.1 1279.3,587.8 1281.3,582.9 1280.5,576.3 1281.3,568.1 1284.6,559.8 1287.9,549.9 1289.6,538.4 1291.2,526.9 1292.9,517.0 1294.5,503.8 1294.5,493.9 1292.9,482.4 1286.3,476.6 1279.7,472.5 1273.1,467.5 1268.1,462.6 1263.2,454.3 1258.2,444.5 1253.3,436.2 1248.4,429.6 1245.1,423.0 1246.7,418.1 1252.5,414.8 1246.7,411.5 1248.4,406.5 1249.7,401.6 1253.3,401.7 1256.6,396.7 1259.9,391.8 1264.0,385.2 1263.2,378.6 1261.5,370.4 1259.9,365.4 1255.8,363.8 1252.0,366.2 1249.7,370.4 1245.9,367.4 1240.1,365.4 1231.9,361.3 1225.3,355.5 1220.3,348.9 1217.0,344.0 1208.8,342.3 1197.3,337.4 1187.4,330.8 1177.5,330.8 1167.6,328.3 1154.4,322.6 1144.5,316.0 1137.9,307.7 1134.6,301.1 1126.4,292.9 1119.8,284.7 1111.6,276.4 1106.6,269.8 1102.5,260.8 1096.7,261.3 1098.4,266.5 1103.3,271.5 1107.4,279.7 1111.6,288.0 1115.7,294.5 1118.2,299.2 1111.6,292.9 1105.0,286.3 1096.7,278.1 1093.4,273.1 1088.5,263.2 1083.5,255.0 1078.6,250.0 1072.0,248.4 1067.7,245.1 1064.4,236.9 1058.6,228.6 1054.5,217.1 1052.9,208.8 1053.2,203.9 1058.6,200.6 1056.2,192.4 1062.8,189.1 1061.1,182.6 1047.9,176.8 1034.8,174.3 1026.5,161.9 1027.3,157.0 1018.3,151.2 1010.0,147.9ZM1221.2,107.6 1226.4,106.6 1220.3,105.1 1221.2,111.7ZM1058.6,200.7 1058.6,200.6 1058.6,200.6ZM634.9,189.1 634.1,177.6 634.9,167.7 633.2,158.7 638.2,159.5 639.0,167.7 639.8,177.6 645.6,183.4 641.5,192.4 641.5,196.6 635.7,196.6ZM1144.5,85.3 1157.7,88.6 1154.4,91.9 1144.5,92.2 1134.6,91.2 1121.4,93.9 1109.9,94.9 1100.0,93.5 1096.7,96.8 1086.8,89.4 1081.1,85.3 1078.2,81.6 1072.0,82.8 1062.8,83.7 1054.5,82.0 1048.8,78.7 1054.5,77.1 1051.2,72.9 1057.8,70.8 1072.0,69.6 1080.9,70.5 1087.5,73.8 1087.5,73.8 1093.4,72.9 1101.7,75.4 1114.9,73.8 1126.4,72.9 1137.9,72.9 1140.4,80.4ZM1157.7,72.1 1170.9,70.5 1177.5,75.4 1174.2,81.2 1164.3,82.0 1154.4,80.4 1149.5,76.2ZM614.3,67.5 612.6,64.7 616.8,61.9 628.3,62.2 634.9,61.4 648.1,64.2 644.8,67.2 633.2,68.0 621.7,68.5ZM1134.6,63.1 1126.4,67.2 1114.9,65.5 1113.2,59.8 1126.4,58.9ZM1141.2,63.9 1136.3,55.6 1146.2,54.0 1149.5,60.6 1157.7,62.2 1169.2,60.6 1170.9,64.7 1161.0,67.2 1149.5,65.5ZM1082.5,57.3 1084.2,60.9 1072.0,62.2 1062.8,63.1 1053.7,61.4 1061.1,58.9 1072.0,56.5ZM1105.0,50.7 1121.4,52.0 1119.8,55.6 1105.0,56.5 1093.4,55.6 1091.8,53.2ZM1161.0,48.2 1164.3,51.5 1151.1,52.7 1137.9,51.5 1133.0,48.2 1146.2,46.6ZM1385.3,401.6 1385.3,401.7 1385.3,401.6ZM1284.6,323.4 1278.0,321.7 1282.1,319.3 1277.2,316.0 1281.3,314.3 1289.6,314.0 1297.8,315.2 1304.1,318.4 1299.5,321.7 1291.2,322.2ZM1554.3,370.4 1549.3,363.8 1544.4,357.2 1540.3,350.6 1534.5,347.3 1533.7,340.7 1531.2,335.8 1535.3,325.9 1536.1,314.3 1532.8,307.7 1533.7,302.8 1537.0,292.9 1541.1,284.7 1546.0,278.1 1552.6,273.1 1560.9,266.5 1564.2,259.9 1570.8,253.3 1577.3,248.4 1583.1,242.6 1587.2,243.5 1597.1,245.1 1610.3,240.5 1610.3,376.1 1602.1,379.4 1593.8,378.6 1583.9,379.4 1575.7,382.7 1570.8,381.9 1562.5,376.1ZM1269.8,314.3 1261.5,311.4 1255.0,307.7 1246.7,306.1 1240.1,303.6 1234.3,304.8 1229.4,304.1 1235.2,301.1 1243.4,299.2 1251.7,299.5 1261.5,303.6 1269.8,307.7 1276.4,311.4 1278.0,314.3ZM1568.3,233.6 1566.6,225.3 1567.5,217.1 1568.3,208.0 1574.0,206.4 1587.2,207.2 1602.1,206.4 1603.4,200.6 1602.1,197.3 1597.1,192.4 1590.5,189.1 1586.6,185.3 1597.1,182.5 1603.7,180.8 1610.3,180.8 1610.3,229.9 1603.7,233.6 1593.8,236.0 1585.6,239.8 1582.3,239.3 1575.7,236.0 1569.1,236.9ZM1358.3,190.7 1352.4,189.2 1343.5,188.7 1348.5,184.8 1354.4,178.9 1355.4,177.9 1360.3,177.9 1364.2,180.8 1369.1,181.8 1372.1,184.8 1373.6,189.7 1372.1,193.6 1367.2,193.6 1364.2,189.7 1360.3,192.7ZM1358.3,174.5 1361.3,172.5 1355.4,177.9 1355.4,177.9ZM1570.8,171.8 1565.0,172.7 1561.7,168.5 1564.2,161.9 1570.8,157.0 1579.0,155.4 1583.1,158.7 1581.5,166.1 1577.3,169.4ZM1608.0,160.5 1609.5,164.9 1615.6,166.1 1614.9,169.4 1611.1,172.7 1613.6,173.7 1608.7,175.1 1603.7,174.6 1597.9,176.0 1591.8,177.6 1582.6,178.4 1587.2,175.1 1594.6,172.5 1588.9,171.8 1585.3,170.7 1590.2,167.1 1587.1,165.7 1587.9,163.1 1594.6,163.1 1593.0,159.5 1592.3,156.3 1585.6,157.7 1586.4,153.7 1583.1,152.1 1582.3,147.0 1585.6,139.9 1594.6,138.9 1597.1,142.2 1593.0,145.5 1599.6,146.3 1597.1,151.2 1602.1,152.1 1601.2,156.2ZM1546.0,114.2 1534.5,117.4 1524.6,118.6 1514.7,117.0 1506.5,115.8 1504.8,112.5 1499.1,108.4 1504.8,105.1 1514.7,106.7 1521.3,105.9 1531.2,105.1 1542.7,105.9 1548.5,110.0ZM1306.0,91.9 1315.9,95.2 1329.1,98.5 1334.1,105.1 1324.2,111.7 1315.9,115.0 1319.2,121.6 1311.0,125.7 1299.5,122.4 1284.6,116.6 1269.8,115.0 1259.9,113.3 1266.5,108.4 1278.0,106.7 1284.6,101.8 1283.0,95.2 1274.7,91.1 1264.8,88.6 1255.0,88.6 1246.7,89.9 1236.8,87.8 1226.9,85.3 1218.7,82.0 1212.1,80.4 1208.8,77.1 1215.4,72.9 1228.6,72.1 1245.1,72.9 1261.5,74.6 1278.0,78.7 1291.2,82.0 1302.8,85.3ZM1504.8,30.1 1519.7,32.6 1504.8,34.5 1476.8,35.0 1498.2,36.7 1504.8,39.2 1521.3,36.7 1537.8,36.7 1557.6,38.3 1546.0,41.6 1534.5,44.9 1524.6,49.0 1521.3,54.0 1526.2,57.3 1518.0,60.6 1527.9,65.5 1514.7,70.5 1511.4,75.4 1504.8,78.7 1509.8,83.7 1498.2,85.3 1491.6,88.6 1498.2,91.9 1488.3,94.4 1476.8,96.8 1465.3,99.3 1455.4,105.1 1445.5,107.6 1435.6,109.2 1425.7,112.5 1424.1,118.3 1420.8,122.4 1419.1,126.5 1415.8,133.1 1412.5,134.8 1405.9,133.1 1396.0,130.6 1389.4,126.5 1382.9,121.6 1376.3,115.0 1371.3,108.4 1368.8,101.8 1371.3,96.8 1379.6,93.5 1377.9,87.0 1369.7,85.3 1363.1,82.0 1361.4,75.4 1356.5,70.5 1349.9,65.5 1340.0,63.1 1319.2,61.4 1302.8,60.6 1292.9,57.3 1283.0,52.3 1286.3,50.7 1302.8,46.6 1315.9,42.5 1330.1,38.3 1330.4,38.3 1315.9,41.1 1299.5,44.4 1283.0,47.1 1273.1,49.0 1261.5,52.3 1256.6,58.1 1246.7,60.6 1230.2,60.6 1217.0,59.8 1208.8,58.1 1213.7,54.0 1223.6,52.3 1230.2,49.0 1220.3,46.6 1217.0,44.1 1208.8,40.8 1203.9,38.3 1220.3,34.2 1245.1,30.9 1278.0,30.1 1311.0,30.9 1334.1,33.4 1332.5,37.5 1340.0,35.0 1359.8,34.2 1379.6,35.0 1389.4,32.6 1405.9,30.1 1430.7,28.9 1455.4,27.9 1480.1,28.4ZM1236.8,68.8 1220.3,68.5 1203.9,67.5 1187.4,68.0 1177.5,65.5 1187.4,63.1 1203.9,61.9 1220.3,62.2 1236.8,63.1 1251.7,64.7 1250.0,68.0ZM1187.4,45.8 1184.1,42.5 1190.7,39.2 1203.9,40.5 1212.1,44.4 1219.5,47.7 1213.7,51.5 1200.6,52.3 1192.3,49.0ZM134.3,129.8 137.6,126.5 143.4,126.5 146.7,129.8 143.4,133.1 137.6,133.4 134.3,129.8ZM154.1,122.4 158.2,120.7 162.3,125.7 162.3,129.8 158.2,129.0 154.9,125.7 154.1,122.4ZM462.5,171.8 474.0,166.1 483.9,159.5 489.7,152.9 491.8,154.5 487.2,162.8 477.3,169.4 465.8,173.0 462.5,171.8ZM1049.6,106.7 1061.1,104.3 1074.3,101.8 1082.5,103.4 1080.9,108.4 1071.0,111.7 1061.1,110.0 1049.6,106.7ZM1085.2,129.0 1091.8,126.5 1096.7,122.4 1109.9,121.2 1122.3,121.6 1119.8,124.0 1108.3,125.7 1100.0,129.8 1090.1,130.6 1085.2,129.0ZM1110.7,139.7 1119.8,134.8 1129.7,136.1 1128.0,138.1 1119.8,138.9 1113.2,141.3 1110.7,139.7ZM1147.0,150.4 1150.3,143.0 1155.2,143.0 1154.4,147.9 1149.5,151.2 1147.0,150.4ZM1156.9,164.4 1164.3,161.9 1177.5,172.7 1179.1,177.6 1174.2,178.4 1169.2,174.3 1164.3,172.7 1159.4,167.7 1156.9,164.4ZM1197.0,193.5 1201.9,192.6 1208.6,193.0 1213.5,190.8 1217.5,194.4 1224.2,193.9 1228.7,193.5 1230.9,194.4 1230.0,190.3 1225.1,188.1 1222.0,184.5 1214.4,183.6 1209.5,187.7 1202.8,190.8 1197.0,193.5ZM1216.2,215.8 1219.8,215.8 1222.9,212.2 1222.0,206.4 1224.2,202.0 1227.4,199.7 1229.6,197.5 1226.5,196.6 1222.0,197.5 1218.4,200.2 1215.3,202.8 1217.5,205.5 1215.7,210.0 1216.2,215.8ZM1230.9,197.0 1235.4,196.1 1242.1,196.1 1246.6,197.0 1251.0,201.1 1250.1,203.3 1245.2,202.4 1243.4,207.8 1240.3,210.0 1239.0,206.4 1233.6,206.9 1235.8,203.3 1235.8,200.2 1230.9,197.0ZM1235.4,215.8 1239.9,217.1 1246.6,215.4 1253.3,212.7 1256.0,210.4 1251.0,211.3 1244.3,212.2 1239.9,214.5 1236.7,214.0 1235.4,215.8ZM1251.9,208.7 1257.7,208.7 1264.4,208.7 1268.0,207.3 1267.6,204.6 1262.2,205.5 1255.5,206.4 1251.9,208.7ZM142.1,400.0 154.1,399.6 154.6,408.2 150.8,413.5 144.2,414.5 141.7,409.0 142.1,400.0ZM129.4,417.3 131.9,416.4 136.0,429.6 140.1,440.3 137.6,441.2 133.5,431.3 129.4,417.3ZM151.3,444.8 154.1,444.1 156.6,454.3 159.1,466.2 156.6,467.2 153.3,456.0 151.3,444.8ZM58.5,339.1 63.5,337.7 68.4,342.3 65.9,346.5 61.8,345.6 58.5,339.1ZM328.4,198.8 332.9,195.3 341.8,193.5 353.0,193.9 353.9,195.3 344.0,195.3 335.1,197.5 330.6,201.1 328.4,198.8ZM156.4,195.7 163.1,193.5 169.8,191.7 175.1,191.2 173.4,195.7 168.9,198.8 164.4,199.3 157.7,199.3 156.4,195.7ZM198.6,41.6 214.3,40.0 229.1,41.1 219.2,44.1 207.7,43.3 198.6,41.6ZM216.7,92.7 220.0,89.9 223.8,92.7 220.0,95.5 216.7,92.7ZM80.4,144.6 83.2,142.2 85.7,144.6 83.2,147.1 80.4,144.6ZM268.0,40.0 279.5,38.8 292.7,39.2 284.5,41.6 274.6,43.3 268.0,42.8ZM654.7,64.7 664.6,65.2 675.3,65.9 674.5,68.0 664.6,68.0 656.3,66.4 654.7,64.7ZM625.8,70.5 636.5,71.3 641.5,74.6 633.2,75.4 627.5,73.8 625.8,70.5ZM798.1,84.5 804.0,82.0 812.9,82.8 812.9,85.3 804.0,86.1 798.1,84.5ZM840.3,117.4 847.7,116.6 855.1,118.6 847.7,120.2 840.3,117.4ZM860.0,133.1 865.0,131.8 869.9,133.4 865.0,135.1 860.0,133.1ZM852.1,165.7 858.4,162.4 865.3,160.8 860.0,164.4 853.4,167.1 852.1,165.7ZM917.7,145.5 926.0,140.5 930.1,143.0 922.7,147.9 917.7,145.5ZM1081.9,64.7 1096.7,63.1 1105.0,65.5 1096.7,68.0 1085.2,68.0 1081.9,64.7ZM1568.3,85.3 1573.2,83.3 1574.0,84.6 1569.4,86.3 1568.3,85.3ZM1574.9,124.0 1578.2,122.4 1581.0,123.5 1578.2,125.7 1574.9,124.0ZM55.2,232.7 62.6,231.1 68.4,231.9 65.9,236.0 57.7,235.2 55.2,232.7ZM38.7,209.7 43.2,208.0 44.2,215.4 43.2,223.7 40.4,227.8 36.6,227.0 35.9,220.4 38.2,215.4 38.7,209.7ZM9.9,224.7 12.9,223.3 15.7,225.0 12.9,226.3 9.9,224.7ZM104.7,243.8 111.3,243.0 117.8,244.3 111.3,245.9 104.7,243.8ZM144.2,245.9 149.2,243.8 154.9,243.1 150.8,246.8 145.9,248.1 144.2,245.9ZM237.3,346.0 241.0,345.0 244.3,346.3 240.6,347.6 237.3,346.0ZM485.6,316.0 489.7,312.3 496.3,312.7 495.5,317.6 489.7,320.6 485.6,316.0ZM356.2,358.8 359.5,357.2 365.2,365.4 364.4,372.8 360.3,375.3 357.0,370.4 356.2,358.8ZM413.9,348.9 415.0,342.0 416.3,342.3 415.5,349.3 413.9,348.9ZM578.0,255.0 581.3,250.0 585.4,248.9 590.4,250.0 589.6,255.8 587.1,259.1 583.0,262.9 580.2,259.9 578.0,255.0ZM591.7,251.7 596.2,249.2 601.6,249.7 600.6,253.0 595.3,254.7 591.7,251.7ZM536.0,293.7 538.0,290.4 543.9,288.8 545.9,292.9 542.6,299.5 538.5,303.6 536.0,299.5 536.0,293.7ZM569.8,284.7 571.4,282.2 573.1,283.0 570.9,286.0 569.8,284.7ZM577.2,276.4 579.2,274.4 580.5,275.6 578.2,277.4 577.2,276.4ZM545.9,348.9 554.1,348.1 560.7,351.4 562.4,357.2 557.4,358.8 551.7,356.4 546.7,353.9 545.9,348.9ZM523.8,364.6 530.1,357.2 536.0,349.8 537.6,350.6 531.1,358.8 525.3,365.4 523.8,364.6ZM892.2,304.4 894.7,302.5 897.6,303.1 895.5,305.4 892.2,304.4ZM900.4,305.3 904.5,304.8 911.1,308.1 912.8,310.2 908.7,309.4 902.9,307.4 900.4,305.3ZM911.1,313.5 914.8,311.4 918.1,314.3 914.8,318.0 912.0,316.8 911.1,313.5ZM1259.1,321.2 1263.2,319.6 1268.1,321.2 1264.0,323.4 1259.1,321.2ZM1307.7,320.1 1311.8,318.6 1315.9,320.3 1311.8,322.2 1307.7,320.1ZM1257.4,290.4 1259.9,288.0 1261.5,292.9 1259.1,295.4 1257.4,290.4ZM1264.0,283.0 1269.0,284.7 1268.1,286.3 1264.0,284.3 1264.0,283.0ZM1272.3,292.9 1275.6,297.0 1274.4,298.2 1271.4,294.2 1272.3,292.9ZM1279.7,302.0 1284.6,303.1 1284.3,304.4 1279.7,303.4 1279.7,302.0ZM1332.7,330.0 1334.4,328.3 1335.7,330.5 1334.1,331.8 1332.7,330.0ZM1335.4,336.6 1337.0,334.9 1338.2,337.1 1336.5,338.2 1335.4,336.6ZM1479.3,229.9 1481.7,228.9 1484.2,230.6 1481.4,231.6 1479.3,229.9ZM1492.5,232.7 1494.9,231.9 1497.4,233.1 1494.9,234.1 1492.5,232.7ZM1532.8,275.6 1537.0,273.9 1540.3,276.4 1537.8,278.4 1533.7,277.7 1532.8,275.6ZM1544.4,275.6 1548.0,271.1 1550.1,272.3 1546.4,277.2 1544.4,275.6ZM246.4,496.4 248.1,494.7 249.9,496.4 248.1,498.0 246.4,496.4ZM255.5,492.6 257.1,490.9 258.9,492.6 257.1,494.2 255.5,492.6ZM514.4,437.0 525.1,438.2 536.0,439.5 548.2,439.8 549.8,442.0 536.0,443.6 525.1,442.0 514.4,439.8 514.4,437.0ZM441.1,408.2 442.7,406.2 444.7,408.2 443.0,410.2 441.1,408.2ZM471.7,409.8 473.7,408.2 475.7,410.2 474.0,412.1 471.7,409.8ZM480.6,414.0 482.6,412.5 484.4,414.1 482.6,415.8 480.6,414.0ZM662.9,429.3 671.2,427.1 679.4,423.0 684.3,418.9 681.0,417.3 676.1,420.6 669.5,424.7 662.9,426.3 662.9,429.3ZM673.6,413.5 679.4,415.6 685.2,421.0 683.5,422.2 677.7,417.8 672.8,414.8 673.6,413.5ZM690.9,427.1 694.2,428.0 698.8,432.9 696.7,433.7 692.6,430.4 690.9,427.1ZM702.5,437.5 705.8,439.2 704.9,440.5 701.6,438.7 702.5,437.5ZM712.4,443.6 718.1,445.8 717.3,447.4 712.0,445.1 712.4,443.6ZM720.6,446.9 725.5,449.4 724.7,450.7 720.3,448.4 720.6,446.9ZM744.5,467.5 746.6,468.4 749.9,474.9 748.3,476.1 745.3,470.8 744.5,467.5ZM733.0,492.6 736.3,491.9 747.8,499.7 746.1,501.8 740.4,498.8 733.0,492.6ZM792.3,480.7 795.6,478.7 798.9,480.4 796.4,483.2 793.1,482.7 792.3,480.7ZM599.1,426.3 601.6,424.7 602.4,430.4 600.0,432.9 599.1,426.3ZM585.9,434.6 587.9,432.9 588.7,436.2 586.8,437.9 585.9,434.6ZM835.0,462.3 837.8,460.9 843.9,463.9 842.7,465.6 837.0,464.2 835.0,462.3ZM939.2,480.4 941.1,478.7 943.4,481.0 941.5,483.0 939.2,480.4ZM817.5,597.1 822.5,597.1 820.0,600.4 817.5,597.1ZM1280.0,587.8 1284.3,587.0 1284.9,595.3 1282.1,599.4 1279.3,596.9 1280.0,587.8ZM1199.7,404.1 1201.9,402.4 1203.5,404.6 1201.5,406.2 1199.7,404.1ZM307.2,619.9 311.2,619.1 316.6,620.7 315.0,624.0 309.2,624.9 307.2,619.9ZM875.7,755.1 883.1,753.4 893.8,755.9 894.3,759.2 886.4,761.2 878.2,759.2 875.7,755.1ZM937.2,744.0 944.1,742.4 950.7,743.7 944.1,745.3 937.2,744.0ZM1334.9,633.1 1340.0,630.9 1345.6,632.3 1344.0,635.6 1337.4,635.9 1334.9,633.1ZM1335.4,682.0 1340.0,680.7 1345.6,681.1 1340.0,683.4 1335.4,682.0ZM1401.0,672.6 1404.6,671.0 1408.4,673.1 1404.6,674.5 1401.0,672.6ZM1438.1,643.0 1443.0,642.2 1449.6,645.8 1448.0,647.9 1442.2,645.8 1438.1,643.0ZM1321.9,179.9 1328.8,179.4 1333.7,181.8 1330.8,183.3 1324.8,181.8 1321.9,179.9ZM570.1,392.7 571.9,397.7 575.0,395.9 573.2,399.9 575.0,401.2 571.5,405.7 571.0,400.8 569.7,397.7 570.1,392.7ZM571.9,416.0 578.6,414.6 584.4,416.9 579.9,417.8 574.1,417.8 571.9,416.0ZM563.4,416.4 567.4,416.0 568.3,418.2 565.2,419.1 563.4,416.4ZM551.8,448.1 554.0,443.7 558.5,440.5 565.2,439.7 568.8,439.7 565.2,442.3 558.5,445.0 554.9,447.7 551.8,448.1Z" fill="none" stroke="#000" stroke-width="2.3" stroke-linejoin="round"/></g>
<g id="map1"><use href="#fill1"/></g>
<g id="map2"><use href="#fill1"/></g>
<g id="map3" clip-path="url(#frame)"><rect x="-5" y="-5" width="1618.6" height="814.1" fill="#d6ebff"/>
<path fill="#ffe6d6" fill-rule="evenodd" d="M259,20 302,20 333,21 516,21 523,21 529,24 543,40 547,43 554,44 601,43 672,44 701,43 706,44 711,47 714,51 714,56 711,63 700,71 695,78 693,87 695,89 699,90 735,88 760,89 768,88 775,84 788,69 798,66 900,66 909,62 920,49 926,45 936,42 947,43 954,46 958,49 959,54 959,58 956,65 944,74 941,78 938,85 938,94 940,101 944,105 956,116 967,129 979,139 983,145 985,156 984,179 984,203 983,212 978,220 970,224 958,225 936,224 927,226 921,230 912,241 899,252 887,265 880,269 871,270 860,268 853,264 848,255 847,241 850,232 856,226 862,224 880,223 887,219 890,212 889,208 885,203 876,201 844,202 824,202 815,203 809,208 802,218 798,222 791,224 775,225 768,227 764,230 756,241 751,245 739,248 715,246 706,247 699,251 686,266 679,269 672,270 485,269 476,266 471,261 468,255 467,235 463,228 458,225 447,224 427,224 328,223 322,226 319,228 316,232 317,239 324,245 333,246 380,245 389,246 395,249 399,252 404,261 404,273 401,281 398,286 386,295 376,308 363,319 360,326 358,349 355,353 351,356 346,357 342,356 336,351 333,344 332,324 328,318 324,315 315,313 293,314 268,313 259,314 253,317 241,331 228,342 219,354 214,357 208,359 0,358 0,313 22,314 31,313 38,310 41,304 39,297 36,294 31,292 0,291 0,256 9,264 18,266 60,267 136,267 145,268 152,271 156,277 158,284 158,299 161,306 165,310 170,312 183,313 192,310 196,306 199,302 200,290 199,266 202,255 206,250 217,240 241,217 242,210 239,206 235,202 228,201 219,201 212,203 208,207 198,219 194,221 190,223 183,221 172,206 165,202 159,201 130,202 123,203 118,205 107,220 101,224 89,226 78,224 71,219 62,208 47,197 45,192 46,185 49,181 54,178 60,177 74,178 80,176 85,172 94,160 101,156 109,154 208,156 212,155 217,152 228,137 235,133 244,132 275,132 279,133 285,136 295,150 299,153 304,155 315,156 351,156 380,154 389,155 396,159 409,174 416,178 424,179 469,177 478,178 483,180 487,183 496,194 503,199 512,200 538,200 545,199 551,197 562,183 567,179 574,178 590,177 597,174 600,170 602,165 602,150 604,143 608,137 614,134 626,132 690,133 692,134 695,147 699,153 706,154 710,151 712,147 712,143 708,137 704,135 693,133 692,132 691,94 690,92 672,90 646,91 637,90 630,86 621,75 617,71 610,69 603,68 596,69 590,71 585,75 576,86 572,88 565,90 552,90 545,92 541,96 532,108 527,111 521,113 375,113 369,114 364,117 355,127 349,132 342,135 333,135 324,133 315,127 312,121 311,101 308,96 302,93 293,91 273,92 235,92 199,89 192,90 188,92 183,96 174,108 170,112 163,113 29,115 26,116 24,118 24,143 23,147 20,152 16,155 11,155 4,153 0,149 0,55 3,49 7,46 11,44 18,46 22,49 23,54 23,58 20,63 4,74 1,85 1,96 3,103 9,108 16,110 20,108 27,94 31,90 36,87 47,86 71,89 78,87 83,85 86,80 85,75 83,71 69,60 67,54 69,49 71,46 80,43 109,44 206,43 212,45 216,47 230,61 239,65 248,66 293,67 302,65 306,63 309,58 309,54 306,49 302,46 290,45 264,46 257,45 250,40 247,36 247,29 250,24ZM275,249 271,255 271,261 277,266 284,265 286,263 288,259 286,252 281,249ZM1339,20 1387,20 1416,21 1450,20 1519,21 1544,21 1555,23 1560,27 1569,38 1580,47 1583,51 1588,64 1593,65 1602,64 1606,60 1608,55 1608,149 1602,140 1597,137 1593,135 1586,134 1579,135 1573,138 1567,143 1559,152 1553,157 1539,158 1533,158 1526,155 1521,151 1519,145 1518,127 1516,121 1512,116 1501,107 1497,101 1496,89 1497,65 1496,58 1493,54 1488,49 1481,46 1450,45 1441,47 1436,50 1433,58 1432,63 1433,65 1439,66 1459,66 1466,68 1469,71 1472,76 1472,80 1471,85 1467,89 1461,92 1441,92 1434,94 1425,109 1412,119 1401,131 1396,134 1390,136 1381,136 1373,134 1367,131 1364,127 1362,123 1363,107 1361,101 1356,95 1352,93 1347,93 1343,95 1336,107 1324,118 1321,123 1319,130 1320,143 1317,150 1314,154 1302,160 1295,172 1289,177 1285,178 1280,177 1277,174 1275,170 1275,165 1278,161 1289,152 1292,147 1291,143 1289,138 1285,134 1280,133 1273,133 1267,134 1261,136 1256,141 1253,147 1250,170 1247,175 1242,178 1238,178 1233,176 1229,172 1222,162 1218,158 1211,157 1195,156 1191,155 1187,152 1183,143 1182,130 1185,121 1191,114 1195,112 1202,110 1229,111 1238,110 1244,106 1256,94 1264,90 1273,88 1331,86 1338,83 1343,74 1348,69 1354,67 1361,65 1369,66 1376,69 1382,74 1392,84 1398,88 1405,89 1414,88 1422,87 1425,85 1428,78 1428,71 1428,69 1414,63 1398,49 1390,46 1352,46 1318,48 1289,47 1280,51 1269,62 1264,65 1258,67 1251,68 1226,69 1218,67 1210,63 1205,54 1204,42 1207,31 1213,25 1220,22ZM1575,71 1566,76 1547,96 1545,103 1548,107 1550,110 1559,112 1568,111 1577,107 1582,102 1585,92 1584,76 1582,71ZM1132,87 1146,87 1155,90 1159,94 1160,98 1160,103 1158,107 1153,112 1144,115 1133,114 1124,111 1119,105 1118,101 1119,96 1124,90ZM1592,181 1597,180 1602,181 1608,187 1608,213 1604,219 1592,228 1590,235 1592,241 1608,256 1608,291 1593,290 1568,291 1566,293 1565,297 1568,306 1571,309 1575,312 1584,314 1608,313 1608,358 1582,358 1562,359 1553,358 1546,354 1537,342 1523,331 1512,318 1508,315 1497,313 1448,315 1439,313 1432,308 1431,304 1431,299 1432,295 1436,291 1443,289 1463,288 1468,285 1471,281 1471,277 1469,273 1457,263 1452,257 1450,250 1449,244 1451,237 1454,230 1468,218 1479,205 1486,201 1495,199 1544,199 1564,201 1571,201 1578,197 1588,184ZM1548,250 1544,255 1541,260 1541,268 1542,277 1544,281 1548,286 1555,288 1562,288 1563,284 1564,270 1563,257 1560,252 1557,250 1553,249ZM0,188 0,187 2,192 3,199 2,206 0,213ZM1294,199 1302,199 1310,201 1315,206 1323,218 1327,220 1334,222 1345,222 1352,220 1357,217 1369,203 1378,200 1412,199 1419,200 1426,203 1429,208 1429,212 1428,217 1425,221 1413,230 1403,242 1396,246 1387,247 1367,247 1336,248 1329,247 1323,244 1320,239 1315,230 1311,227 1305,226 1287,226 1282,224 1277,221 1274,214 1276,208 1282,202ZM1058,201 1063,201 1068,203 1072,208 1077,219 1079,221 1086,222 1104,222 1108,222 1113,226 1116,230 1115,237 1112,241 1099,255 1097,261 1097,267 1104,269 1124,268 1128,268 1133,271 1144,283 1159,295 1161,299 1161,304 1157,311 1153,313 1146,315 1113,314 1104,312 1098,308 1095,304 1093,297 1094,275 1093,270 1079,266 1073,261 1071,255 1071,237 1070,230 1068,228 1054,221 1051,217 1050,212 1051,208 1054,203ZM485,422 514,422 525,424 532,428 543,442 552,446 561,447 583,445 594,447 599,451 602,458 604,480 608,486 612,488 619,487 623,481 625,460 626,456 629,451 632,449 637,447 641,448 646,451 650,458 650,476 652,483 655,487 668,498 671,507 672,585 670,593 667,599 661,603 652,604 619,605 612,604 608,601 604,596 604,590 608,585 619,576 622,570 622,565 620,563 614,559 605,558 585,560 534,560 525,559 518,555 509,543 495,532 491,525 490,518 490,491 490,483 494,476 508,465 510,458 509,454 503,449 496,448 480,448 476,446 471,442 470,436 472,429 477,424ZM52,469 63,467 101,468 105,470 109,474 111,480 110,485 106,489 87,507 80,512 76,512 69,509 61,498 50,489 46,485 45,480 46,476 49,471ZM1304,491 1311,492 1314,494 1318,498 1319,503 1318,507 1314,512 1311,513 1307,514 1302,513 1298,510 1296,505 1295,500 1297,496 1300,493ZM122,514 127,514 133,518 134,525 132,532 118,541 107,556 101,559 94,557 91,554 89,550 89,545 92,541 96,537 105,531 115,518ZM1199,534 1213,534 1222,537 1226,541 1228,545 1228,550 1226,554 1220,559 1211,561 1200,561 1191,558 1186,552 1185,547 1186,543 1191,537ZM1511,534 1544,534 1553,535 1557,537 1561,541 1563,545 1563,552 1560,556 1557,558 1550,561 1515,560 1508,559 1500,554 1498,550 1497,545 1499,541 1501,538 1506,535ZM1279,538 1285,537 1291,540 1296,545 1298,552 1299,563 1297,572 1293,576 1287,580 1282,580 1276,576 1273,572 1271,565 1270,556 1272,547 1274,543ZM888,556 920,556 929,558 934,561 937,565 938,570 937,574 932,580 923,583 889,583 880,581 874,576 872,572 872,567 874,563 878,559ZM1362,556 1372,557 1378,559 1383,565 1384,572 1381,577 1369,587 1358,600 1354,602 1347,601 1341,596 1339,590 1338,579 1340,570 1343,565 1347,561 1354,558ZM1058,581 1068,579 1099,580 1106,581 1111,583 1116,590 1118,599 1117,610 1114,619 1108,624 1099,627 1088,627 1080,623 1068,611 1055,601 1052,596 1051,592 1051,588 1054,583ZM1462,581 1474,579 1501,581 1526,581 1535,585 1548,597 1555,601 1564,602 1608,601 1608,638 1600,631 1591,628 1564,629 1521,626 1512,626 1504,630 1492,643 1483,648 1474,649 1428,647 1419,649 1414,652 1411,657 1411,661 1414,666 1421,670 1430,671 1448,670 1524,669 1544,665 1557,663 1608,664 1608,728 1600,737 1591,740 1495,739 1472,740 1466,739 1461,737 1457,734 1448,721 1443,718 1436,715 1421,714 1414,711 1392,690 1381,677 1374,674 1367,673 1364,677 1357,690 1345,700 1341,706 1340,717 1345,728 1352,734 1358,735 1405,734 1416,736 1421,737 1426,742 1429,746 1429,751 1424,757 1420,760 1414,761 1363,760 1354,761 1348,764 1345,768 1345,773 1347,777 1352,781 1361,783 1381,782 1416,782 1461,780 1568,780 1588,781 1595,780 1600,778 1604,775 1608,769 1608,804 0,804 0,769 4,763 11,759 18,757 45,758 56,757 60,754 65,749 67,744 68,737 67,731 63,726 58,723 51,722 13,722 6,724 0,728 0,664 34,665 58,670 76,671 83,674 94,681 103,684 194,684 214,686 244,691 290,692 297,692 304,689 308,686 319,672 324,670 331,669 565,669 596,668 655,668 663,671 669,677 670,681 669,686 663,692 659,694 652,695 601,694 592,696 587,699 564,719 562,726 563,731 567,735 576,737 601,735 693,736 764,735 771,737 775,739 787,753 791,756 795,758 804,759 822,758 873,759 885,756 889,753 891,749 893,739 892,717 893,706 897,697 905,692 916,691 1075,692 1101,686 1117,686 1153,686 1182,692 1204,691 1231,692 1240,691 1262,685 1270,681 1280,674 1287,671 1314,671 1356,667 1361,664 1365,655 1369,650 1379,641 1390,630 1402,619 1412,607 1419,603 1436,602 1443,600 1448,597 1456,585ZM221,719 210,722 199,723 150,724 141,727 137,731 137,733 139,735 143,737 150,739 190,739 230,737 237,734 241,731 242,728 242,724 239,719 237,718 230,717ZM1202,759 1195,761 1191,763 1188,766 1187,771 1188,775 1191,778 1195,781 1200,782 1278,782 1300,783 1309,780 1312,777 1314,773 1313,768 1310,764 1306,762 1300,760ZM1305,723 1300,726 1299,731 1302,734 1309,735 1313,731 1313,726 1309,723ZM150,762 141,765 138,768 137,773 139,776 141,780 150,783 228,783 238,780 240,777 242,773 242,768 239,765 235,762 230,761ZM1154,601 1188,601 1195,601 1200,603 1204,607 1206,612 1206,617 1202,623 1193,627 1159,628 1151,627 1144,622 1142,619 1141,614 1142,610 1145,605 1148,603ZM0,603 0,601 2,602 13,604 27,617 40,628 43,632 44,637 40,643 31,648 20,648 9,645 0,638ZM752,668 766,668 773,670 777,672 780,677 781,681 780,686 777,690 771,694 760,696 748,694 742,690 738,684 739,677 744,671Z"/>
<path fill="#ffccb8" fill-rule="evenodd" d="M1558,675 1608,676 1608,704 1600,697 1593,695 1584,694 1562,696 1554,695 1548,693 1544,688 1543,684 1544,681 1549,677ZM0,677 0,676 31,676 40,679 54,687 63,689 103,691 179,691 194,692 206,694 213,697 217,700 218,704 215,708 211,710 196,715 181,716 147,716 116,723 94,721 85,720 71,713 63,711 45,710 16,709 4,707 0,704ZM1284,690 1296,688 1309,690 1314,692 1317,695 1318,701 1316,706 1311,708 1296,711 1276,718 1262,717 1258,715 1253,711 1253,706 1254,704 1258,700ZM1103,699 1115,697 1148,698 1157,701 1159,704 1161,708 1159,712 1157,714 1148,718 1108,718 1100,715 1096,710 1096,706 1097,704Z"/>
<path fill="#ffaa85" fill-rule="evenodd" d="M98,701 109,700 181,700 190,701 192,704 189,706 183,707 147,707 112,712 103,711 97,708 95,706 95,704Z"/>
<rect x="0" y="0" width="1608.6" height="7.5" fill="#ffe6d6"/></g>
</defs>
<g transform="translate(6.0,175.4)"><use href="#map1"/><use href="#coast"/></g>
<rect x="6.0" y="175.4" width="1608.6" height="804.1" fill="none" stroke="#000" stroke-width="2.2"/>
<g transform="translate(6.0,1187.8)"><use href="#map2"/><use href="#coast"/></g>
<rect x="6.0" y="1187.8" width="1608.6" height="804.1" fill="none" stroke="#000" stroke-width="2.2"/>
<g transform="translate(6.0,2200.2)"><use href="#map3"/><use href="#coast"/></g>
<rect x="6.0" y="2200.2" width="1608.6" height="804.1" fill="none" stroke="#000" stroke-width="2.2"/>
<text x="395.5" y="46.5" font-size="52" textLength="833" lengthAdjust="spacingAndGlyphs" xml:space="preserve">f09.B-2xCO2.cfmip.cf40 (yrs 1-50)</text>
<text x="395.5" y="1058.9" font-size="52" textLength="833" lengthAdjust="spacingAndGlyphs" xml:space="preserve">f09.B-2xCO2.cfmip.cf40 (yrs 1-30)</text>
<text x="202.5" y="2071.3" font-size="52" textLength="1216" lengthAdjust="spacingAndGlyphs" xml:space="preserve">f09.B-2xCO2.cfmip.cf40 - f09.B-2xCO2.cfmip.cf40</text>
<text x="4" y="125.4" font-size="44.5" font-weight="bold" xml:space="preserve">Surf clearsky net LW</text>
<text x="4" y="1137.8" font-size="44.5" font-weight="bold" xml:space="preserve">Surf clearsky net LW</text>
<text x="670.5" y="134.3" font-size="44.5" font-weight="bold" xml:space="preserve">mean=  75.53</text>
<text x="670.5" y="1146.7" font-size="44.5" font-weight="bold" xml:space="preserve">mean=  75.83</text>
<text x="3.5" y="2159.1" font-size="44.5" font-weight="bold" xml:space="preserve">mean =  -0.31</text>
<text x="677" y="2159.1" font-size="44.5" font-weight="bold" xml:space="preserve">rmse =   0.72</text>
<text x="1507.5" y="133.6" font-size="44.5" font-weight="bold" xml:space="preserve">W/m<tspan font-size="27" dy="-21">2</tspan></text>
<text x="1507.5" y="1146.0" font-size="44.5" font-weight="bold" xml:space="preserve">W/m<tspan font-size="27" dy="-21">2</tspan></text>
<text x="1507.5" y="2158.4" font-size="44.5" font-weight="bold" xml:space="preserve">W/m<tspan font-size="27" dy="-21">2</tspan></text>
<text x="1790" y="111.4" font-size="99" font-weight="bold" textLength="169" lengthAdjust="spacingAndGlyphs" xml:space="preserve">JJA</text>
<text x="1676" y="262.2" font-size="38.5" font-weight="bold" textLength="472" lengthAdjust="spacingAndGlyphs" xml:space="preserve">Min =  17.08 Max = 164.81</text>
<text x="1676" y="1274.6" font-size="38.5" font-weight="bold" textLength="472" lengthAdjust="spacingAndGlyphs" xml:space="preserve">Min =  15.69 Max = 164.95</text>
<text x="1676" y="2287.0" font-size="38.5" font-weight="bold" textLength="449" lengthAdjust="spacingAndGlyphs" xml:space="preserve">Min =  -4.63 Max =   7.10</text>
<rect x="1837.3" y="923.27" width="69.8" height="39.53" fill="#00008b" stroke="#000" stroke-width="1.6"/>
<rect x="1837.3" y="883.74" width="69.8" height="39.53" fill="#0020bd" stroke="#000" stroke-width="1.6"/>
<rect x="1837.3" y="844.21" width="69.8" height="39.53" fill="#0033e2" stroke="#000" stroke-width="1.6"/>
<rect x="1837.3" y="804.67" width="69.8" height="39.53" fill="#1a4fff" stroke="#000" stroke-width="1.6"/>
<rect x="1837.3" y="765.14" width="69.8" height="39.53" fill="#477aff" stroke="#000" stroke-width="1.6"/>
<rect x="1837.3" y="725.61" width="69.8" height="39.53" fill="#85abff" stroke="#000" stroke-width="1.6"/>
<rect x="1837.3" y="686.08" width="69.8" height="39.53" fill="#b8d4ff" stroke="#000" stroke-width="1.6"/>
<rect x="1837.3" y="646.55" width="69.8" height="39.53" fill="#d6ebff" stroke="#000" stroke-width="1.6"/>
<rect x="1837.3" y="607.02" width="69.8" height="39.53" fill="#ffe6d6" stroke="#000" stroke-width="1.6"/>
<rect x="1837.3" y="567.49" width="69.8" height="39.53" fill="#ffccb8" stroke="#000" stroke-width="1.6"/>
<rect x="1837.3" y="527.96" width="69.8" height="39.53" fill="#ffaa85" stroke="#000" stroke-width="1.6"/>
<rect x="1837.3" y="488.42" width="69.8" height="39.53" fill="#ff7a47" stroke="#000" stroke-width="1.6"/>
<rect x="1837.3" y="448.89" width="69.8" height="39.53" fill="#ff4f1a" stroke="#000" stroke-width="1.6"/>
<rect x="1837.3" y="409.36" width="69.8" height="39.53" fill="#e23400" stroke="#000" stroke-width="1.6"/>
<rect x="1837.3" y="369.83" width="69.8" height="39.53" fill="#bd2600" stroke="#000" stroke-width="1.6"/>
<rect x="1837.3" y="330.30" width="69.8" height="39.53" fill="#8b0000" stroke="#000" stroke-width="1.6"/>
<rect x="1837.3" y="330.3" width="69.8" height="632.5" fill="none" stroke="#000" stroke-width="2"/>
<text x="1963" y="934.5" font-size="31" font-weight="bold" text-anchor="middle" xml:space="preserve">50</text>
<text x="1963" y="894.9" font-size="31" font-weight="bold" text-anchor="middle" xml:space="preserve">60</text>
<text x="1963" y="855.4" font-size="31" font-weight="bold" text-anchor="middle" xml:space="preserve">70</text>
<text x="1963" y="815.9" font-size="31" font-weight="bold" text-anchor="middle" xml:space="preserve">75</text>
<text x="1963" y="776.3" font-size="31" font-weight="bold" text-anchor="middle" xml:space="preserve">80</text>
<text x="1963" y="736.8" font-size="31" font-weight="bold" text-anchor="middle" xml:space="preserve">85</text>
<text x="1963" y="697.3" font-size="31" font-weight="bold" text-anchor="middle" xml:space="preserve">90</text>
<text x="1963" y="657.8" font-size="31" font-weight="bold" text-anchor="middle" xml:space="preserve">100</text>
<text x="1963" y="618.2" font-size="31" font-weight="bold" text-anchor="middle" xml:space="preserve">110</text>
<text x="1963" y="578.7" font-size="31" font-weight="bold" text-anchor="middle" xml:space="preserve">120</text>
<text x="1963" y="539.2" font-size="31" font-weight="bold" text-anchor="middle" xml:space="preserve">130</text>
<text x="1963" y="499.6" font-size="31" font-weight="bold" text-anchor="middle" xml:space="preserve">140</text>
<text x="1963" y="460.1" font-size="31" font-weight="bold" text-anchor="middle" xml:space="preserve">160</text>
<text x="1963" y="420.6" font-size="31" font-weight="bold" text-anchor="middle" xml:space="preserve">180</text>
<text x="1963" y="381.0" font-size="31" font-weight="bold" text-anchor="middle" xml:space="preserve">200</text>
<rect x="1837.3" y="1935.67" width="69.8" height="39.53" fill="#00008b" stroke="#000" stroke-width="1.6"/>
<rect x="1837.3" y="1896.14" width="69.8" height="39.53" fill="#0020bd" stroke="#000" stroke-width="1.6"/>
<rect x="1837.3" y="1856.61" width="69.8" height="39.53" fill="#0033e2" stroke="#000" stroke-width="1.6"/>
<rect x="1837.3" y="1817.07" width="69.8" height="39.53" fill="#1a4fff" stroke="#000" stroke-width="1.6"/>
<rect x="1837.3" y="1777.54" width="69.8" height="39.53" fill="#477aff" stroke="#000" stroke-width="1.6"/>
<rect x="1837.3" y="1738.01" width="69.8" height="39.53" fill="#85abff" stroke="#000" stroke-width="1.6"/>
<rect x="1837.3" y="1698.48" width="69.8" height="39.53" fill="#b8d4ff" stroke="#000" stroke-width="1.6"/>
<rect x="1837.3" y="1658.95" width="69.8" height="39.53" fill="#d6ebff" stroke="#000" stroke-width="1.6"/>
<rect x="1837.3" y="1619.42" width="69.8" height="39.53" fill="#ffe6d6" stroke="#000" stroke-width="1.6"/>
<rect x="1837.3" y="1579.89" width="69.8" height="39.53" fill="#ffccb8" stroke="#000" stroke-width="1.6"/>
<rect x="1837.3" y="1540.36" width="69.8" height="39.53" fill="#ffaa85" stroke="#000" stroke-width="1.6"/>
<rect x="1837.3" y="1500.83" width="69.8" height="39.53" fill="#ff7a47" stroke="#000" stroke-width="1.6"/>
<rect x="1837.3" y="1461.29" width="69.8" height="39.53" fill="#ff4f1a" stroke="#000" stroke-width="1.6"/>
<rect x="1837.3" y="1421.76" width="69.8" height="39.53" fill="#e23400" stroke="#000" stroke-width="1.6"/>
<rect x="1837.3" y="1382.23" width="69.8" height="39.53" fill="#bd2600" stroke="#000" stroke-width="1.6"/>
<rect x="1837.3" y="1342.70" width="69.8" height="39.53" fill="#8b0000" stroke="#000" stroke-width="1.6"/>
<rect x="1837.3" y="1342.7" width="69.8" height="632.5" fill="none" stroke="#000" stroke-width="2"/>
<text x="1963" y="1946.9" font-size="31" font-weight="bold" text-anchor="middle" xml:space="preserve">50</text>
<text x="1963" y="1907.3" font-size="31" font-weight="bold" text-anchor="middle" xml:space="preserve">60</text>
<text x="1963" y="1867.8" font-size="31" font-weight="bold" text-anchor="middle" xml:space="preserve">70</text>
<text x="1963" y="1828.3" font-size="31" font-weight="bold" text-anchor="middle" xml:space="preserve">75</text>
<text x="1963" y="1788.7" font-size="31" font-weight="bold" text-anchor="middle" xml:space="preserve">80</text>
<text x="1963" y="1749.2" font-size="31" font-weight="bold" text-anchor="middle" xml:space="preserve">85</text>
<text x="1963" y="1709.7" font-size="31" font-weight="bold" text-anchor="middle" xml:space="preserve">90</text>
<text x="1963" y="1670.1" font-size="31" font-weight="bold" text-anchor="middle" xml:space="preserve">100</text>
<text x="1963" y="1630.6" font-size="31" font-weight="bold" text-anchor="middle" xml:space="preserve">110</text>
<text x="1963" y="1591.1" font-size="31" font-weight="bold" text-anchor="middle" xml:space="preserve">120</text>
<text x="1963" y="1551.6" font-size="31" font-weight="bold" text-anchor="middle" xml:space="preserve">130</text>
<text x="1963" y="1512.0" font-size="31" font-weight="bold" text-anchor="middle" xml:space="preserve">140</text>
<text x="1963" y="1472.5" font-size="31" font-weight="bold" text-anchor="middle" xml:space="preserve">160</text>
<text x="1963" y="1433.0" font-size="31" font-weight="bold" text-anchor="middle" xml:space="preserve">180</text>
<text x="1963" y="1393.4" font-size="31" font-weight="bold" text-anchor="middle" xml:space="preserve">200</text>
<rect x="1830.0" y="2948.07" width="66.3" height="39.53" fill="#00008b" stroke="#000" stroke-width="1.6"/>
<rect x="1830.0" y="2908.54" width="66.3" height="39.53" fill="#0020bd" stroke="#000" stroke-width="1.6"/>
<rect x="1830.0" y="2869.01" width="66.3" height="39.53" fill="#0033e2" stroke="#000" stroke-width="1.6"/>
<rect x="1830.0" y="2829.47" width="66.3" height="39.53" fill="#1a4fff" stroke="#000" stroke-width="1.6"/>
<rect x="1830.0" y="2789.94" width="66.3" height="39.53" fill="#477aff" stroke="#000" stroke-width="1.6"/>
<rect x="1830.0" y="2750.41" width="66.3" height="39.53" fill="#85abff" stroke="#000" stroke-width="1.6"/>
<rect x="1830.0" y="2710.88" width="66.3" height="39.53" fill="#b8d4ff" stroke="#000" stroke-width="1.6"/>
<rect x="1830.0" y="2671.35" width="66.3" height="39.53" fill="#d6ebff" stroke="#000" stroke-width="1.6"/>
<rect x="1830.0" y="2631.82" width="66.3" height="39.53" fill="#ffe6d6" stroke="#000" stroke-width="1.6"/>
<rect x="1830.0" y="2592.29" width="66.3" height="39.53" fill="#ffccb8" stroke="#000" stroke-width="1.6"/>
<rect x="1830.0" y="2552.76" width="66.3" height="39.53" fill="#ffaa85" stroke="#000" stroke-width="1.6"/>
<rect x="1830.0" y="2513.22" width="66.3" height="39.53" fill="#ff7a47" stroke="#000" stroke-width="1.6"/>
<rect x="1830.0" y="2473.69" width="66.3" height="39.53" fill="#ff4f1a" stroke="#000" stroke-width="1.6"/>
<rect x="1830.0" y="2434.16" width="66.3" height="39.53" fill="#e23400" stroke="#000" stroke-width="1.6"/>
<rect x="1830.0" y="2394.63" width="66.3" height="39.53" fill="#bd2600" stroke="#000" stroke-width="1.6"/>
<rect x="1830.0" y="2355.10" width="66.3" height="39.53" fill="#8b0000" stroke="#000" stroke-width="1.6"/>
<rect x="1830.0" y="2355.1" width="66.3" height="632.5" fill="none" stroke="#000" stroke-width="2"/>
<text x="1948.5" y="2959.3" font-size="31" font-weight="bold" text-anchor="middle" xml:space="preserve">-25</text>
<text x="1948.5" y="2919.7" font-size="31" font-weight="bold" text-anchor="middle" xml:space="preserve">-20</text>
<text x="1948.5" y="2880.2" font-size="31" font-weight="bold" text-anchor="middle" xml:space="preserve">-15</text>
<text x="1948.5" y="2840.7" font-size="31" font-weight="bold" text-anchor="middle" xml:space="preserve">-12</text>
<text x="1948.5" y="2801.1" font-size="31" font-weight="bold" text-anchor="middle" xml:space="preserve">-9</text>
<text x="1948.5" y="2761.6" font-size="31" font-weight="bold" text-anchor="middle" xml:space="preserve">-6</text>
<text x="1948.5" y="2722.1" font-size="31" font-weight="bold" text-anchor="middle" xml:space="preserve">-3</text>
<text x="1948.5" y="2682.5" font-size="31" font-weight="bold" text-anchor="middle" xml:space="preserve">0</text>
<text x="1948.5" y="2643.0" font-size="31" font-weight="bold" text-anchor="middle" xml:space="preserve">3</text>
<text x="1948.5" y="2603.5" font-size="31" font-weight="bold" text-anchor="middle" xml:space="preserve">6</text>
<text x="1948.5" y="2564.0" font-size="31" font-weight="bold" text-anchor="middle" xml:space="preserve">9</text>
<text x="1948.5" y="2524.4" font-size="31" font-weight="bold" text-anchor="middle" xml:space="preserve">12</text>
<text x="1948.5" y="2484.9" font-size="31" font-weight="bold" text-anchor="middle" xml:space="preserve">15</text>
<text x="1948.5" y="2445.4" font-size="31" font-weight="bold" text-anchor="middle" xml:space="preserve">20</text>
<text x="1948.5" y="2405.8" font-size="31" font-weight="bold" text-anchor="middle" xml:space="preserve">25</text>
</svg></body></html>
